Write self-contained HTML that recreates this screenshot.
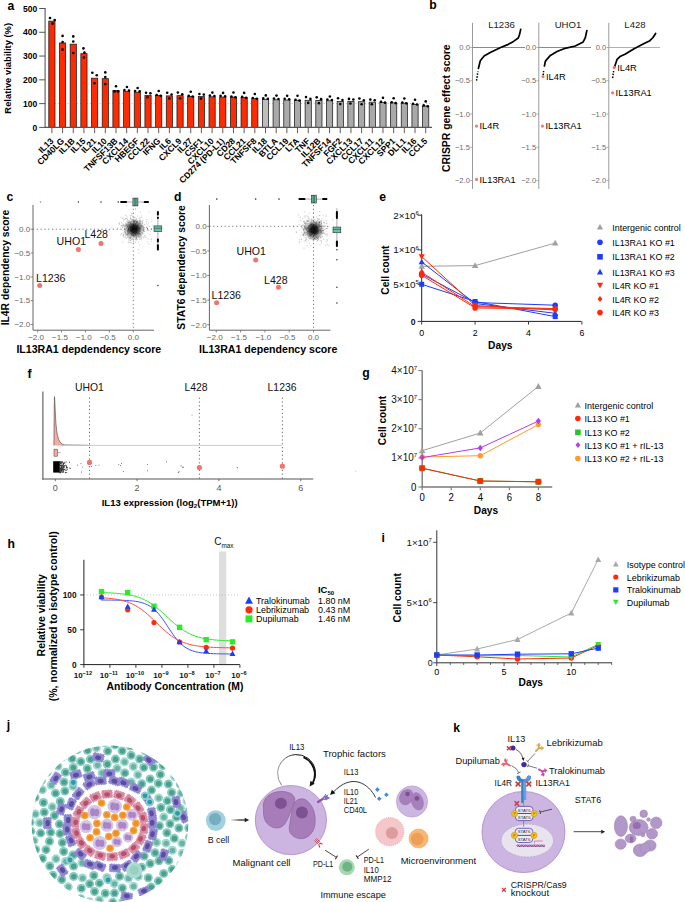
<!DOCTYPE html>
<html><head><meta charset="utf-8"><style>
html,body{margin:0;padding:0;background:#fff;overflow:hidden;}
svg{display:block;font-family:"Liberation Sans",sans-serif;}
</style></head><body>
<svg width="685" height="902" viewBox="0 0 685 902">
<rect width="685" height="902" fill="#fff"/>
<text x="7.4" y="9.9" font-size="12.2" font-weight="bold" fill="#000">a</text>
<line x1="45.1" y1="103.62" x2="432" y2="103.62" stroke="#9a9a9a" stroke-width="0.7" stroke-dasharray="1,2.2"/>
<rect x="48.8" y="21.1" width="6.2" height="106.3" fill="#fe2a00" stroke="#1a1a1a" stroke-width="0.75"/>
<circle cx="50" cy="18" r="1.3" fill="#000"/>
<circle cx="52.5" cy="23.6" r="1.3" fill="#000"/>
<circle cx="54.7" cy="20.1" r="1.3" fill="#000"/>
<line x1="51.9" y1="127.4" x2="51.9" y2="133.1" stroke="#333" stroke-width="0.8"/>
<text x="54.1" y="141.6" font-size="8.6" font-weight="bold" text-anchor="end" fill="#000" transform="rotate(-45 54.1 141.6)">IL13</text>
<rect x="59.48" y="42.98" width="6.2" height="84.42" fill="#fe2a00" stroke="#1a1a1a" stroke-width="0.75"/>
<circle cx="62.58" cy="35.9" r="1.3" fill="#000"/>
<circle cx="62.58" cy="42" r="1.3" fill="#000"/>
<circle cx="62.58" cy="49.6" r="1.3" fill="#000"/>
<line x1="62.58" y1="127.4" x2="62.58" y2="133.1" stroke="#333" stroke-width="0.8"/>
<text x="64.78" y="141.6" font-size="8.6" font-weight="bold" text-anchor="end" fill="#000" transform="rotate(-45 64.78 141.6)">CD40LG</text>
<rect x="70.16" y="44.17" width="6.2" height="83.23" fill="#fe2a00" stroke="#1a1a1a" stroke-width="0.75"/>
<circle cx="73.26" cy="36.4" r="1.3" fill="#000"/>
<circle cx="73.26" cy="41.5" r="1.3" fill="#000"/>
<circle cx="73.26" cy="53.1" r="1.3" fill="#000"/>
<line x1="73.26" y1="127.4" x2="73.26" y2="133.1" stroke="#333" stroke-width="0.8"/>
<text x="75.46" y="141.6" font-size="8.6" font-weight="bold" text-anchor="end" fill="#000" transform="rotate(-45 75.46 141.6)">IL1B</text>
<rect x="80.84" y="53.68" width="6.2" height="73.72" fill="#fe2a00" stroke="#1a1a1a" stroke-width="0.75"/>
<circle cx="83.44" cy="48.4" r="1.3" fill="#000"/>
<circle cx="84.44" cy="52.6" r="1.3" fill="#000"/>
<circle cx="83.94" cy="57.5" r="1.3" fill="#000"/>
<line x1="83.94" y1="127.4" x2="83.94" y2="133.1" stroke="#333" stroke-width="0.8"/>
<text x="86.14" y="141.6" font-size="8.6" font-weight="bold" text-anchor="end" fill="#000" transform="rotate(-45 86.14 141.6)">IL15</text>
<rect x="91.52" y="78.18" width="6.2" height="49.22" fill="#fe2a00" stroke="#1a1a1a" stroke-width="0.75"/>
<circle cx="92.32" cy="72.7" r="1.3" fill="#000"/>
<circle cx="96.72" cy="75.3" r="1.3" fill="#000"/>
<circle cx="94.62" cy="83.2" r="1.3" fill="#000"/>
<line x1="94.62" y1="127.4" x2="94.62" y2="133.1" stroke="#333" stroke-width="0.8"/>
<text x="96.82" y="141.6" font-size="8.6" font-weight="bold" text-anchor="end" fill="#000" transform="rotate(-45 96.82 141.6)">IL21</text>
<rect x="102.2" y="78.65" width="6.2" height="48.75" fill="#fe2a00" stroke="#1a1a1a" stroke-width="0.75"/>
<circle cx="105.3" cy="72.4" r="1.3" fill="#000"/>
<circle cx="105.3" cy="77.1" r="1.3" fill="#000"/>
<circle cx="105.3" cy="84.1" r="1.3" fill="#000"/>
<line x1="105.3" y1="127.4" x2="105.3" y2="133.1" stroke="#333" stroke-width="0.8"/>
<text x="107.5" y="141.6" font-size="8.6" font-weight="bold" text-anchor="end" fill="#000" transform="rotate(-45 107.5 141.6)">IL10</text>
<rect x="112.88" y="90.54" width="6.2" height="36.86" fill="#fe2a00" stroke="#1a1a1a" stroke-width="0.75"/>
<circle cx="115.98" cy="86.2" r="1.3" fill="#000"/>
<circle cx="114.58" cy="91.4" r="1.3" fill="#000"/>
<circle cx="118.08" cy="91.4" r="1.3" fill="#000"/>
<line x1="115.98" y1="127.4" x2="115.98" y2="133.1" stroke="#333" stroke-width="0.8"/>
<text x="118.18" y="141.6" font-size="8.6" font-weight="bold" text-anchor="end" fill="#000" transform="rotate(-45 118.18 141.6)">TNFSF13B</text>
<rect x="123.56" y="91.25" width="6.2" height="36.15" fill="#fe2a00" stroke="#1a1a1a" stroke-width="0.75"/>
<circle cx="124.46" cy="90.05" r="1.3" fill="#000"/>
<circle cx="126.96" cy="87.05" r="1.3" fill="#000"/>
<circle cx="128.96" cy="90.45" r="1.3" fill="#000"/>
<line x1="126.66" y1="127.4" x2="126.66" y2="133.1" stroke="#333" stroke-width="0.8"/>
<text x="128.86" y="141.6" font-size="8.6" font-weight="bold" text-anchor="end" fill="#000" transform="rotate(-45 128.86 141.6)">CXCL14</text>
<rect x="134.24" y="92.21" width="6.2" height="35.19" fill="#fe2a00" stroke="#1a1a1a" stroke-width="0.75"/>
<circle cx="135.14" cy="91.01" r="1.3" fill="#000"/>
<circle cx="137.64" cy="88.01" r="1.3" fill="#000"/>
<circle cx="139.64" cy="91.41" r="1.3" fill="#000"/>
<line x1="137.34" y1="127.4" x2="137.34" y2="133.1" stroke="#333" stroke-width="0.8"/>
<text x="139.54" y="141.6" font-size="8.6" font-weight="bold" text-anchor="end" fill="#000" transform="rotate(-45 139.54 141.6)">HBEGF</text>
<rect x="144.92" y="95.3" width="6.2" height="32.1" fill="#fe2a00" stroke="#1a1a1a" stroke-width="0.75"/>
<circle cx="146.02" cy="92.7" r="1.3" fill="#000"/>
<circle cx="150.42" cy="93.3" r="1.3" fill="#000"/>
<circle cx="147.52" cy="97.3" r="1.3" fill="#000"/>
<line x1="148.02" y1="127.4" x2="148.02" y2="133.1" stroke="#333" stroke-width="0.8"/>
<text x="150.22" y="141.6" font-size="8.6" font-weight="bold" text-anchor="end" fill="#000" transform="rotate(-45 150.22 141.6)">CCL22</text>
<rect x="155.6" y="95.53" width="6.2" height="31.87" fill="#fe2a00" stroke="#1a1a1a" stroke-width="0.75"/>
<circle cx="158.7" cy="90.93" r="1.3" fill="#000"/>
<circle cx="156.7" cy="94.93" r="1.3" fill="#000"/>
<circle cx="160.7" cy="95.73" r="1.3" fill="#000"/>
<line x1="158.7" y1="127.4" x2="158.7" y2="133.1" stroke="#333" stroke-width="0.8"/>
<text x="160.9" y="141.6" font-size="8.6" font-weight="bold" text-anchor="end" fill="#000" transform="rotate(-45 160.9 141.6)">IFNG</text>
<rect x="166.28" y="95.89" width="6.2" height="31.51" fill="#fe2a00" stroke="#1a1a1a" stroke-width="0.75"/>
<circle cx="167.18" cy="92.69" r="1.3" fill="#000"/>
<circle cx="171.58" cy="94.49" r="1.3" fill="#000"/>
<circle cx="169.38" cy="98.49" r="1.3" fill="#000"/>
<line x1="169.38" y1="127.4" x2="169.38" y2="133.1" stroke="#333" stroke-width="0.8"/>
<text x="171.58" y="141.6" font-size="8.6" font-weight="bold" text-anchor="end" fill="#000" transform="rotate(-45 171.58 141.6)">IL6</text>
<rect x="176.96" y="95.65" width="6.2" height="31.75" fill="#fe2a00" stroke="#1a1a1a" stroke-width="0.75"/>
<circle cx="177.86" cy="92.45" r="1.3" fill="#000"/>
<circle cx="182.26" cy="94.25" r="1.3" fill="#000"/>
<circle cx="180.06" cy="98.25" r="1.3" fill="#000"/>
<line x1="180.06" y1="127.4" x2="180.06" y2="133.1" stroke="#333" stroke-width="0.8"/>
<text x="182.26" y="141.6" font-size="8.6" font-weight="bold" text-anchor="end" fill="#000" transform="rotate(-45 182.26 141.6)">CXCL9</text>
<rect x="187.64" y="96.37" width="6.2" height="31.03" fill="#fe2a00" stroke="#1a1a1a" stroke-width="0.75"/>
<circle cx="190.74" cy="91.77" r="1.3" fill="#000"/>
<circle cx="188.74" cy="95.77" r="1.3" fill="#000"/>
<circle cx="192.74" cy="96.57" r="1.3" fill="#000"/>
<line x1="190.74" y1="127.4" x2="190.74" y2="133.1" stroke="#333" stroke-width="0.8"/>
<text x="192.94" y="141.6" font-size="8.6" font-weight="bold" text-anchor="end" fill="#000" transform="rotate(-45 192.94 141.6)">IL27</text>
<rect x="198.32" y="96.6" width="6.2" height="30.8" fill="#fe2a00" stroke="#1a1a1a" stroke-width="0.75"/>
<circle cx="199.42" cy="94" r="1.3" fill="#000"/>
<circle cx="203.82" cy="94.6" r="1.3" fill="#000"/>
<circle cx="200.92" cy="98.6" r="1.3" fill="#000"/>
<line x1="201.42" y1="127.4" x2="201.42" y2="133.1" stroke="#333" stroke-width="0.8"/>
<text x="203.62" y="141.6" font-size="8.6" font-weight="bold" text-anchor="end" fill="#000" transform="rotate(-45 203.62 141.6)">CSF1</text>
<rect x="209" y="96.82" width="6.2" height="30.58" fill="#fe2a00" stroke="#1a1a1a" stroke-width="0.75"/>
<circle cx="209.9" cy="95.62" r="1.3" fill="#000"/>
<circle cx="212.4" cy="92.62" r="1.3" fill="#000"/>
<circle cx="214.4" cy="96.02" r="1.3" fill="#000"/>
<line x1="212.1" y1="127.4" x2="212.1" y2="133.1" stroke="#333" stroke-width="0.8"/>
<text x="214.3" y="141.6" font-size="8.6" font-weight="bold" text-anchor="end" fill="#000" transform="rotate(-45 214.3 141.6)">CXCL10</text>
<rect x="219.68" y="97.1" width="6.2" height="30.3" fill="#fe2a00" stroke="#1a1a1a" stroke-width="0.75"/>
<circle cx="220.58" cy="95.9" r="1.3" fill="#000"/>
<circle cx="223.08" cy="92.9" r="1.3" fill="#000"/>
<circle cx="225.08" cy="96.3" r="1.3" fill="#000"/>
<line x1="222.78" y1="127.4" x2="222.78" y2="133.1" stroke="#333" stroke-width="0.8"/>
<text x="224.98" y="141.6" font-size="8.6" font-weight="bold" text-anchor="end" fill="#000" transform="rotate(-45 224.98 141.6)">CD274 (PD-L1)</text>
<rect x="230.36" y="97.1" width="6.2" height="30.3" fill="#fe2a00" stroke="#1a1a1a" stroke-width="0.75"/>
<circle cx="233.46" cy="92.5" r="1.3" fill="#000"/>
<circle cx="231.46" cy="96.5" r="1.3" fill="#000"/>
<circle cx="235.46" cy="97.3" r="1.3" fill="#000"/>
<line x1="233.46" y1="127.4" x2="233.46" y2="133.1" stroke="#333" stroke-width="0.8"/>
<text x="235.66" y="141.6" font-size="8.6" font-weight="bold" text-anchor="end" fill="#000" transform="rotate(-45 235.66 141.6)">CD28</text>
<rect x="241.04" y="97.51" width="6.2" height="29.89" fill="#fe2a00" stroke="#1a1a1a" stroke-width="0.75"/>
<circle cx="244.14" cy="92.91" r="1.3" fill="#000"/>
<circle cx="242.14" cy="96.91" r="1.3" fill="#000"/>
<circle cx="246.14" cy="97.71" r="1.3" fill="#000"/>
<line x1="244.14" y1="127.4" x2="244.14" y2="133.1" stroke="#333" stroke-width="0.8"/>
<text x="246.34" y="141.6" font-size="8.6" font-weight="bold" text-anchor="end" fill="#000" transform="rotate(-45 246.34 141.6)">CCL21</text>
<rect x="251.72" y="98.63" width="6.2" height="28.77" fill="#fe2a00" stroke="#1a1a1a" stroke-width="0.75"/>
<circle cx="254.82" cy="94.03" r="1.3" fill="#000"/>
<circle cx="252.82" cy="98.03" r="1.3" fill="#000"/>
<circle cx="256.82" cy="98.83" r="1.3" fill="#000"/>
<line x1="254.82" y1="127.4" x2="254.82" y2="133.1" stroke="#333" stroke-width="0.8"/>
<text x="257.02" y="141.6" font-size="8.6" font-weight="bold" text-anchor="end" fill="#000" transform="rotate(-45 257.02 141.6)">TNFSF8</text>
<rect x="262.4" y="99.58" width="6.2" height="27.82" fill="#bdbdbd" stroke="#1a1a1a" stroke-width="0.75"/>
<circle cx="263.3" cy="98.38" r="1.3" fill="#000"/>
<circle cx="265.8" cy="95.38" r="1.3" fill="#000"/>
<circle cx="267.8" cy="98.78" r="1.3" fill="#000"/>
<line x1="265.5" y1="127.4" x2="265.5" y2="133.1" stroke="#333" stroke-width="0.8"/>
<text x="267.7" y="141.6" font-size="8.6" font-weight="bold" text-anchor="end" fill="#000" transform="rotate(-45 267.7 141.6)">IL18</text>
<rect x="273.08" y="99.82" width="6.2" height="27.58" fill="#a9a9a9" stroke="#1a1a1a" stroke-width="0.75"/>
<circle cx="273.98" cy="98.62" r="1.3" fill="#000"/>
<circle cx="276.48" cy="95.62" r="1.3" fill="#000"/>
<circle cx="278.48" cy="99.02" r="1.3" fill="#000"/>
<line x1="276.18" y1="127.4" x2="276.18" y2="133.1" stroke="#333" stroke-width="0.8"/>
<text x="278.38" y="141.6" font-size="8.6" font-weight="bold" text-anchor="end" fill="#000" transform="rotate(-45 278.38 141.6)">BTLA</text>
<rect x="283.76" y="100.05" width="6.2" height="27.35" fill="#a9a9a9" stroke="#1a1a1a" stroke-width="0.75"/>
<circle cx="284.66" cy="98.85" r="1.3" fill="#000"/>
<circle cx="287.16" cy="95.85" r="1.3" fill="#000"/>
<circle cx="289.16" cy="99.25" r="1.3" fill="#000"/>
<line x1="286.86" y1="127.4" x2="286.86" y2="133.1" stroke="#333" stroke-width="0.8"/>
<text x="289.06" y="141.6" font-size="8.6" font-weight="bold" text-anchor="end" fill="#000" transform="rotate(-45 289.06 141.6)">CCL19</text>
<rect x="294.44" y="100.29" width="6.2" height="27.11" fill="#a9a9a9" stroke="#1a1a1a" stroke-width="0.75"/>
<circle cx="297.54" cy="95.69" r="1.3" fill="#000"/>
<circle cx="295.54" cy="99.69" r="1.3" fill="#000"/>
<circle cx="299.54" cy="100.49" r="1.3" fill="#000"/>
<line x1="297.54" y1="127.4" x2="297.54" y2="133.1" stroke="#333" stroke-width="0.8"/>
<text x="299.74" y="141.6" font-size="8.6" font-weight="bold" text-anchor="end" fill="#000" transform="rotate(-45 299.74 141.6)">LTA</text>
<rect x="305.12" y="100.29" width="6.2" height="27.11" fill="#a9a9a9" stroke="#1a1a1a" stroke-width="0.75"/>
<circle cx="306.02" cy="97.09" r="1.3" fill="#000"/>
<circle cx="310.42" cy="98.89" r="1.3" fill="#000"/>
<circle cx="308.22" cy="102.89" r="1.3" fill="#000"/>
<line x1="308.22" y1="127.4" x2="308.22" y2="133.1" stroke="#333" stroke-width="0.8"/>
<text x="310.42" y="141.6" font-size="8.6" font-weight="bold" text-anchor="end" fill="#000" transform="rotate(-45 310.42 141.6)">TNF</text>
<rect x="315.8" y="100.53" width="6.2" height="26.87" fill="#a9a9a9" stroke="#1a1a1a" stroke-width="0.75"/>
<circle cx="316.7" cy="97.33" r="1.3" fill="#000"/>
<circle cx="321.1" cy="99.13" r="1.3" fill="#000"/>
<circle cx="318.9" cy="103.13" r="1.3" fill="#000"/>
<line x1="318.9" y1="127.4" x2="318.9" y2="133.1" stroke="#333" stroke-width="0.8"/>
<text x="321.1" y="141.6" font-size="8.6" font-weight="bold" text-anchor="end" fill="#000" transform="rotate(-45 321.1 141.6)">IL12B</text>
<rect x="326.48" y="100.77" width="6.2" height="26.63" fill="#a9a9a9" stroke="#1a1a1a" stroke-width="0.75"/>
<circle cx="327.38" cy="99.57" r="1.3" fill="#000"/>
<circle cx="329.88" cy="96.57" r="1.3" fill="#000"/>
<circle cx="331.88" cy="99.97" r="1.3" fill="#000"/>
<line x1="329.58" y1="127.4" x2="329.58" y2="133.1" stroke="#333" stroke-width="0.8"/>
<text x="331.78" y="141.6" font-size="8.6" font-weight="bold" text-anchor="end" fill="#000" transform="rotate(-45 331.78 141.6)">TNFSF14</text>
<rect x="337.16" y="101.48" width="6.2" height="25.92" fill="#a9a9a9" stroke="#1a1a1a" stroke-width="0.75"/>
<circle cx="338.06" cy="98.28" r="1.3" fill="#000"/>
<circle cx="342.46" cy="100.08" r="1.3" fill="#000"/>
<circle cx="340.26" cy="104.08" r="1.3" fill="#000"/>
<line x1="340.26" y1="127.4" x2="340.26" y2="133.1" stroke="#333" stroke-width="0.8"/>
<text x="342.46" y="141.6" font-size="8.6" font-weight="bold" text-anchor="end" fill="#000" transform="rotate(-45 342.46 141.6)">FGF2</text>
<rect x="347.84" y="101.48" width="6.2" height="25.92" fill="#a9a9a9" stroke="#1a1a1a" stroke-width="0.75"/>
<circle cx="348.94" cy="98.88" r="1.3" fill="#000"/>
<circle cx="353.34" cy="99.48" r="1.3" fill="#000"/>
<circle cx="350.44" cy="103.48" r="1.3" fill="#000"/>
<line x1="350.94" y1="127.4" x2="350.94" y2="133.1" stroke="#333" stroke-width="0.8"/>
<text x="353.14" y="141.6" font-size="8.6" font-weight="bold" text-anchor="end" fill="#000" transform="rotate(-45 353.14 141.6)">CXCL13</text>
<rect x="358.52" y="101.72" width="6.2" height="25.68" fill="#a9a9a9" stroke="#1a1a1a" stroke-width="0.75"/>
<circle cx="359.42" cy="98.52" r="1.3" fill="#000"/>
<circle cx="363.82" cy="100.32" r="1.3" fill="#000"/>
<circle cx="361.62" cy="104.32" r="1.3" fill="#000"/>
<line x1="361.62" y1="127.4" x2="361.62" y2="133.1" stroke="#333" stroke-width="0.8"/>
<text x="363.82" y="141.6" font-size="8.6" font-weight="bold" text-anchor="end" fill="#000" transform="rotate(-45 363.82 141.6)">CCL17</text>
<rect x="369.2" y="102.19" width="6.2" height="25.21" fill="#a9a9a9" stroke="#1a1a1a" stroke-width="0.75"/>
<circle cx="370.3" cy="99.59" r="1.3" fill="#000"/>
<circle cx="374.7" cy="100.19" r="1.3" fill="#000"/>
<circle cx="371.8" cy="104.19" r="1.3" fill="#000"/>
<line x1="372.3" y1="127.4" x2="372.3" y2="133.1" stroke="#333" stroke-width="0.8"/>
<text x="374.5" y="141.6" font-size="8.6" font-weight="bold" text-anchor="end" fill="#000" transform="rotate(-45 374.5 141.6)">CXCL11</text>
<rect x="379.88" y="102.43" width="6.2" height="24.97" fill="#a9a9a9" stroke="#1a1a1a" stroke-width="0.75"/>
<circle cx="382.98" cy="97.83" r="1.3" fill="#000"/>
<circle cx="380.98" cy="101.83" r="1.3" fill="#000"/>
<circle cx="384.98" cy="102.63" r="1.3" fill="#000"/>
<line x1="382.98" y1="127.4" x2="382.98" y2="133.1" stroke="#333" stroke-width="0.8"/>
<text x="385.18" y="141.6" font-size="8.6" font-weight="bold" text-anchor="end" fill="#000" transform="rotate(-45 385.18 141.6)">CXCL12</text>
<rect x="390.56" y="102.91" width="6.2" height="24.49" fill="#a9a9a9" stroke="#1a1a1a" stroke-width="0.75"/>
<circle cx="393.66" cy="98.31" r="1.3" fill="#000"/>
<circle cx="391.66" cy="102.31" r="1.3" fill="#000"/>
<circle cx="395.66" cy="103.11" r="1.3" fill="#000"/>
<line x1="393.66" y1="127.4" x2="393.66" y2="133.1" stroke="#333" stroke-width="0.8"/>
<text x="395.86" y="141.6" font-size="8.6" font-weight="bold" text-anchor="end" fill="#000" transform="rotate(-45 395.86 141.6)">SPP1</text>
<rect x="401.24" y="103.14" width="6.2" height="24.26" fill="#a9a9a9" stroke="#1a1a1a" stroke-width="0.75"/>
<circle cx="404.34" cy="98.54" r="1.3" fill="#000"/>
<circle cx="402.34" cy="102.54" r="1.3" fill="#000"/>
<circle cx="406.34" cy="103.34" r="1.3" fill="#000"/>
<line x1="404.34" y1="127.4" x2="404.34" y2="133.1" stroke="#333" stroke-width="0.8"/>
<text x="406.54" y="141.6" font-size="8.6" font-weight="bold" text-anchor="end" fill="#000" transform="rotate(-45 406.54 141.6)">DLL1</text>
<rect x="411.92" y="104.33" width="6.2" height="23.07" fill="#a9a9a9" stroke="#1a1a1a" stroke-width="0.75"/>
<circle cx="415.02" cy="99.73" r="1.3" fill="#000"/>
<circle cx="413.02" cy="103.73" r="1.3" fill="#000"/>
<circle cx="417.02" cy="104.53" r="1.3" fill="#000"/>
<line x1="415.02" y1="127.4" x2="415.02" y2="133.1" stroke="#333" stroke-width="0.8"/>
<text x="417.22" y="141.6" font-size="8.6" font-weight="bold" text-anchor="end" fill="#000" transform="rotate(-45 417.22 141.6)">IL16</text>
<rect x="422.6" y="106" width="6.2" height="21.4" fill="#a9a9a9" stroke="#1a1a1a" stroke-width="0.75"/>
<circle cx="425.7" cy="101.4" r="1.3" fill="#000"/>
<circle cx="423.7" cy="105.4" r="1.3" fill="#000"/>
<circle cx="427.7" cy="106.2" r="1.3" fill="#000"/>
<line x1="425.7" y1="127.4" x2="425.7" y2="133.1" stroke="#333" stroke-width="0.8"/>
<text x="427.9" y="141.6" font-size="8.6" font-weight="bold" text-anchor="end" fill="#000" transform="rotate(-45 427.9 141.6)">CCL5</text>
<line x1="45.1" y1="8" x2="45.1" y2="127.9" stroke="#666" stroke-width="1.2"/>
<line x1="44.5" y1="127.4" x2="432" y2="127.4" stroke="#555" stroke-width="1.1"/>
<line x1="39.2" y1="127.4" x2="45.1" y2="127.4" stroke="#555" stroke-width="1"/>
<text x="37.2" y="130.5" font-size="8.5" font-weight="bold" text-anchor="end" fill="#000">0</text>
<line x1="39.2" y1="103.62" x2="45.1" y2="103.62" stroke="#555" stroke-width="1"/>
<text x="37.2" y="106.72" font-size="8.5" font-weight="bold" text-anchor="end" fill="#000">100</text>
<line x1="39.2" y1="79.84" x2="45.1" y2="79.84" stroke="#555" stroke-width="1"/>
<text x="37.2" y="82.94" font-size="8.5" font-weight="bold" text-anchor="end" fill="#000">200</text>
<line x1="39.2" y1="56.06" x2="45.1" y2="56.06" stroke="#555" stroke-width="1"/>
<text x="37.2" y="59.16" font-size="8.5" font-weight="bold" text-anchor="end" fill="#000">300</text>
<line x1="39.2" y1="32.28" x2="45.1" y2="32.28" stroke="#555" stroke-width="1"/>
<text x="37.2" y="35.38" font-size="8.5" font-weight="bold" text-anchor="end" fill="#000">400</text>
<line x1="39.2" y1="8.5" x2="45.1" y2="8.5" stroke="#555" stroke-width="1"/>
<text x="37.2" y="11.6" font-size="8.5" font-weight="bold" text-anchor="end" fill="#000">500</text>
<text x="11.2" y="68.3" font-size="9.4" font-weight="bold" text-anchor="middle" fill="#000" transform="rotate(-90 11.2 68.3)">Relative viability (%)</text>
<text x="429.3" y="9.4" font-size="12.2" font-weight="bold" fill="#000">b</text>
<text x="449.6" y="108.2" font-size="10.4" font-weight="bold" text-anchor="middle" fill="#000" transform="rotate(-90 449.6 108.2)">CRISPR gene effect score</text>
<line x1="472.5" y1="22.8" x2="472.5" y2="189" stroke="#9a9a9a" stroke-width="1"/>
<line x1="472.5" y1="47.5" x2="525" y2="47.5" stroke="#8a8a8a" stroke-width="1"/>
<line x1="470.3" y1="47.5" x2="472.5" y2="47.5" stroke="#9a9a9a" stroke-width="0.8"/>
<text x="469.9" y="50.2" font-size="7.6" text-anchor="end" fill="#6a6a6a">0.0</text>
<line x1="470.3" y1="80.75" x2="472.5" y2="80.75" stroke="#9a9a9a" stroke-width="0.8"/>
<text x="469.9" y="83.45" font-size="7.6" text-anchor="end" fill="#6a6a6a">−0.5</text>
<line x1="470.3" y1="114" x2="472.5" y2="114" stroke="#9a9a9a" stroke-width="0.8"/>
<text x="469.9" y="116.7" font-size="7.6" text-anchor="end" fill="#6a6a6a">−1.0</text>
<line x1="470.3" y1="147.25" x2="472.5" y2="147.25" stroke="#9a9a9a" stroke-width="0.8"/>
<text x="469.9" y="149.95" font-size="7.6" text-anchor="end" fill="#6a6a6a">−1.5</text>
<line x1="470.3" y1="180.5" x2="472.5" y2="180.5" stroke="#9a9a9a" stroke-width="0.8"/>
<text x="469.9" y="183.2" font-size="7.6" text-anchor="end" fill="#6a6a6a">−2.0</text>
<text x="501.5" y="28.3" font-size="9.6" text-anchor="middle" fill="#222">L1236</text>
<polyline points="476.5,80.7 477.2,76.5 477.9,71.5" fill="none" stroke="#000" stroke-width="1.5" stroke-dasharray="1.6,1.3"/>
<polyline points="478.4,68.5 480.3,60.7 484.1,56 490.7,52.2 501.2,47.3 507.8,44.6 513.5,41.4 518.3,38 519.6,34.2 520.7,29.4" fill="none" stroke="#000" stroke-width="1.7" stroke-linejoin="round" stroke-linecap="round"/>
<circle cx="476.5" cy="126.1" r="1.6" fill="#f07a6e"/>
<text x="479.5" y="129.4" font-size="9.3" fill="#000">IL4R</text>
<circle cx="476.5" cy="179.4" r="1.6" fill="#f07a6e"/>
<text x="479.5" y="182.7" font-size="9.3" fill="#000">IL13RA1</text>
<line x1="538.8" y1="22.8" x2="538.8" y2="189" stroke="#9a9a9a" stroke-width="1"/>
<line x1="538.8" y1="47.5" x2="591" y2="47.5" stroke="#8a8a8a" stroke-width="1"/>
<line x1="536.6" y1="47.5" x2="538.8" y2="47.5" stroke="#9a9a9a" stroke-width="0.8"/>
<text x="536.2" y="50.2" font-size="7.6" text-anchor="end" fill="#6a6a6a">0.0</text>
<line x1="536.6" y1="80.75" x2="538.8" y2="80.75" stroke="#9a9a9a" stroke-width="0.8"/>
<text x="536.2" y="83.45" font-size="7.6" text-anchor="end" fill="#6a6a6a">−0.5</text>
<line x1="536.6" y1="114" x2="538.8" y2="114" stroke="#9a9a9a" stroke-width="0.8"/>
<text x="536.2" y="116.7" font-size="7.6" text-anchor="end" fill="#6a6a6a">−1.0</text>
<line x1="536.6" y1="147.25" x2="538.8" y2="147.25" stroke="#9a9a9a" stroke-width="0.8"/>
<text x="536.2" y="149.95" font-size="7.6" text-anchor="end" fill="#6a6a6a">−1.5</text>
<line x1="536.6" y1="180.5" x2="538.8" y2="180.5" stroke="#9a9a9a" stroke-width="0.8"/>
<text x="536.2" y="183.2" font-size="7.6" text-anchor="end" fill="#6a6a6a">−2.0</text>
<text x="568" y="28.3" font-size="9.6" text-anchor="middle" fill="#222">UHO1</text>
<polyline points="542.9,78 543.6,71" fill="none" stroke="#000" stroke-width="1.5" stroke-dasharray="1.6,1.3"/>
<polyline points="544.4,66 545.4,61.1 550.4,55.4 557,51.5 564,48.7 575.3,46 583.2,41.9 585.4,37.3 586.3,33 586.9,30.5" fill="none" stroke="#000" stroke-width="1.7" stroke-linejoin="round" stroke-linecap="round"/>
<circle cx="543" cy="76.6" r="1.6" fill="#f07a6e"/>
<text x="546" y="79.9" font-size="9.3" fill="#000">IL4R</text>
<circle cx="542.4" cy="126.1" r="1.6" fill="#f07a6e"/>
<text x="545.4" y="129.4" font-size="9.3" fill="#000">IL13RA1</text>
<line x1="608.8" y1="22.8" x2="608.8" y2="189" stroke="#9a9a9a" stroke-width="1"/>
<line x1="608.8" y1="47.5" x2="660" y2="47.5" stroke="#b0b0b0" stroke-width="1"/>
<line x1="606.6" y1="47.5" x2="608.8" y2="47.5" stroke="#9a9a9a" stroke-width="0.8"/>
<text x="606.2" y="50.2" font-size="7.6" text-anchor="end" fill="#6a6a6a">0.0</text>
<line x1="606.6" y1="80.75" x2="608.8" y2="80.75" stroke="#9a9a9a" stroke-width="0.8"/>
<text x="606.2" y="83.45" font-size="7.6" text-anchor="end" fill="#6a6a6a">−0.5</text>
<line x1="606.6" y1="114" x2="608.8" y2="114" stroke="#9a9a9a" stroke-width="0.8"/>
<text x="606.2" y="116.7" font-size="7.6" text-anchor="end" fill="#6a6a6a">−1.0</text>
<line x1="606.6" y1="147.25" x2="608.8" y2="147.25" stroke="#9a9a9a" stroke-width="0.8"/>
<text x="606.2" y="149.95" font-size="7.6" text-anchor="end" fill="#6a6a6a">−1.5</text>
<line x1="606.6" y1="180.5" x2="608.8" y2="180.5" stroke="#9a9a9a" stroke-width="0.8"/>
<text x="606.2" y="183.2" font-size="7.6" text-anchor="end" fill="#6a6a6a">−2.0</text>
<text x="635" y="28.3" font-size="9.6" text-anchor="middle" fill="#222">L428</text>
<polyline points="612.6,78.1 613.6,71" fill="none" stroke="#000" stroke-width="1.5" stroke-dasharray="1.6,1.3"/>
<polyline points="614.2,67.9 617.1,59.3 620,56.6 625,54.3 634.1,48.7 643.1,44.1 649.9,40.7 653,37.5 655.6,33.5" fill="none" stroke="#000" stroke-width="1.7" stroke-linejoin="round" stroke-linecap="round"/>
<circle cx="614.2" cy="67.4" r="1.6" fill="#f07a6e"/>
<text x="617.2" y="70.7" font-size="9.3" fill="#000">IL4R</text>
<circle cx="612.6" cy="92.8" r="1.6" fill="#f07a6e"/>
<text x="615.6" y="96.1" font-size="9.3" fill="#000">IL13RA1</text>
<text x="6.6" y="200.8" font-size="12.2" font-weight="bold" fill="#000">c</text>
<line x1="33" y1="205" x2="33" y2="330.2" stroke="#666" stroke-width="1"/>
<line x1="33" y1="330.2" x2="154" y2="330.2" stroke="#666" stroke-width="1"/>
<line x1="30.8" y1="229.2" x2="33" y2="229.2" stroke="#666" stroke-width="0.8"/>
<text x="30.2" y="232" font-size="8" text-anchor="end" fill="#666">0.0</text>
<line x1="133.3" y1="330.2" x2="133.3" y2="332.4" stroke="#666" stroke-width="0.8"/>
<text x="133.3" y="339.6" font-size="8" text-anchor="middle" fill="#666">0.0</text>
<line x1="30.8" y1="253.02" x2="33" y2="253.02" stroke="#666" stroke-width="0.8"/>
<text x="30.2" y="255.82" font-size="8" text-anchor="end" fill="#666">−0.5</text>
<line x1="109.4" y1="330.2" x2="109.4" y2="332.4" stroke="#666" stroke-width="0.8"/>
<text x="107.8" y="339.6" font-size="8" text-anchor="middle" fill="#666">−0.5</text>
<line x1="30.8" y1="276.85" x2="33" y2="276.85" stroke="#666" stroke-width="0.8"/>
<text x="30.2" y="279.65" font-size="8" text-anchor="end" fill="#666">−1.0</text>
<line x1="85.5" y1="330.2" x2="85.5" y2="332.4" stroke="#666" stroke-width="0.8"/>
<text x="83.9" y="339.6" font-size="8" text-anchor="middle" fill="#666">−1.0</text>
<line x1="30.8" y1="300.67" x2="33" y2="300.67" stroke="#666" stroke-width="0.8"/>
<text x="30.2" y="303.47" font-size="8" text-anchor="end" fill="#666">−1.5</text>
<line x1="61.6" y1="330.2" x2="61.6" y2="332.4" stroke="#666" stroke-width="0.8"/>
<text x="60" y="339.6" font-size="8" text-anchor="middle" fill="#666">−1.5</text>
<line x1="30.8" y1="324.5" x2="33" y2="324.5" stroke="#666" stroke-width="0.8"/>
<text x="30.2" y="327.3" font-size="8" text-anchor="end" fill="#666">−2.0</text>
<line x1="37.7" y1="330.2" x2="37.7" y2="332.4" stroke="#666" stroke-width="0.8"/>
<text x="36.1" y="339.6" font-size="8" text-anchor="middle" fill="#666">−2.0</text>
<line x1="33" y1="229.2" x2="154" y2="229.2" stroke="#555" stroke-width="0.8" stroke-dasharray="1.2,2.6"/>
<line x1="133.3" y1="205" x2="133.3" y2="330.2" stroke="#555" stroke-width="0.8" stroke-dasharray="1.2,2.6"/>
<defs><radialGradient id="gc"><stop offset="0" stop-color="#000" stop-opacity="0.9"/><stop offset="0.3" stop-color="#000" stop-opacity="0.78"/><stop offset="0.62" stop-color="#000" stop-opacity="0.3"/><stop offset="1" stop-color="#000" stop-opacity="0"/></radialGradient></defs>
<circle cx="134.1" cy="228.8" r="11" fill="url(#gc)"/>
<path d="M118.81 222.47h1v1h-1zM130.54 225.58h1v1h-1zM147 227.94h1v1h-1zM131.42 229.94h1v1h-1zM133.37 226.3h1v1h-1zM133.26 234.83h1v1h-1zM135.79 223.47h1v1h-1zM132.43 232.49h1v1h-1zM138.1 233.18h1v1h-1zM135.1 228.29h1v1h-1zM126.76 234.54h1v1h-1zM134.94 239.05h1v1h-1zM127.36 231.2h1v1h-1zM129.03 231.04h1v1h-1zM146.61 230.34h1v1h-1zM136.01 233.34h1v1h-1zM126.5 225.03h1v1h-1zM139.91 224.29h1v1h-1zM131.38 215.08h1v1h-1zM137.48 225.5h1v1h-1zM141.57 231.8h1v1h-1zM138.15 228.96h1v1h-1zM136.14 232.29h1v1h-1zM137.05 232.16h1v1h-1zM134.02 220.04h1v1h-1zM137.64 227.03h1v1h-1zM148.34 229.73h1v1h-1zM141.45 220.91h1v1h-1zM125.77 224.64h1v1h-1zM137.58 225.62h1v1h-1zM149.35 234.37h1v1h-1zM138.65 224.51h1v1h-1zM140.94 234.78h1v1h-1zM133.85 231.73h1v1h-1zM136.4 229.43h1v1h-1zM138.65 233.03h1v1h-1zM134.69 227.21h1v1h-1zM133.05 224.71h1v1h-1zM131.11 231.19h1v1h-1zM126.25 218.02h1v1h-1zM134.25 221.32h1v1h-1zM128.18 221.72h1v1h-1zM129.67 223.03h1v1h-1zM133.75 225.02h1v1h-1zM128.02 227.74h1v1h-1zM139.11 228.06h1v1h-1zM129.52 239.96h1v1h-1zM132.91 226.64h1v1h-1zM131.89 234.88h1v1h-1zM138.34 231.5h1v1h-1zM136.59 222.07h1v1h-1zM136.74 215.61h1v1h-1zM134.54 231.06h1v1h-1zM146.5 227.66h1v1h-1zM129.9 238.06h1v1h-1zM143.74 230.76h1v1h-1zM140.68 223.5h1v1h-1zM131.78 229.68h1v1h-1zM136.22 226.48h1v1h-1zM136.22 226.36h1v1h-1zM131.93 226.47h1v1h-1zM135.06 232.48h1v1h-1zM129 227.47h1v1h-1zM133.63 221.4h1v1h-1zM138.47 236.55h1v1h-1zM134.02 228.89h1v1h-1zM128.18 227.43h1v1h-1zM135.05 207.87h1v1h-1zM133.5 233.11h1v1h-1zM126.8 229.93h1v1h-1zM135.54 234.9h1v1h-1zM131.07 213.25h1v1h-1zM129.37 230.49h1v1h-1zM134.42 228.51h1v1h-1zM132.56 229.14h1v1h-1zM123.34 224.74h1v1h-1zM132.4 226.18h1v1h-1zM137.27 229.2h1v1h-1zM127.23 221.98h1v1h-1zM132.19 234.46h1v1h-1zM138.72 222.59h1v1h-1zM124.15 219.08h1v1h-1zM135.81 228.14h1v1h-1zM129.5 231.62h1v1h-1zM139.68 236h1v1h-1zM122.69 234.79h1v1h-1zM136.8 229.92h1v1h-1zM147.43 238.46h1v1h-1zM132.25 231.1h1v1h-1zM138.13 226.9h1v1h-1zM126.45 237.26h1v1h-1zM127.57 231.65h1v1h-1zM140.68 227.83h1v1h-1zM135.07 224.39h1v1h-1zM137.47 233.75h1v1h-1zM132.95 223.71h1v1h-1zM128.53 224.1h1v1h-1zM132.8 225.64h1v1h-1zM136.64 227.41h1v1h-1zM131.19 231.08h1v1h-1zM123.2 236.35h1v1h-1zM130.45 224.03h1v1h-1zM134.39 225.18h1v1h-1zM144.41 236.61h1v1h-1zM136.07 230.35h1v1h-1zM139.37 224.32h1v1h-1zM136.58 230.44h1v1h-1zM128.45 225.05h1v1h-1zM130.71 233.69h1v1h-1zM124.4 233.48h1v1h-1zM130.32 227.28h1v1h-1zM140.95 224.74h1v1h-1zM127.77 235.51h1v1h-1zM148.77 225.97h1v1h-1zM143.62 235.36h1v1h-1zM133.11 233.58h1v1h-1zM122.64 225.21h1v1h-1z" fill="#000" fill-opacity="0.22"/>
<path d="M124.3 227.84h1v1h-1zM132.29 228.06h1v1h-1zM131.58 232.94h1v1h-1zM134.59 222.84h1v1h-1zM139.04 233.19h1v1h-1zM133.17 229.72h1v1h-1zM133 219.3h1v1h-1zM138.18 230.41h1v1h-1zM143.76 227.05h1v1h-1zM132.37 213.32h1v1h-1zM142.36 233.13h1v1h-1zM121.75 217.92h1v1h-1zM138.63 223.59h1v1h-1zM128.26 240.57h1v1h-1zM134.35 229.21h1v1h-1zM132.1 223.94h1v1h-1zM140.94 225.62h1v1h-1zM137.16 230.34h1v1h-1zM141.28 225.57h1v1h-1zM141.96 226.62h1v1h-1zM141.9 225.99h1v1h-1zM132.31 225.21h1v1h-1zM128.06 221.73h1v1h-1zM133.41 231.46h1v1h-1zM134.6 230.78h1v1h-1zM129.96 235.26h1v1h-1zM129.69 214.96h1v1h-1zM134.28 221.19h1v1h-1zM139.05 228.3h1v1h-1zM142.48 226.44h1v1h-1zM128.54 227.44h1v1h-1zM142.71 227.66h1v1h-1zM134.26 230.49h1v1h-1zM135.7 218.72h1v1h-1zM132.34 227.06h1v1h-1zM134.17 223.49h1v1h-1zM129.57 226.58h1v1h-1zM132.35 223.53h1v1h-1zM135.26 232.91h1v1h-1zM127.19 226.36h1v1h-1zM139.16 227.18h1v1h-1zM135.96 221.37h1v1h-1zM137.49 229.91h1v1h-1zM136.87 221h1v1h-1zM130.77 223.99h1v1h-1zM140.62 238.04h1v1h-1zM135.04 227.47h1v1h-1zM123.96 230.66h1v1h-1zM131.71 234.36h1v1h-1zM136.63 234.72h1v1h-1zM133.03 228.65h1v1h-1zM140.1 238.31h1v1h-1zM128.39 225.58h1v1h-1zM142.97 237.4h1v1h-1zM126.7 234.64h1v1h-1zM138.58 227h1v1h-1zM119.79 234.56h1v1h-1zM128.49 227.45h1v1h-1zM139.79 234.4h1v1h-1zM151.22 220.53h1v1h-1zM136.75 229.32h1v1h-1zM130.17 222.53h1v1h-1zM131.08 226.48h1v1h-1zM129.19 228.3h1v1h-1zM127.51 230.69h1v1h-1zM126.67 231.32h1v1h-1zM144.62 235.15h1v1h-1zM127.56 230.04h1v1h-1zM125.03 230.41h1v1h-1zM124.64 236.59h1v1h-1zM132.3 224.93h1v1h-1zM131.96 231.67h1v1h-1zM132.81 225.46h1v1h-1zM121.94 223.17h1v1h-1zM131.5 232.23h1v1h-1zM130.79 230.58h1v1h-1zM120.56 216.76h1v1h-1zM131.22 234.47h1v1h-1zM139.79 227.07h1v1h-1zM134.03 233.58h1v1h-1zM133.49 232.82h1v1h-1zM138.41 233.12h1v1h-1zM135.12 229.7h1v1h-1zM140.5 227.47h1v1h-1zM134.21 232.62h1v1h-1zM138.09 230h1v1h-1zM130.5 236.12h1v1h-1zM132.8 225.53h1v1h-1zM133.46 225.69h1v1h-1zM128.55 238.88h1v1h-1zM131.15 225.53h1v1h-1zM129.6 225.37h1v1h-1zM148.47 243.49h1v1h-1zM136.67 224.84h1v1h-1zM137.01 229.1h1v1h-1zM132.48 228.82h1v1h-1zM139.43 228.11h1v1h-1zM130.51 242.17h1v1h-1zM131.13 223.67h1v1h-1zM130.48 222.68h1v1h-1zM126.23 205.1h1v1h-1zM133.33 241.08h1v1h-1zM140.03 234.7h1v1h-1zM138.16 227.44h1v1h-1zM125.15 217.67h1v1h-1zM133.4 225.37h1v1h-1zM130.86 228.58h1v1h-1zM121.94 227.11h1v1h-1zM135.99 218.55h1v1h-1zM135.99 226.92h1v1h-1zM130.13 237.06h1v1h-1zM124.33 236.17h1v1h-1zM139.8 227.54h1v1h-1zM128.54 228.72h1v1h-1zM135.07 232.77h1v1h-1zM130.77 227.63h1v1h-1zM125.18 215.04h1v1h-1z" fill="#000" fill-opacity="0.22"/>
<path d="M128.26 227.9h1v1h-1zM133.65 229.24h1v1h-1zM139.46 231.07h1v1h-1zM128.74 236.81h1v1h-1zM132.35 238.33h1v1h-1zM131.14 226.89h1v1h-1zM141.08 225.88h1v1h-1zM139.4 220.57h1v1h-1zM130.28 226.35h1v1h-1zM130.03 216.39h1v1h-1zM141.83 220.55h1v1h-1zM136.81 228.53h1v1h-1zM132.06 231.76h1v1h-1zM130.96 229.11h1v1h-1zM124.28 231.56h1v1h-1zM133.87 221.3h1v1h-1zM136.73 239.05h1v1h-1zM134.53 220.26h1v1h-1zM137.85 230.85h1v1h-1zM136.23 236.57h1v1h-1zM131.65 228.63h1v1h-1zM132.29 227.08h1v1h-1zM123.06 219.39h1v1h-1zM122.7 234.15h1v1h-1zM138.28 229.42h1v1h-1zM125.01 232.34h1v1h-1zM125.78 233.65h1v1h-1zM139.38 231.05h1v1h-1zM135.04 208.76h1v1h-1zM125.35 218.58h1v1h-1zM132.36 233.71h1v1h-1zM136.94 226.05h1v1h-1zM138.98 233.63h1v1h-1zM132.82 234.02h1v1h-1zM136.27 229.61h1v1h-1zM133.25 235.22h1v1h-1zM129.94 239.83h1v1h-1zM147.99 222.59h1v1h-1zM120.71 224.94h1v1h-1zM139.01 231.35h1v1h-1zM122.72 225.7h1v1h-1zM137.39 233.27h1v1h-1zM135.2 227.27h1v1h-1zM140 222.83h1v1h-1zM129.99 228.93h1v1h-1zM136.79 221.68h1v1h-1zM135.86 236.77h1v1h-1zM132.97 227.39h1v1h-1zM132.14 225.77h1v1h-1zM131.06 226.63h1v1h-1zM130.26 218.06h1v1h-1zM127.37 226.35h1v1h-1zM136.85 226.75h1v1h-1zM135.85 226.6h1v1h-1zM138.25 228.78h1v1h-1zM125.29 233.47h1v1h-1zM139.35 230.36h1v1h-1zM131.39 230h1v1h-1zM138.83 228.32h1v1h-1zM135.18 233.94h1v1h-1zM127.81 242.17h1v1h-1zM129.45 221.58h1v1h-1zM134.13 226.77h1v1h-1zM129.55 223.08h1v1h-1zM134.91 223.34h1v1h-1zM134.04 226.89h1v1h-1zM133.53 230.54h1v1h-1zM134.07 236.27h1v1h-1zM128.03 237.45h1v1h-1zM132.21 230.28h1v1h-1zM135.99 228.58h1v1h-1zM136.09 226.03h1v1h-1zM131.61 224.89h1v1h-1zM130.5 238.26h1v1h-1zM135.69 231.54h1v1h-1zM132.55 229.02h1v1h-1zM125.54 224.12h1v1h-1zM136.29 232h1v1h-1zM136.09 226.14h1v1h-1zM135.6 232.4h1v1h-1zM124.94 235.26h1v1h-1zM134.13 232.74h1v1h-1zM132.18 216.3h1v1h-1zM121.56 224.72h1v1h-1zM133.53 229.53h1v1h-1zM129.56 224.36h1v1h-1zM135.98 237.61h1v1h-1zM142.68 229.65h1v1h-1zM123.47 225.27h1v1h-1zM137.62 227.98h1v1h-1zM135.87 237.72h1v1h-1zM143.23 230.28h1v1h-1zM134.94 241.64h1v1h-1zM132.68 227.13h1v1h-1zM135.36 225.28h1v1h-1zM131.46 233.21h1v1h-1zM129.74 232.94h1v1h-1zM137.08 223.78h1v1h-1zM139.05 234.26h1v1h-1zM135.04 227.83h1v1h-1zM129.86 229.2h1v1h-1zM134.18 224.81h1v1h-1zM137.47 230.7h1v1h-1zM127.82 223.38h1v1h-1zM132.27 229.07h1v1h-1zM129.69 230.16h1v1h-1zM132.66 228.37h1v1h-1zM136.02 229.89h1v1h-1zM133.7 227.11h1v1h-1zM122.72 232.56h1v1h-1zM137.86 226.04h1v1h-1zM133.49 226.01h1v1h-1zM134.16 233.72h1v1h-1zM138.39 231.89h1v1h-1zM142.24 236.5h1v1h-1zM133.56 230.32h1v1h-1zM133.46 230.64h1v1h-1z" fill="#000" fill-opacity="0.22"/>
<path d="M138.54 231.62h1v1h-1zM121.07 233.21h1v1h-1zM135.74 225.21h1v1h-1zM137.48 231.86h1v1h-1zM128.74 242.02h1v1h-1zM128.27 233.85h1v1h-1zM130.71 229.85h1v1h-1zM135.83 227.03h1v1h-1zM141.89 229.24h1v1h-1zM127.25 236.84h1v1h-1zM133.13 223.31h1v1h-1zM134.85 232.38h1v1h-1zM140.68 216.68h1v1h-1zM134.37 227.51h1v1h-1zM139.83 211.78h1v1h-1zM136.09 226.64h1v1h-1zM126.59 219.65h1v1h-1zM134.1 227.01h1v1h-1zM130.78 239.25h1v1h-1zM132.29 227.28h1v1h-1zM136.88 220.82h1v1h-1zM139.6 234.13h1v1h-1zM133.2 221.38h1v1h-1zM128.87 231.61h1v1h-1zM130.02 226.65h1v1h-1zM131.38 221.32h1v1h-1zM146.18 226.93h1v1h-1zM140.15 228.74h1v1h-1zM128.94 224.17h1v1h-1zM128.35 224.61h1v1h-1zM131.28 239.17h1v1h-1zM138.76 227.42h1v1h-1zM128.35 229.8h1v1h-1zM125.29 222.9h1v1h-1zM124.21 225.21h1v1h-1zM127.09 218.9h1v1h-1zM134.88 233.75h1v1h-1zM134.66 225.24h1v1h-1zM138.86 238.87h1v1h-1zM142.15 233.34h1v1h-1zM139.79 224.64h1v1h-1zM130.59 231.29h1v1h-1zM134.66 230.74h1v1h-1zM124.49 225.51h1v1h-1zM131.42 219h1v1h-1zM138.42 231.05h1v1h-1zM140.86 239.35h1v1h-1zM132.9 225.59h1v1h-1zM133.2 224.93h1v1h-1zM134.68 229.93h1v1h-1zM128.47 220.2h1v1h-1zM140.56 236.9h1v1h-1zM147.02 241.56h1v1h-1zM135.78 224.38h1v1h-1zM137.91 233.71h1v1h-1zM134.19 216.63h1v1h-1zM132.53 218.92h1v1h-1zM142 223.06h1v1h-1zM132.98 229.52h1v1h-1zM137.28 225.51h1v1h-1zM132.74 224.63h1v1h-1zM134.38 234.17h1v1h-1zM133.7 225.45h1v1h-1zM135.34 220.04h1v1h-1zM135.26 237.37h1v1h-1zM125.65 224.62h1v1h-1zM139.59 217.55h1v1h-1zM131.1 230.29h1v1h-1zM140.49 230.05h1v1h-1zM136.03 232.35h1v1h-1zM126.86 233.67h1v1h-1zM131.26 228.02h1v1h-1zM132.46 234.19h1v1h-1zM135.86 238.76h1v1h-1zM138.77 237.27h1v1h-1zM126.84 224.25h1v1h-1zM126.81 221.31h1v1h-1zM132.42 225.78h1v1h-1zM130.01 218.26h1v1h-1zM134.92 228.85h1v1h-1zM132.88 225h1v1h-1zM125.83 223.67h1v1h-1zM133.18 229.07h1v1h-1zM134.42 229.91h1v1h-1zM136.15 226.26h1v1h-1zM148.44 211.38h1v1h-1zM126.77 227.12h1v1h-1zM130.81 230.65h1v1h-1zM135.26 229.6h1v1h-1zM134.96 235.34h1v1h-1zM139.7 220.57h1v1h-1zM129.35 225.47h1v1h-1zM145.77 223.28h1v1h-1zM135.48 220.39h1v1h-1zM127.95 233.06h1v1h-1zM128.93 224.77h1v1h-1zM136.86 232.57h1v1h-1zM139.94 225.49h1v1h-1zM130.55 229.96h1v1h-1zM127.09 229.58h1v1h-1zM137.82 249.06h1v1h-1zM147.4 229.68h1v1h-1zM134.09 225.48h1v1h-1zM132.72 228.83h1v1h-1zM140.1 233.8h1v1h-1zM129.83 230.06h1v1h-1zM134.04 228.2h1v1h-1zM134.73 224.46h1v1h-1zM118.42 223.15h1v1h-1zM129.75 229.61h1v1h-1zM126.52 226.66h1v1h-1zM135.51 234.46h1v1h-1zM128.79 225.85h1v1h-1zM144.18 230.67h1v1h-1zM146.42 218.91h1v1h-1zM132.79 233.98h1v1h-1zM125.59 237.66h1v1h-1z" fill="#000" fill-opacity="0.22"/>
<path d="M135.74 222.86h1v1h-1zM128.36 221.94h1v1h-1zM133.73 228.11h1v1h-1zM139.91 230.79h1v1h-1zM127.73 232.9h1v1h-1zM124.5 229.23h1v1h-1zM136.33 227.65h1v1h-1zM133.1 232.4h1v1h-1zM135.01 227.96h1v1h-1zM138.62 223.03h1v1h-1zM134.44 226.95h1v1h-1zM129.55 221.92h1v1h-1zM138.96 226.56h1v1h-1zM128.16 225.72h1v1h-1zM136.09 235.85h1v1h-1zM132.96 224.66h1v1h-1zM142.23 222.03h1v1h-1zM136.54 233.9h1v1h-1zM120.25 226.38h1v1h-1zM126.55 227.59h1v1h-1zM131.73 232.46h1v1h-1zM135.11 232.72h1v1h-1zM131.15 233.87h1v1h-1zM135.35 233.78h1v1h-1zM135.68 235.27h1v1h-1zM127.63 230.08h1v1h-1zM138.93 224.98h1v1h-1zM129.98 224.72h1v1h-1zM132.6 229.01h1v1h-1zM135.63 227.35h1v1h-1zM136.44 228.55h1v1h-1zM143.95 223.99h1v1h-1zM122.98 234.18h1v1h-1zM135.56 233.22h1v1h-1zM131.01 228.65h1v1h-1zM127.6 226.41h1v1h-1zM131.57 234.06h1v1h-1zM126.43 233.54h1v1h-1zM133.31 229.76h1v1h-1zM133.45 222.8h1v1h-1zM126.75 216.42h1v1h-1zM130.79 229.73h1v1h-1zM132.56 223.3h1v1h-1zM134 230.5h1v1h-1zM135.45 231.09h1v1h-1zM140.16 232.89h1v1h-1zM133.04 229.7h1v1h-1zM132.62 228.56h1v1h-1zM123.23 223.98h1v1h-1zM141.28 232.07h1v1h-1zM131.9 231.34h1v1h-1zM122.56 227.18h1v1h-1zM137.52 225.6h1v1h-1zM135.18 229.12h1v1h-1zM137.51 235.82h1v1h-1zM146.95 227.85h1v1h-1zM130.43 237.14h1v1h-1zM138.49 222.85h1v1h-1zM136.42 221.84h1v1h-1zM128.78 234.58h1v1h-1zM140.63 225.41h1v1h-1zM130.79 223.41h1v1h-1zM131.27 227.57h1v1h-1zM139.6 219.52h1v1h-1zM142.8 230.38h1v1h-1zM133.9 232.22h1v1h-1zM130.54 230.23h1v1h-1zM134.49 228.76h1v1h-1zM139.59 230.61h1v1h-1zM130.4 228.96h1v1h-1zM132.83 234.88h1v1h-1zM133.68 229.39h1v1h-1zM127.84 233.28h1v1h-1zM147.14 224.38h1v1h-1zM136.5 230.22h1v1h-1zM133.58 229.13h1v1h-1zM130.96 229.85h1v1h-1zM129.94 227.27h1v1h-1zM135.46 224.62h1v1h-1zM133.08 226.52h1v1h-1zM134.03 221h1v1h-1zM140.72 236.25h1v1h-1zM126.87 229.02h1v1h-1zM133.53 236.4h1v1h-1zM135.4 232.28h1v1h-1zM136.67 223.02h1v1h-1zM132.95 221.26h1v1h-1zM136.08 222.11h1v1h-1zM133.13 228.52h1v1h-1zM136.05 233.33h1v1h-1zM130.46 226.88h1v1h-1zM138.15 234.72h1v1h-1zM111.38 226.68h1v1h-1zM135.91 221.2h1v1h-1zM135.81 226.74h1v1h-1zM137.65 232.51h1v1h-1zM135.26 224.78h1v1h-1zM127.46 223.76h1v1h-1zM139.11 220.74h1v1h-1zM129.39 237.85h1v1h-1zM132.16 229.84h1v1h-1zM134.83 227.36h1v1h-1zM136.11 229.19h1v1h-1zM136.18 222.68h1v1h-1zM128.08 228.68h1v1h-1zM134.3 227.14h1v1h-1zM140.08 226.67h1v1h-1zM128.91 231.61h1v1h-1zM149.78 230.59h1v1h-1zM130.97 233.9h1v1h-1zM136.61 225.24h1v1h-1zM130.62 232.42h1v1h-1zM135.28 225h1v1h-1zM127.63 226.3h1v1h-1zM122.31 241.27h1v1h-1zM125.88 227.85h1v1h-1z" fill="#000" fill-opacity="0.22"/>
<path d="M143.37 227.2h1v1h-1zM128.15 229.8h1v1h-1zM137.22 226.01h1v1h-1zM129.75 226.79h1v1h-1zM150.63 240.73h1v1h-1zM135.26 231.99h1v1h-1zM133.03 241.33h1v1h-1zM135.23 231.56h1v1h-1zM122.33 229.56h1v1h-1zM139.57 221.39h1v1h-1zM142.93 230.07h1v1h-1zM128.78 237.48h1v1h-1zM130.7 229.23h1v1h-1zM137.36 228.75h1v1h-1zM137.89 228.59h1v1h-1zM122.78 217.4h1v1h-1zM121.55 225.45h1v1h-1zM136.12 231.37h1v1h-1zM131.01 234.65h1v1h-1zM126.09 225.17h1v1h-1zM136.89 226.63h1v1h-1zM130.81 231.06h1v1h-1zM138.58 252.86h1v1h-1zM137 227.62h1v1h-1zM136.41 226.91h1v1h-1zM134.37 230.45h1v1h-1zM136.42 221.74h1v1h-1zM130.4 222.81h1v1h-1zM132.37 229.52h1v1h-1zM137.58 235.45h1v1h-1zM137.13 233.6h1v1h-1zM146.38 226.59h1v1h-1zM150.89 228.04h1v1h-1zM146.01 221.04h1v1h-1zM133.36 221.05h1v1h-1zM127.56 231.25h1v1h-1zM132.8 232.1h1v1h-1zM133.67 234.93h1v1h-1zM124.88 225.82h1v1h-1zM134.79 234.66h1v1h-1zM140.97 215.62h1v1h-1zM139.2 230.49h1v1h-1zM134.83 231.13h1v1h-1zM135.79 221.76h1v1h-1zM136.72 224.95h1v1h-1zM142.54 225.73h1v1h-1zM127.71 229.53h1v1h-1zM135.06 223.76h1v1h-1zM134.38 226.82h1v1h-1zM128.13 227.9h1v1h-1zM138.95 232.52h1v1h-1zM139.09 244.23h1v1h-1zM128.5 226.27h1v1h-1zM142.57 227.57h1v1h-1zM130.49 226.88h1v1h-1zM127.32 232.34h1v1h-1zM136.53 231.21h1v1h-1zM135.65 239.72h1v1h-1zM132.6 227.7h1v1h-1zM142.67 219.75h1v1h-1zM134.14 231.51h1v1h-1zM150.48 239.01h1v1h-1zM135.43 228.16h1v1h-1zM137.73 227h1v1h-1zM120.84 222.03h1v1h-1zM136.79 229.17h1v1h-1zM134.7 228.09h1v1h-1zM134.55 216.95h1v1h-1zM139.76 221.26h1v1h-1zM139.33 228.06h1v1h-1zM136.91 226.91h1v1h-1zM132.8 227.76h1v1h-1zM132.69 231.67h1v1h-1zM132.49 227.08h1v1h-1zM136.53 232.38h1v1h-1zM137.42 225.21h1v1h-1zM138.6 223.59h1v1h-1zM128.1 228.52h1v1h-1zM124.6 228.83h1v1h-1zM134.71 220.36h1v1h-1zM126.93 225.29h1v1h-1zM131.01 225.49h1v1h-1zM135.86 221.4h1v1h-1zM133.27 228.97h1v1h-1zM137.76 241.74h1v1h-1zM135.88 228.69h1v1h-1zM139.21 217.74h1v1h-1zM130.15 232.8h1v1h-1zM128.54 231.82h1v1h-1zM139.44 226.31h1v1h-1zM130.76 221.15h1v1h-1zM133.14 222.25h1v1h-1zM137.71 223.93h1v1h-1zM119.11 223.66h1v1h-1zM136.25 237.8h1v1h-1zM135.99 230.82h1v1h-1zM116.93 227.62h1v1h-1zM130.9 229.8h1v1h-1zM145.69 237.02h1v1h-1zM152.44 224.76h1v1h-1zM133.52 226.71h1v1h-1zM129.03 227.25h1v1h-1zM126.35 225.53h1v1h-1zM138.37 235.47h1v1h-1zM142.16 225.31h1v1h-1zM126.84 226.22h1v1h-1zM129.57 232.65h1v1h-1zM150.91 238.61h1v1h-1zM132.95 227.94h1v1h-1zM138.98 233.09h1v1h-1zM130.23 229.83h1v1h-1zM126.6 234.19h1v1h-1zM124.75 232.28h1v1h-1zM139.76 226.33h1v1h-1zM130.09 241.67h1v1h-1zM138.34 222.54h1v1h-1z" fill="#000" fill-opacity="0.22"/>
<line x1="120.1" y1="202" x2="149" y2="202" stroke="#999" stroke-width="0.8"/>
<rect x="120.1" y="201" width="7" height="2" fill="#000" rx="1"/>
<rect x="143.7" y="201" width="5.3" height="2" fill="#000" rx="1"/>
<rect x="132.9" y="198.1" width="5" height="7.8" fill="#62c4ab" stroke="#2a2a2a" stroke-width="0.6"/>
<line x1="134.8" y1="198.1" x2="134.8" y2="205.9" stroke="#2a2a2a" stroke-width="0.5"/>
<line x1="136" y1="198.1" x2="136" y2="205.9" stroke="#2a2a2a" stroke-width="0.5"/>
<circle cx="40.5" cy="202" r="0.8" fill="#e0705f"/>
<circle cx="78.4" cy="202" r="0.8" fill="#333"/>
<circle cx="101" cy="202" r="0.8" fill="#333"/>
<circle cx="118.3" cy="202" r="0.8" fill="#333"/>
<line x1="157.9" y1="211.5" x2="157.9" y2="250.4" stroke="#999" stroke-width="0.8"/>
<rect x="156.9" y="211" width="2" height="4.4" fill="#000" rx="1"/>
<rect x="156.9" y="216.7" width="2" height="2.2" fill="#000" rx="1"/>
<rect x="156.9" y="238.6" width="2" height="4" fill="#000" rx="1"/>
<rect x="156.9" y="244.3" width="2" height="6.1" fill="#000" rx="1"/>
<rect x="154" y="225.9" width="7.8" height="5.7" fill="#62c4ab" stroke="#2a2a2a" stroke-width="0.6"/>
<line x1="154" y1="228.25" x2="161.8" y2="228.25" stroke="#2a2a2a" stroke-width="0.5"/>
<circle cx="157.9" cy="285.5" r="0.8" fill="#333"/>
<circle cx="78.4" cy="249.5" r="2.5" fill="#f0746a"/>
<circle cx="101" cy="243.6" r="2.5" fill="#f0746a"/>
<circle cx="39.7" cy="285.5" r="2.5" fill="#f0746a"/>
<text x="56.6" y="245.3" font-size="10.6" fill="#111">UHO1</text>
<text x="84.4" y="238.4" font-size="10.6" fill="#111">L428</text>
<text x="36" y="282.3" font-size="10.6" fill="#111">L1236</text>
<text x="88.8" y="352.6" font-size="10.6" font-weight="bold" text-anchor="middle" fill="#000">IL13RA1 depdendency score</text>
<text x="8.6" y="267.5" font-size="10.3" font-weight="bold" text-anchor="middle" fill="#000" transform="rotate(-90 8.6 267.5)">IL4R dependency score</text>
<text x="174" y="200.8" font-size="12.2" font-weight="bold" fill="#000">d</text>
<line x1="209.4" y1="205" x2="209.4" y2="330.2" stroke="#666" stroke-width="1"/>
<line x1="209.4" y1="330.2" x2="330.4" y2="330.2" stroke="#666" stroke-width="1"/>
<line x1="207.2" y1="226.3" x2="209.4" y2="226.3" stroke="#666" stroke-width="0.8"/>
<text x="206.6" y="229.1" font-size="8" text-anchor="end" fill="#666">0.0</text>
<line x1="313.5" y1="330.2" x2="313.5" y2="332.4" stroke="#666" stroke-width="0.8"/>
<text x="313.5" y="339.6" font-size="8" text-anchor="middle" fill="#666">0.0</text>
<line x1="207.2" y1="250.9" x2="209.4" y2="250.9" stroke="#666" stroke-width="0.8"/>
<text x="206.6" y="253.7" font-size="8" text-anchor="end" fill="#666">−0.5</text>
<line x1="289.2" y1="330.2" x2="289.2" y2="332.4" stroke="#666" stroke-width="0.8"/>
<text x="287.6" y="339.6" font-size="8" text-anchor="middle" fill="#666">−0.5</text>
<line x1="207.2" y1="275.5" x2="209.4" y2="275.5" stroke="#666" stroke-width="0.8"/>
<text x="206.6" y="278.3" font-size="8" text-anchor="end" fill="#666">−1.0</text>
<line x1="264.9" y1="330.2" x2="264.9" y2="332.4" stroke="#666" stroke-width="0.8"/>
<text x="263.3" y="339.6" font-size="8" text-anchor="middle" fill="#666">−1.0</text>
<line x1="207.2" y1="300.1" x2="209.4" y2="300.1" stroke="#666" stroke-width="0.8"/>
<text x="206.6" y="302.9" font-size="8" text-anchor="end" fill="#666">−1.5</text>
<line x1="240.6" y1="330.2" x2="240.6" y2="332.4" stroke="#666" stroke-width="0.8"/>
<text x="239" y="339.6" font-size="8" text-anchor="middle" fill="#666">−1.5</text>
<line x1="207.2" y1="324.7" x2="209.4" y2="324.7" stroke="#666" stroke-width="0.8"/>
<text x="206.6" y="327.5" font-size="8" text-anchor="end" fill="#666">−2.0</text>
<line x1="216.3" y1="330.2" x2="216.3" y2="332.4" stroke="#666" stroke-width="0.8"/>
<text x="214.7" y="339.6" font-size="8" text-anchor="middle" fill="#666">−2.0</text>
<line x1="209.4" y1="226.3" x2="330.4" y2="226.3" stroke="#555" stroke-width="0.8" stroke-dasharray="1.2,2.6"/>
<line x1="313.5" y1="205" x2="313.5" y2="330.2" stroke="#555" stroke-width="0.8" stroke-dasharray="1.2,2.6"/>
<defs><radialGradient id="gd"><stop offset="0" stop-color="#000" stop-opacity="0.9"/><stop offset="0.3" stop-color="#000" stop-opacity="0.78"/><stop offset="0.62" stop-color="#000" stop-opacity="0.3"/><stop offset="1" stop-color="#000" stop-opacity="0"/></radialGradient></defs>
<circle cx="313.8" cy="229.8" r="11" fill="url(#gd)"/>
<path d="M307.6 220.63h1v1h-1zM311.97 226.12h1v1h-1zM317.37 230.66h1v1h-1zM313.64 232.89h1v1h-1zM312.72 232.74h1v1h-1zM312.55 235.78h1v1h-1zM309.48 225.39h1v1h-1zM316.3 226.7h1v1h-1zM312.1 228.8h1v1h-1zM307.53 228.04h1v1h-1zM315.72 234.39h1v1h-1zM316.22 224.87h1v1h-1zM309.45 233.9h1v1h-1zM303.78 221.57h1v1h-1zM316.15 223.35h1v1h-1zM310.43 236.3h1v1h-1zM310.46 244.97h1v1h-1zM313.31 231.16h1v1h-1zM317.73 232h1v1h-1zM307.73 234.42h1v1h-1zM312.86 223.95h1v1h-1zM308.04 236.55h1v1h-1zM314.8 226.97h1v1h-1zM302.98 229.2h1v1h-1zM314.46 229.69h1v1h-1zM316.44 237.04h1v1h-1zM312.06 230.2h1v1h-1zM307.61 233.05h1v1h-1zM309.02 228.41h1v1h-1zM318.56 229.99h1v1h-1zM318.39 226.98h1v1h-1zM320.85 222.31h1v1h-1zM309.71 227.01h1v1h-1zM307.34 221.09h1v1h-1zM324.79 244.83h1v1h-1zM314.27 227.58h1v1h-1zM314.73 232.14h1v1h-1zM318.72 224.13h1v1h-1zM318.53 226.95h1v1h-1zM326.92 233.45h1v1h-1zM310.65 230.68h1v1h-1zM315.75 238.95h1v1h-1zM324.11 232.9h1v1h-1zM304.43 224.42h1v1h-1zM314.76 231.22h1v1h-1zM314.74 229.15h1v1h-1zM304.78 227.34h1v1h-1zM310.68 224.56h1v1h-1zM302.57 234.1h1v1h-1zM303.7 220.75h1v1h-1zM317.54 237.65h1v1h-1zM302.92 235.08h1v1h-1zM323.11 238.83h1v1h-1zM312.76 235.06h1v1h-1zM306.89 231.04h1v1h-1zM305.98 223h1v1h-1zM310.91 228.11h1v1h-1zM311.26 227.57h1v1h-1zM310.3 228.15h1v1h-1zM314.94 229.39h1v1h-1zM309.19 227.38h1v1h-1zM316.95 220.19h1v1h-1zM314.89 238.74h1v1h-1zM303.68 231.48h1v1h-1zM322.29 229.89h1v1h-1zM299.26 229.79h1v1h-1zM318.09 222.94h1v1h-1zM307.21 233.49h1v1h-1zM313.76 227.42h1v1h-1zM305.71 227.89h1v1h-1zM311.29 223.52h1v1h-1zM322.82 214.86h1v1h-1zM315.34 231.9h1v1h-1zM305.25 226.88h1v1h-1zM303.65 240.62h1v1h-1zM317.33 230.57h1v1h-1zM314.24 218.77h1v1h-1zM313.12 226.7h1v1h-1zM312.76 221.53h1v1h-1zM310.35 237.54h1v1h-1zM310.23 223.75h1v1h-1zM320.52 229.63h1v1h-1zM306.53 226.16h1v1h-1zM312.34 223.8h1v1h-1zM308.99 231.61h1v1h-1zM310.38 234.18h1v1h-1zM317.75 224.26h1v1h-1zM318.8 225.53h1v1h-1zM311.71 231.22h1v1h-1zM303.82 232.93h1v1h-1zM311.86 230.41h1v1h-1zM317.17 225.88h1v1h-1zM310.78 230.37h1v1h-1zM313.64 232.7h1v1h-1zM317.92 222.94h1v1h-1zM320.6 237.4h1v1h-1zM311.24 233.07h1v1h-1zM305.54 215.44h1v1h-1zM315.91 234.28h1v1h-1zM313.52 222.2h1v1h-1zM311.18 231.05h1v1h-1zM318.37 232.48h1v1h-1zM324.37 232.88h1v1h-1zM317.79 229.28h1v1h-1zM306.7 227.12h1v1h-1zM316.99 217.89h1v1h-1zM313.02 234.53h1v1h-1zM307.72 217.44h1v1h-1zM308.71 228.69h1v1h-1zM308.1 226.9h1v1h-1zM307.55 235.1h1v1h-1zM313.58 233.25h1v1h-1zM319.8 228.67h1v1h-1zM315.83 236.36h1v1h-1zM310.94 238.24h1v1h-1zM314.13 224.8h1v1h-1zM312.91 225.63h1v1h-1z" fill="#000" fill-opacity="0.22"/>
<path d="M316.97 229.55h1v1h-1zM313.7 228.68h1v1h-1zM307.39 233.57h1v1h-1zM316.34 221.64h1v1h-1zM320.65 231.79h1v1h-1zM313.33 229.8h1v1h-1zM316.58 226.73h1v1h-1zM303.57 233.49h1v1h-1zM323.6 222.19h1v1h-1zM313.4 233.18h1v1h-1zM313.55 232.68h1v1h-1zM321.39 218.85h1v1h-1zM314.03 234.01h1v1h-1zM311.11 227.3h1v1h-1zM312 232.88h1v1h-1zM321.82 235.68h1v1h-1zM319.9 220.85h1v1h-1zM299.73 217.21h1v1h-1zM325.18 228.31h1v1h-1zM308.71 229.73h1v1h-1zM308.42 227.78h1v1h-1zM310.55 234.13h1v1h-1zM309.8 225.17h1v1h-1zM311.84 222.91h1v1h-1zM312.51 231.39h1v1h-1zM301.55 225.35h1v1h-1zM304.4 228.06h1v1h-1zM301.31 227.46h1v1h-1zM325.63 214.42h1v1h-1zM316.96 231.76h1v1h-1zM314.31 232.72h1v1h-1zM314.71 234.02h1v1h-1zM309.46 230.61h1v1h-1zM311.08 228.71h1v1h-1zM316.61 227.17h1v1h-1zM306.35 232.3h1v1h-1zM314.67 228.5h1v1h-1zM299.07 238.8h1v1h-1zM319.35 225.79h1v1h-1zM310.73 231.36h1v1h-1zM319.07 235.83h1v1h-1zM315.72 230.85h1v1h-1zM308.54 212.75h1v1h-1zM318.86 221.97h1v1h-1zM317.59 237.17h1v1h-1zM326.89 239.63h1v1h-1zM316 236.91h1v1h-1zM307.89 227.25h1v1h-1zM315.99 231.89h1v1h-1zM320.65 227.93h1v1h-1zM318.88 221.4h1v1h-1zM317.65 233.24h1v1h-1zM304.88 224.67h1v1h-1zM313.15 232.94h1v1h-1zM313.1 224.17h1v1h-1zM309.08 230.26h1v1h-1zM312.13 223.79h1v1h-1zM308.74 226.11h1v1h-1zM321.07 221.12h1v1h-1zM307.06 215.43h1v1h-1zM309.99 229.13h1v1h-1zM300.76 239.36h1v1h-1zM310.25 235.06h1v1h-1zM305.96 229.22h1v1h-1zM304.98 239.52h1v1h-1zM309.32 235.32h1v1h-1zM313.2 224.99h1v1h-1zM313.94 227.73h1v1h-1zM319.46 234.71h1v1h-1zM313.11 229.6h1v1h-1zM315.89 231.44h1v1h-1zM314.58 233.24h1v1h-1zM319.77 236.84h1v1h-1zM314.92 222.38h1v1h-1zM306.71 220.66h1v1h-1zM317.62 239.48h1v1h-1zM307.32 231.53h1v1h-1zM310.68 231.9h1v1h-1zM320.44 230.8h1v1h-1zM309.37 229.7h1v1h-1zM324.13 222.51h1v1h-1zM315.71 226.72h1v1h-1zM314.37 227.47h1v1h-1zM310.1 230.66h1v1h-1zM309.52 227.98h1v1h-1zM315.17 236.13h1v1h-1zM315.09 227.21h1v1h-1zM316.72 237.92h1v1h-1zM311.16 228.95h1v1h-1zM307.78 229.86h1v1h-1zM314.33 238.8h1v1h-1zM315.19 225.94h1v1h-1zM313.88 232.13h1v1h-1zM313.23 232.03h1v1h-1zM301.32 226.88h1v1h-1zM310.32 235.23h1v1h-1zM311.49 222.61h1v1h-1zM315.36 225.93h1v1h-1zM325.59 215.82h1v1h-1zM313.73 231.49h1v1h-1zM309.45 229.64h1v1h-1zM316.57 234.14h1v1h-1zM313.69 234.84h1v1h-1zM306.84 231.32h1v1h-1zM304.24 222.9h1v1h-1zM326.37 222.63h1v1h-1zM303.68 236.53h1v1h-1zM308.23 228.86h1v1h-1zM310.42 234h1v1h-1zM309.21 237.9h1v1h-1zM298.59 224.02h1v1h-1zM306.57 245.03h1v1h-1zM310.96 223.96h1v1h-1zM307.29 223.18h1v1h-1zM316.16 216.59h1v1h-1zM313.7 230.89h1v1h-1zM312.81 233.1h1v1h-1z" fill="#000" fill-opacity="0.22"/>
<path d="M315.45 223.89h1v1h-1zM317.2 226.99h1v1h-1zM306.48 230.3h1v1h-1zM315.07 225.68h1v1h-1zM312.44 233.54h1v1h-1zM305.3 221.88h1v1h-1zM315.45 227.11h1v1h-1zM302.16 218.2h1v1h-1zM320.63 224.68h1v1h-1zM312.47 227.37h1v1h-1zM319.91 229.62h1v1h-1zM307.05 227.78h1v1h-1zM319.87 231.25h1v1h-1zM310.58 231.87h1v1h-1zM315.7 225.12h1v1h-1zM305.17 232.03h1v1h-1zM310.26 222.57h1v1h-1zM312.95 212.19h1v1h-1zM309.48 233.79h1v1h-1zM306.84 227.82h1v1h-1zM308.95 233.47h1v1h-1zM307.84 228.76h1v1h-1zM295.76 231.65h1v1h-1zM321.19 230.53h1v1h-1zM315.13 226.07h1v1h-1zM305.21 227.56h1v1h-1zM320.33 223.94h1v1h-1zM320.21 221.87h1v1h-1zM308.73 232.51h1v1h-1zM311.06 233.67h1v1h-1zM317.28 231.05h1v1h-1zM316.91 231.72h1v1h-1zM311.29 230.55h1v1h-1zM311.32 228.09h1v1h-1zM310.57 228.43h1v1h-1zM320.96 232.47h1v1h-1zM315.41 228.76h1v1h-1zM316.61 229.27h1v1h-1zM307.23 220.43h1v1h-1zM315.04 232.65h1v1h-1zM326.06 227.93h1v1h-1zM308.52 235.69h1v1h-1zM309.83 231.16h1v1h-1zM305.15 234.83h1v1h-1zM308.83 231.49h1v1h-1zM312.85 240.39h1v1h-1zM314.88 228.16h1v1h-1zM313.59 237.92h1v1h-1zM302.9 229.53h1v1h-1zM309.69 224.52h1v1h-1zM314.77 225.93h1v1h-1zM315.19 225.99h1v1h-1zM307.64 230h1v1h-1zM318.52 224.53h1v1h-1zM312.88 223.34h1v1h-1zM307.24 231.44h1v1h-1zM315.62 230.7h1v1h-1zM320.76 241.03h1v1h-1zM315.54 224.87h1v1h-1zM326.26 238.92h1v1h-1zM319.62 230.51h1v1h-1zM325.55 220.17h1v1h-1zM326.87 244.33h1v1h-1zM320.91 242.76h1v1h-1zM317.68 225.47h1v1h-1zM320.31 232.28h1v1h-1zM315.79 233.85h1v1h-1zM302.35 225.31h1v1h-1zM313.2 235.49h1v1h-1zM309.82 226.52h1v1h-1zM310.7 219.85h1v1h-1zM311.9 232.98h1v1h-1zM311 236.34h1v1h-1zM313.1 230.77h1v1h-1zM308 228.42h1v1h-1zM325.67 223.34h1v1h-1zM312.16 235.7h1v1h-1zM312.54 237.1h1v1h-1zM312.24 224.53h1v1h-1zM315.09 231.19h1v1h-1zM314.57 231.2h1v1h-1zM312.36 227.31h1v1h-1zM318.36 230.65h1v1h-1zM320.17 221.63h1v1h-1zM311.29 226.64h1v1h-1zM316.29 230.4h1v1h-1zM313.95 228.75h1v1h-1zM312.85 217.53h1v1h-1zM317.25 226.95h1v1h-1zM314.39 226.33h1v1h-1zM315.55 222.22h1v1h-1zM310.5 229.23h1v1h-1zM318.41 224.47h1v1h-1zM314.69 225.04h1v1h-1zM322.74 230.52h1v1h-1zM318.53 226.26h1v1h-1zM311.09 224.66h1v1h-1zM308.76 230.8h1v1h-1zM309.58 238.58h1v1h-1zM310.37 229.51h1v1h-1zM311.06 231.41h1v1h-1zM313.93 224.43h1v1h-1zM310.75 225.93h1v1h-1zM317.51 231.31h1v1h-1zM313.13 231.98h1v1h-1zM312.46 227.81h1v1h-1zM311.63 230.97h1v1h-1zM311.67 231.36h1v1h-1zM323.46 220.2h1v1h-1zM311.3 220.21h1v1h-1zM312.76 231.08h1v1h-1zM319.32 221.91h1v1h-1zM312.92 230.83h1v1h-1zM314.4 231.01h1v1h-1zM315.5 231.19h1v1h-1zM317.63 234.91h1v1h-1zM322.18 225.51h1v1h-1z" fill="#000" fill-opacity="0.22"/>
<path d="M303.68 225.62h1v1h-1zM322.47 228.56h1v1h-1zM311.83 219.46h1v1h-1zM314.59 236.58h1v1h-1zM295.94 231.38h1v1h-1zM311.76 229.27h1v1h-1zM302.55 228.27h1v1h-1zM313.78 222.04h1v1h-1zM310.99 231.49h1v1h-1zM311.06 234.72h1v1h-1zM314.52 233.16h1v1h-1zM310.7 224.33h1v1h-1zM318.03 227.29h1v1h-1zM314.12 227.13h1v1h-1zM319.24 230.23h1v1h-1zM315.9 221.41h1v1h-1zM308.34 225.32h1v1h-1zM314.5 237.89h1v1h-1zM304.88 223.17h1v1h-1zM309.37 232.75h1v1h-1zM316.7 229.25h1v1h-1zM312.47 227.75h1v1h-1zM319.74 226.61h1v1h-1zM299.18 240.94h1v1h-1zM300.21 219.63h1v1h-1zM311.5 227.66h1v1h-1zM317.17 223.76h1v1h-1zM312.94 230.83h1v1h-1zM307.95 226.81h1v1h-1zM292.98 225.45h1v1h-1zM315.71 224.1h1v1h-1zM320.96 225.83h1v1h-1zM303.51 247.65h1v1h-1zM312.76 224.96h1v1h-1zM313.11 232.13h1v1h-1zM313.09 227.22h1v1h-1zM312.51 237.23h1v1h-1zM310.67 221.84h1v1h-1zM315 227.87h1v1h-1zM316.91 233.19h1v1h-1zM313.79 232.62h1v1h-1zM315.24 233.31h1v1h-1zM314 228.45h1v1h-1zM324.51 224.88h1v1h-1zM306.93 233.26h1v1h-1zM303.91 232.2h1v1h-1zM312.63 228.65h1v1h-1zM309.13 229.6h1v1h-1zM313.83 232.24h1v1h-1zM322.97 229.92h1v1h-1zM319.3 210.99h1v1h-1zM311.02 218.39h1v1h-1zM310.06 235.8h1v1h-1zM313.17 226.78h1v1h-1zM316.31 222.55h1v1h-1zM320.2 236.7h1v1h-1zM318.77 224.34h1v1h-1zM305.67 227.24h1v1h-1zM316.72 228.3h1v1h-1zM318.58 215.23h1v1h-1zM311.95 229.68h1v1h-1zM309.06 236.11h1v1h-1zM308.17 232.43h1v1h-1zM306.02 229.36h1v1h-1zM307.37 226.9h1v1h-1zM319.37 228.51h1v1h-1zM316.64 230.96h1v1h-1zM308.18 219.94h1v1h-1zM314.41 224.05h1v1h-1zM308.05 231.17h1v1h-1zM305.42 240.06h1v1h-1zM303.32 234.99h1v1h-1zM308.19 231.13h1v1h-1zM309.18 228.97h1v1h-1zM317.85 227.18h1v1h-1zM314.73 229.5h1v1h-1zM322.82 232.67h1v1h-1zM315.7 231.34h1v1h-1zM310.88 224.15h1v1h-1zM312.99 235.93h1v1h-1zM316.14 223.31h1v1h-1zM332.35 219.19h1v1h-1zM314.82 233.71h1v1h-1zM315.21 223.09h1v1h-1zM313.51 233.27h1v1h-1zM309.61 233.67h1v1h-1zM314.6 233.23h1v1h-1zM309.91 232.81h1v1h-1zM314.23 229.05h1v1h-1zM309.67 231.33h1v1h-1zM314.01 227.77h1v1h-1zM309.87 231.64h1v1h-1zM321.18 227.12h1v1h-1zM311.34 232.66h1v1h-1zM305.63 241.6h1v1h-1zM318.66 221.57h1v1h-1zM319.65 239.7h1v1h-1zM321.06 222.94h1v1h-1zM306.67 232.81h1v1h-1zM321.12 227.79h1v1h-1zM307.59 227.43h1v1h-1zM309.54 225.13h1v1h-1zM310.11 232.82h1v1h-1zM314.62 231.98h1v1h-1zM314.91 235.35h1v1h-1zM310.02 235.01h1v1h-1zM305.62 229.05h1v1h-1zM316.97 233.25h1v1h-1zM302.98 220.89h1v1h-1zM314.01 230.77h1v1h-1zM312.97 227.96h1v1h-1zM313.25 237.76h1v1h-1zM311.6 231.82h1v1h-1zM313.48 230.54h1v1h-1zM315.99 227.28h1v1h-1zM319.54 229.24h1v1h-1zM313.94 231.85h1v1h-1z" fill="#000" fill-opacity="0.22"/>
<path d="M311.2 230.13h1v1h-1zM311.49 230.25h1v1h-1zM309.91 223.67h1v1h-1zM313.54 227.55h1v1h-1zM316.51 227.64h1v1h-1zM314.97 222.32h1v1h-1zM314.58 234.89h1v1h-1zM323.34 222.1h1v1h-1zM309.93 237.49h1v1h-1zM304.48 215.53h1v1h-1zM317.21 227.11h1v1h-1zM303.32 225.79h1v1h-1zM318.96 223.5h1v1h-1zM313 239.41h1v1h-1zM314.38 231.3h1v1h-1zM303.58 231.33h1v1h-1zM315.03 231.12h1v1h-1zM316.47 240.64h1v1h-1zM313.89 233.62h1v1h-1zM304.23 226.92h1v1h-1zM309.12 230.38h1v1h-1zM317.51 218.62h1v1h-1zM306.26 237.87h1v1h-1zM321.03 240.15h1v1h-1zM314.34 236.77h1v1h-1zM318.65 220.78h1v1h-1zM325.64 231.2h1v1h-1zM323.29 232.03h1v1h-1zM318.53 218.87h1v1h-1zM309.03 242.83h1v1h-1zM314.67 221.92h1v1h-1zM301.43 231.73h1v1h-1zM305.87 228.52h1v1h-1zM314.93 231.84h1v1h-1zM312.04 238.45h1v1h-1zM314.38 233.24h1v1h-1zM312.96 227.42h1v1h-1zM313.8 225h1v1h-1zM310.9 223.5h1v1h-1zM321.09 229.59h1v1h-1zM308.81 219.02h1v1h-1zM314.15 231.3h1v1h-1zM304.19 211.22h1v1h-1zM312.78 226.58h1v1h-1zM311.86 226.11h1v1h-1zM307.36 220.29h1v1h-1zM314.42 225.73h1v1h-1zM320.71 220h1v1h-1zM325.68 240.78h1v1h-1zM304.34 232.45h1v1h-1zM310.13 230.23h1v1h-1zM312.32 226.75h1v1h-1zM312.38 225.07h1v1h-1zM322.46 229.91h1v1h-1zM305.43 234.01h1v1h-1zM310.52 232.39h1v1h-1zM313.18 232.57h1v1h-1zM309.31 229.4h1v1h-1zM319.17 225.25h1v1h-1zM308.47 218.37h1v1h-1zM320.95 225.57h1v1h-1zM305.76 224.45h1v1h-1zM304.59 216.93h1v1h-1zM324.29 229.12h1v1h-1zM319.45 233.1h1v1h-1zM312.05 231.54h1v1h-1zM311.41 234.32h1v1h-1zM316.18 237.11h1v1h-1zM316.25 228.86h1v1h-1zM316.08 232.64h1v1h-1zM318.48 219.15h1v1h-1zM303.83 228.61h1v1h-1zM306.25 219.8h1v1h-1zM315.58 230.91h1v1h-1zM313.84 222.5h1v1h-1zM305.88 238.93h1v1h-1zM304.47 228.38h1v1h-1zM305.83 220.41h1v1h-1zM315.58 227.4h1v1h-1zM309.71 224.93h1v1h-1zM312.65 225.51h1v1h-1zM315.27 233.56h1v1h-1zM319.3 215.02h1v1h-1zM319.47 244.37h1v1h-1zM326.64 235.42h1v1h-1zM309.13 224.59h1v1h-1zM324.61 226.27h1v1h-1zM313.96 238h1v1h-1zM308.44 234.77h1v1h-1zM319.71 232.28h1v1h-1zM310.71 228.22h1v1h-1zM316.42 226.76h1v1h-1zM317.26 225.17h1v1h-1zM313.36 224.8h1v1h-1zM302.59 233.56h1v1h-1zM320.2 234.07h1v1h-1zM317.37 232.47h1v1h-1zM315.37 229.16h1v1h-1zM312.35 228.85h1v1h-1zM321.72 236.69h1v1h-1zM312.34 226.96h1v1h-1zM318.99 222.62h1v1h-1zM314.31 236.58h1v1h-1zM314.33 228.73h1v1h-1zM321.75 232.92h1v1h-1zM312.76 225.36h1v1h-1zM317.76 224.78h1v1h-1zM320 230.37h1v1h-1zM316.99 226.52h1v1h-1zM308.77 235.08h1v1h-1zM317.91 236.25h1v1h-1zM311.18 225.75h1v1h-1zM315.15 227.52h1v1h-1zM304.42 221.55h1v1h-1zM320.74 231.95h1v1h-1zM312.84 227.55h1v1h-1z" fill="#000" fill-opacity="0.22"/>
<path d="M325.36 233.97h1v1h-1zM311.66 227.73h1v1h-1zM311.21 224.01h1v1h-1zM318.02 239.02h1v1h-1zM313.22 220.92h1v1h-1zM314.4 237.8h1v1h-1zM310.92 223.96h1v1h-1zM309.44 234.79h1v1h-1zM303.87 226.78h1v1h-1zM317.62 230.12h1v1h-1zM317.39 235.97h1v1h-1zM312.93 225.97h1v1h-1zM317.13 233.17h1v1h-1zM325.87 233.64h1v1h-1zM311.99 233.65h1v1h-1zM309.36 231.64h1v1h-1zM314.42 229.95h1v1h-1zM310.11 228.41h1v1h-1zM318.7 218.83h1v1h-1zM313.2 236.59h1v1h-1zM314.24 232.52h1v1h-1zM316.86 235.92h1v1h-1zM313.88 237.83h1v1h-1zM312.14 232.01h1v1h-1zM321.11 225.73h1v1h-1zM317.7 229.9h1v1h-1zM297.96 214.46h1v1h-1zM311.67 228.07h1v1h-1zM313.44 225.25h1v1h-1zM314.51 228.8h1v1h-1zM312.37 231.38h1v1h-1zM326.77 228.01h1v1h-1zM316.29 238.58h1v1h-1zM304.95 222.5h1v1h-1zM309.73 222.84h1v1h-1zM317.95 221.98h1v1h-1zM317.88 237.52h1v1h-1zM313.7 229.53h1v1h-1zM311.05 234.74h1v1h-1zM312.02 232.54h1v1h-1zM314.52 224.76h1v1h-1zM314.33 230.19h1v1h-1zM320.98 223.23h1v1h-1zM302.17 227.46h1v1h-1zM302.7 229.53h1v1h-1zM309.49 224.74h1v1h-1zM321.91 232.68h1v1h-1zM310.33 228.52h1v1h-1zM316.11 229.32h1v1h-1zM312.09 226.33h1v1h-1zM300.99 238.51h1v1h-1zM313 217.33h1v1h-1zM318.98 221.69h1v1h-1zM303.46 229h1v1h-1zM310.13 230.08h1v1h-1zM308.82 225.11h1v1h-1zM309.22 233.25h1v1h-1zM314.1 234.43h1v1h-1zM321.23 230.89h1v1h-1zM313.66 229.28h1v1h-1zM298.76 242.47h1v1h-1zM312.07 228.82h1v1h-1zM310.41 229.15h1v1h-1zM302.32 234.49h1v1h-1zM311.64 231.69h1v1h-1zM328.69 244.75h1v1h-1zM314.05 226.44h1v1h-1zM313.35 230.54h1v1h-1zM321.18 225.68h1v1h-1zM317.01 237.79h1v1h-1zM314.71 226.07h1v1h-1zM310.39 231.75h1v1h-1zM317.41 229.33h1v1h-1zM326.89 226.23h1v1h-1zM314.29 226.64h1v1h-1zM313.2 231.55h1v1h-1zM308.04 239.74h1v1h-1zM312.23 236.38h1v1h-1zM314.74 229.74h1v1h-1zM315.66 231.35h1v1h-1zM315.08 229.4h1v1h-1zM303.15 233.38h1v1h-1zM317 227.77h1v1h-1zM310.9 228.43h1v1h-1zM314.16 229h1v1h-1zM314.61 229.85h1v1h-1zM305.1 237.33h1v1h-1zM311.27 224.31h1v1h-1zM307 228.16h1v1h-1zM300.37 234.85h1v1h-1zM308.9 233.98h1v1h-1zM311.03 229.3h1v1h-1zM314.43 226.67h1v1h-1zM320.97 226.73h1v1h-1zM305.02 228.41h1v1h-1zM310.85 234.54h1v1h-1zM308.22 216.53h1v1h-1zM315.06 229.12h1v1h-1zM314.61 230.71h1v1h-1zM316.25 225.56h1v1h-1zM315.41 223.86h1v1h-1zM318.65 233.46h1v1h-1zM306.97 230.32h1v1h-1zM317.95 231.34h1v1h-1zM308.42 231.02h1v1h-1zM311.14 231.42h1v1h-1zM314.93 226.61h1v1h-1zM311.67 223.37h1v1h-1zM316.47 231.4h1v1h-1zM317.1 239.95h1v1h-1zM310.94 225.7h1v1h-1zM304.04 222.83h1v1h-1zM316.31 231.81h1v1h-1zM315.62 235.38h1v1h-1zM308.14 231.06h1v1h-1zM302.61 224.27h1v1h-1z" fill="#000" fill-opacity="0.22"/>
<line x1="298.5" y1="199.1" x2="327.4" y2="199.1" stroke="#999" stroke-width="0.8"/>
<rect x="298.5" y="198.1" width="7" height="2" fill="#000" rx="1"/>
<rect x="322.1" y="198.1" width="5.3" height="2" fill="#000" rx="1"/>
<rect x="311.3" y="195.2" width="5" height="7.8" fill="#62c4ab" stroke="#2a2a2a" stroke-width="0.6"/>
<line x1="313.2" y1="195.2" x2="313.2" y2="203" stroke="#2a2a2a" stroke-width="0.5"/>
<line x1="314.4" y1="195.2" x2="314.4" y2="203" stroke="#2a2a2a" stroke-width="0.5"/>
<circle cx="216.8" cy="199.1" r="0.8" fill="#333"/>
<circle cx="255.7" cy="199.1" r="0.8" fill="#333"/>
<circle cx="279" cy="199.1" r="0.8" fill="#333"/>
<line x1="336.9" y1="208.2" x2="336.9" y2="247.1" stroke="#999" stroke-width="0.8"/>
<rect x="335.9" y="211" width="2" height="8" fill="#000" rx="1"/>
<rect x="335.9" y="240.6" width="2" height="6.5" fill="#000" rx="1"/>
<rect x="333" y="227.05" width="7.8" height="5.7" fill="#62c4ab" stroke="#2a2a2a" stroke-width="0.6"/>
<line x1="333" y1="229.4" x2="340.8" y2="229.4" stroke="#2a2a2a" stroke-width="0.5"/>
<circle cx="336.9" cy="249.7" r="0.8" fill="#333"/>
<circle cx="336.9" cy="259.7" r="0.8" fill="#333"/>
<circle cx="336.9" cy="287.2" r="0.8" fill="#333"/>
<circle cx="336.9" cy="303" r="0.8" fill="#333"/>
<circle cx="255.7" cy="259.9" r="2.5" fill="#f0746a"/>
<circle cx="278.5" cy="287.2" r="2.5" fill="#f0746a"/>
<circle cx="216.6" cy="302.8" r="2.5" fill="#f0746a"/>
<text x="236.5" y="255.4" font-size="10.6" fill="#111">UHO1</text>
<text x="264" y="283.6" font-size="10.6" fill="#111">L428</text>
<text x="211.5" y="299.2" font-size="10.6" fill="#111">L1236</text>
<text x="268.2" y="352.6" font-size="10.6" font-weight="bold" text-anchor="middle" fill="#000">IL13RA1 dependency score</text>
<text x="185" y="267.5" font-size="10.3" font-weight="bold" text-anchor="middle" fill="#000" transform="rotate(-90 185 267.5)">STAT6 dependency score</text>
<text x="379.2" y="200.5" font-size="12.2" font-weight="bold" fill="#000">e</text>
<line x1="421.7" y1="214.3" x2="421.7" y2="321.4" stroke="#222" stroke-width="1"/>
<line x1="421.7" y1="321.4" x2="581.5" y2="321.4" stroke="#222" stroke-width="1"/>
<line x1="417.6" y1="215.2" x2="421.7" y2="215.2" stroke="#222" stroke-width="0.9"/>
<text x="418.8" y="218.6" font-size="9.9" text-anchor="end" fill="#111">2×10<tspan font-size="5.94" dy="-3.76">6</tspan></text>
<line x1="417.6" y1="249.9" x2="421.7" y2="249.9" stroke="#222" stroke-width="0.9"/>
<text x="418.8" y="253.3" font-size="9.9" text-anchor="end" fill="#111">1×10<tspan font-size="5.94" dy="-3.76">6</tspan></text>
<line x1="417.6" y1="284.3" x2="421.7" y2="284.3" stroke="#222" stroke-width="0.9"/>
<text x="418.8" y="287.7" font-size="9.9" text-anchor="end" fill="#111">5×10<tspan font-size="5.94" dy="-3.76">5</tspan></text>
<line x1="417.6" y1="321.4" x2="421.7" y2="321.4" stroke="#222" stroke-width="0.9"/>
<text x="415.6" y="324.5" font-size="8.6" font-weight="bold" text-anchor="end" fill="#111">0</text>
<line x1="421.7" y1="321.4" x2="421.7" y2="324.6" stroke="#222" stroke-width="0.9"/>
<text x="421.7" y="335.6" font-size="9.8" text-anchor="middle" fill="#000" textLength="4.89" lengthAdjust="spacingAndGlyphs">0</text>
<line x1="475.1" y1="321.4" x2="475.1" y2="324.6" stroke="#222" stroke-width="0.9"/>
<text x="475.1" y="335.6" font-size="9.8" text-anchor="middle" fill="#000" textLength="4.89" lengthAdjust="spacingAndGlyphs">2</text>
<line x1="528.5" y1="321.4" x2="528.5" y2="324.6" stroke="#222" stroke-width="0.9"/>
<text x="528.5" y="335.6" font-size="9.8" text-anchor="middle" fill="#000" textLength="4.89" lengthAdjust="spacingAndGlyphs">4</text>
<line x1="581.9" y1="321.4" x2="581.9" y2="324.6" stroke="#222" stroke-width="0.9"/>
<text x="581.9" y="335.6" font-size="9.8" text-anchor="middle" fill="#000" textLength="4.89" lengthAdjust="spacingAndGlyphs">6</text>
<text x="500.3" y="348.8" font-size="10.2" font-weight="bold" text-anchor="middle" fill="#000">Days</text>
<text x="389" y="270.1" font-size="10.2" font-weight="bold" text-anchor="middle" fill="#000" transform="rotate(-90 389 270.1)">Cell count</text>
<polyline points="421.7,266.3 475.1,265.6 555.2,243.1" fill="none" stroke="#a0a0a0" stroke-width="1"/>
<polygon points="421.7,262.97 424.89,268.76 418.51,268.76" fill="#a0a0a0"/>
<polygon points="475.1,262.27 478.29,268.06 471.91,268.06" fill="#a0a0a0"/>
<polygon points="555.2,239.76 558.39,245.56 552.01,245.56" fill="#a0a0a0"/>
<polyline points="421.7,274.1 475.1,302.5 555.2,305.2" fill="none" stroke="#1f3df5" stroke-width="1"/>
<circle cx="421.7" cy="274.1" r="2.8" fill="#1f3df5"/>
<circle cx="475.1" cy="302.5" r="2.8" fill="#1f3df5"/>
<circle cx="555.2" cy="305.2" r="2.8" fill="#1f3df5"/>
<polyline points="421.7,284.3 475.1,301.5 555.2,316.6" fill="none" stroke="#1f3df5" stroke-width="1"/>
<rect x="419.2" y="281.8" width="5" height="5" fill="#1f3df5"/>
<rect x="472.6" y="299" width="5" height="5" fill="#1f3df5"/>
<rect x="552.7" y="314.1" width="5" height="5" fill="#1f3df5"/>
<polyline points="421.7,261.9 475.1,303.5 555.2,313.3" fill="none" stroke="#1f3df5" stroke-width="1"/>
<polygon points="421.7,258.68 424.78,264.28 418.62,264.28" fill="#1f3df5"/>
<polygon points="475.1,300.28 478.18,305.88 472.02,305.88" fill="#1f3df5"/>
<polygon points="555.2,310.08 558.28,315.68 552.12,315.68" fill="#1f3df5"/>
<polyline points="421.7,256.6 475.1,305.5 555.2,310" fill="none" stroke="#ff2a0a" stroke-width="1"/>
<polygon points="421.7,259.82 424.78,254.22 418.62,254.22" fill="#ff2a0a"/>
<polygon points="475.1,308.72 478.18,303.12 472.02,303.12" fill="#ff2a0a"/>
<polygon points="555.2,313.22 558.28,307.62 552.12,307.62" fill="#ff2a0a"/>
<polyline points="421.7,272.3 475.1,306.6 555.2,308.6" fill="none" stroke="#ff2a0a" stroke-width="1"/>
<polygon points="421.7,269.05 424.3,272.3 421.7,275.55 419.1,272.3" fill="#ff2a0a"/>
<polygon points="475.1,303.35 477.7,306.6 475.1,309.85 472.5,306.6" fill="#ff2a0a"/>
<polygon points="555.2,305.35 557.8,308.6 555.2,311.85 552.6,308.6" fill="#ff2a0a"/>
<polyline points="421.7,275.3 475.1,307.9 555.2,309.2" fill="none" stroke="#ff2a0a" stroke-width="1"/>
<circle cx="421.7" cy="275.3" r="2.8" fill="#ff2a0a"/>
<circle cx="475.1" cy="307.9" r="2.8" fill="#ff2a0a"/>
<circle cx="555.2" cy="309.2" r="2.8" fill="#ff2a0a"/>
<polygon points="600,223.98 603.08,229.58 596.92,229.58" fill="#a0a0a0"/>
<text x="612.2" y="230.7" font-size="9.3" fill="#000" textLength="68.62" lengthAdjust="spacingAndGlyphs">Intergenic control</text>
<circle cx="600" cy="242.2" r="2.8" fill="#1f3df5"/>
<text x="612.2" y="245.7" font-size="9.3" fill="#000" textLength="62.66" lengthAdjust="spacingAndGlyphs">IL13RA1 KO #1</text>
<rect x="597.2" y="254" width="5.6" height="5.6" fill="#1f3df5"/>
<text x="612.2" y="260.3" font-size="9.3" fill="#000" textLength="62.66" lengthAdjust="spacingAndGlyphs">IL13RA1 KO #2</text>
<polygon points="600,268.78 603.08,274.38 596.92,274.38" fill="#1f3df5"/>
<text x="612.2" y="275.5" font-size="9.3" fill="#000" textLength="62.66" lengthAdjust="spacingAndGlyphs">IL13RA1 KO #3</text>
<polygon points="600,288.42 603.08,282.82 596.92,282.82" fill="#ff2a0a"/>
<text x="612.2" y="288.7" font-size="9.3" fill="#000" textLength="46.74" lengthAdjust="spacingAndGlyphs">IL4R KO #1</text>
<polygon points="600,296 602.4,299 600,302 597.6,299" fill="#ff2a0a"/>
<text x="612.2" y="302.5" font-size="9.3" fill="#000" textLength="46.74" lengthAdjust="spacingAndGlyphs">IL4R KO #2</text>
<circle cx="600" cy="312.6" r="2.8" fill="#ff2a0a"/>
<text x="612.2" y="316.1" font-size="9.3" fill="#000" textLength="46.74" lengthAdjust="spacingAndGlyphs">IL4R KO #3</text>
<text x="362.3" y="376.8" font-size="12.2" font-weight="bold" fill="#000">g</text>
<line x1="422.2" y1="370.5" x2="422.2" y2="487" stroke="#7a7a7a" stroke-width="1.4"/>
<line x1="421.5" y1="487" x2="552.2" y2="487" stroke="#7a7a7a" stroke-width="1.4"/>
<line x1="418.4" y1="457.88" x2="422.2" y2="457.88" stroke="#7a7a7a" stroke-width="1.1"/>
<text x="417.2" y="461.28" font-size="10" text-anchor="end" fill="#111">1×10<tspan font-size="6" dy="-3.8">7</tspan></text>
<line x1="418.4" y1="428.76" x2="422.2" y2="428.76" stroke="#7a7a7a" stroke-width="1.1"/>
<text x="417.2" y="432.16" font-size="10" text-anchor="end" fill="#111">2×10<tspan font-size="6" dy="-3.8">7</tspan></text>
<line x1="418.4" y1="399.64" x2="422.2" y2="399.64" stroke="#7a7a7a" stroke-width="1.1"/>
<text x="417.2" y="403.04" font-size="10" text-anchor="end" fill="#111">3×10<tspan font-size="6" dy="-3.8">7</tspan></text>
<line x1="418.4" y1="370.52" x2="422.2" y2="370.52" stroke="#7a7a7a" stroke-width="1.1"/>
<text x="417.2" y="373.92" font-size="10" text-anchor="end" fill="#111">4×10<tspan font-size="6" dy="-3.8">7</tspan></text>
<line x1="418.4" y1="487" x2="422.2" y2="487" stroke="#7a7a7a" stroke-width="1.1"/>
<text x="416.4" y="490.9" font-size="11" text-anchor="end" fill="#000" textLength="5.34" lengthAdjust="spacingAndGlyphs">0</text>
<line x1="422.2" y1="487" x2="422.2" y2="490.2" stroke="#7a7a7a" stroke-width="1.1"/>
<text x="422.2" y="500.8" font-size="11.2" text-anchor="middle" fill="#000" textLength="5.34" lengthAdjust="spacingAndGlyphs">0</text>
<line x1="451.25" y1="487" x2="451.25" y2="490.2" stroke="#7a7a7a" stroke-width="1.1"/>
<text x="451.25" y="500.8" font-size="11.2" text-anchor="middle" fill="#000" textLength="5.34" lengthAdjust="spacingAndGlyphs">2</text>
<line x1="480.3" y1="487" x2="480.3" y2="490.2" stroke="#7a7a7a" stroke-width="1.1"/>
<text x="480.3" y="500.8" font-size="11.2" text-anchor="middle" fill="#000" textLength="5.34" lengthAdjust="spacingAndGlyphs">4</text>
<line x1="509.35" y1="487" x2="509.35" y2="490.2" stroke="#7a7a7a" stroke-width="1.1"/>
<text x="509.35" y="500.8" font-size="11.2" text-anchor="middle" fill="#000" textLength="5.34" lengthAdjust="spacingAndGlyphs">6</text>
<line x1="538.4" y1="487" x2="538.4" y2="490.2" stroke="#7a7a7a" stroke-width="1.1"/>
<text x="538.4" y="500.8" font-size="11.2" text-anchor="middle" fill="#000" textLength="5.34" lengthAdjust="spacingAndGlyphs">8</text>
<text x="486" y="514.2" font-size="10.2" font-weight="bold" text-anchor="middle" fill="#000">Days</text>
<text x="386.2" y="420.5" font-size="10.2" font-weight="bold" text-anchor="middle" fill="#000" transform="rotate(-90 386.2 420.5)">Cell count</text>
<polyline points="422.2,450.7 480.28,433 538.36,386.4" fill="none" stroke="#a0a0a0" stroke-width="1"/>
<polygon points="422.2,447.25 425.5,453.25 418.9,453.25" fill="#a0a0a0"/>
<polygon points="480.28,429.55 483.58,435.55 476.98,435.55" fill="#a0a0a0"/>
<polygon points="538.36,382.95 541.66,388.95 535.06,388.95" fill="#a0a0a0"/>
<polyline points="422.2,468.2 480.28,481 538.36,481.8" fill="none" stroke="#22c52a" stroke-width="1"/>
<rect x="419.2" y="465.2" width="6" height="6" fill="#22c52a"/>
<rect x="477.28" y="478" width="6" height="6" fill="#22c52a"/>
<rect x="535.36" y="478.8" width="6" height="6" fill="#22c52a"/>
<polyline points="422.2,468.2 480.28,481 538.36,481.8" fill="none" stroke="#ff2a0a" stroke-width="1"/>
<circle cx="422.2" cy="468.2" r="3" fill="#ff2a0a"/>
<circle cx="480.28" cy="481" r="3" fill="#ff2a0a"/>
<circle cx="538.36" cy="481.8" r="3" fill="#ff2a0a"/>
<polyline points="422.2,457 480.28,455.7 538.36,424.6" fill="none" stroke="#ff9a2a" stroke-width="1"/>
<circle cx="422.2" cy="457" r="2.7" fill="#ff9a2a"/>
<circle cx="480.28" cy="455.7" r="2.7" fill="#ff9a2a"/>
<circle cx="538.36" cy="424.6" r="2.7" fill="#ff9a2a"/>
<polyline points="422.2,457.6 480.28,447.9 538.36,421" fill="none" stroke="#b13fe6" stroke-width="1"/>
<polygon points="422.2,454.35 424.8,457.6 422.2,460.85 419.6,457.6" fill="#b13fe6"/>
<polygon points="480.28,444.65 482.88,447.9 480.28,451.15 477.68,447.9" fill="#b13fe6"/>
<polygon points="538.36,417.75 540.96,421 538.36,424.25 535.76,421" fill="#b13fe6"/>
<polygon points="577.9,401.88 580.98,407.48 574.82,407.48" fill="#a0a0a0"/>
<text x="584.6" y="408.6" font-size="9.3" fill="#000" textLength="68.62" lengthAdjust="spacingAndGlyphs">Intergenic control</text>
<circle cx="577.9" cy="418.5" r="2.8" fill="#ff2a0a"/>
<text x="584.6" y="422" font-size="9.3" fill="#000" textLength="45.26" lengthAdjust="spacingAndGlyphs">IL13 KO #1</text>
<rect x="575.1" y="429.5" width="5.6" height="5.6" fill="#22c52a"/>
<text x="584.6" y="435.8" font-size="9.3" fill="#000" textLength="45.26" lengthAdjust="spacingAndGlyphs">IL13 KO #2</text>
<polygon points="577.9,442 580.3,445 577.9,448 575.5,445" fill="#b13fe6"/>
<text x="584.6" y="448.5" font-size="9.3" fill="#000" textLength="78.82" lengthAdjust="spacingAndGlyphs">IL13 KO #1 + rIL-13</text>
<circle cx="577.9" cy="458.5" r="2.8" fill="#ff9a2a"/>
<text x="584.6" y="462" font-size="9.3" fill="#000" textLength="78.82" lengthAdjust="spacingAndGlyphs">IL13 KO #2 + rIL-13</text>
<text x="27.6" y="377.6" font-size="12.2" font-weight="bold" fill="#000">f</text>
<path d="M53.9 445.4 L54.2 410 L54.5 396.6 L54.9 403 L55.4 414 L55.9 423 L56.6 430 L57.5 435.5 L58.6 439.3 L60 442 L61.8 443.8 L64 444.9 L67 445.4 Z" fill="#f5aaa3"/>
<polyline points="53.9,445.4 54.2,410 54.5,396.6 54.9,403 55.4,414 55.9,423 56.6,430 57.5,435.5 58.6,439.3 60,442 61.8,443.8 64,444.9 90,445.4" fill="none" stroke="#444" stroke-width="0.6"/>
<line x1="60" y1="445.4" x2="282" y2="445.4" stroke="#c4c4c4" stroke-width="0.9"/>
<rect x="54" y="449.2" width="3.4" height="7" fill="#f5aaa3" stroke="#555" stroke-width="0.6"/>
<line x1="57.4" y1="452.7" x2="60.6" y2="452.7" stroke="#777" stroke-width="0.6"/>
<rect x="53.2" y="461.2" width="6.5" height="11.4" fill="#000"/>
<path d="M62.77 470.27h0.9v0.9h-0.9zM62.67 471.94h0.9v0.9h-0.9zM59.46 461.53h0.9v0.9h-0.9zM66.22 466.51h0.9v0.9h-0.9zM63.34 471.47h0.9v0.9h-0.9zM60.61 462.49h0.9v0.9h-0.9zM61.36 467.4h0.9v0.9h-0.9zM59.47 467.74h0.9v0.9h-0.9zM61.23 464.39h0.9v0.9h-0.9zM59.18 471.65h0.9v0.9h-0.9zM59.19 470.29h0.9v0.9h-0.9zM60.88 462.78h0.9v0.9h-0.9zM60.23 461.22h0.9v0.9h-0.9zM60.12 471.13h0.9v0.9h-0.9zM59.56 472.4h0.9v0.9h-0.9zM61.16 471.15h0.9v0.9h-0.9zM61 467.35h0.9v0.9h-0.9zM66.92 468.93h0.9v0.9h-0.9zM61.13 469.07h0.9v0.9h-0.9zM66.31 472.22h0.9v0.9h-0.9zM61.12 465.32h0.9v0.9h-0.9zM60.67 463.09h0.9v0.9h-0.9zM59.72 464.64h0.9v0.9h-0.9zM59.93 468.08h0.9v0.9h-0.9zM63.82 465.05h0.9v0.9h-0.9zM59.1 464.73h0.9v0.9h-0.9zM60.53 464.8h0.9v0.9h-0.9zM62.33 466.69h0.9v0.9h-0.9zM59.31 472.32h0.9v0.9h-0.9zM60.05 461.46h0.9v0.9h-0.9zM59.01 461.41h0.9v0.9h-0.9zM65.18 470.18h0.9v0.9h-0.9zM61.81 461.3h0.9v0.9h-0.9zM62.13 461.73h0.9v0.9h-0.9zM62.35 463.44h0.9v0.9h-0.9zM66.24 469.82h0.9v0.9h-0.9zM65.9 465.13h0.9v0.9h-0.9zM62.27 465.24h0.9v0.9h-0.9zM64.47 462.43h0.9v0.9h-0.9zM59.86 469.73h0.9v0.9h-0.9zM60.85 461.62h0.9v0.9h-0.9zM65.06 471.98h0.9v0.9h-0.9zM61.45 468.16h0.9v0.9h-0.9zM60.58 471.67h0.9v0.9h-0.9zM62.89 467.41h0.9v0.9h-0.9zM65.14 464.76h0.9v0.9h-0.9zM59.82 462.09h0.9v0.9h-0.9zM60.83 462.9h0.9v0.9h-0.9zM63.04 463.04h0.9v0.9h-0.9zM69.04 461.75h0.9v0.9h-0.9zM62.94 465.83h0.9v0.9h-0.9zM59.33 463.91h0.9v0.9h-0.9zM63.97 466.39h0.9v0.9h-0.9zM62.33 466.01h0.9v0.9h-0.9zM65.69 461.57h0.9v0.9h-0.9zM61.44 466.83h0.9v0.9h-0.9zM59.89 469.54h0.9v0.9h-0.9zM60.44 472.03h0.9v0.9h-0.9zM62.85 462.42h0.9v0.9h-0.9zM63.12 466.15h0.9v0.9h-0.9zM62.65 464.56h0.9v0.9h-0.9zM63.98 466.37h0.9v0.9h-0.9zM65.26 472.33h0.9v0.9h-0.9zM59.03 466.37h0.9v0.9h-0.9zM64.16 466.66h0.9v0.9h-0.9zM59.38 464.52h0.9v0.9h-0.9zM60.48 465.5h0.9v0.9h-0.9zM60.02 472.47h0.9v0.9h-0.9zM63.35 466.89h0.9v0.9h-0.9zM60.12 465.06h0.9v0.9h-0.9zM61.16 470.12h0.9v0.9h-0.9zM60.36 471.09h0.9v0.9h-0.9zM62.62 470.03h0.9v0.9h-0.9zM63.3 469.12h0.9v0.9h-0.9zM61.78 465.34h0.9v0.9h-0.9zM63.63 469.23h0.9v0.9h-0.9zM59.71 469.98h0.9v0.9h-0.9zM62.62 469.08h0.9v0.9h-0.9zM61.1 468.61h0.9v0.9h-0.9zM66.43 467.82h0.9v0.9h-0.9zM63.02 464.06h0.9v0.9h-0.9zM59.29 468.86h0.9v0.9h-0.9zM64.74 468.58h0.9v0.9h-0.9zM60.36 470.29h0.9v0.9h-0.9zM61.65 469.61h0.9v0.9h-0.9zM62.76 470.64h0.9v0.9h-0.9zM62.62 471.12h0.9v0.9h-0.9zM63.98 469.05h0.9v0.9h-0.9zM66.92 467.11h0.9v0.9h-0.9zM60.2 467.23h0.9v0.9h-0.9zM62.06 471.89h0.9v0.9h-0.9zM64.27 466.64h0.9v0.9h-0.9zM60.84 469.53h0.9v0.9h-0.9zM63.76 463.16h0.9v0.9h-0.9zM59.8 468.79h0.9v0.9h-0.9zM63.14 466h0.9v0.9h-0.9zM62.94 468.46h0.9v0.9h-0.9zM62.88 469.41h0.9v0.9h-0.9zM60.86 466.23h0.9v0.9h-0.9zM59.33 468.61h0.9v0.9h-0.9zM59.94 468.39h0.9v0.9h-0.9zM63.78 461.68h0.9v0.9h-0.9zM61.26 461.82h0.9v0.9h-0.9zM59.41 462.72h0.9v0.9h-0.9zM59.83 463.4h0.9v0.9h-0.9zM60.85 461.61h0.9v0.9h-0.9zM62.06 468.17h0.9v0.9h-0.9zM59.68 467.93h0.9v0.9h-0.9zM59.53 461.21h0.9v0.9h-0.9zM65.89 465.82h0.9v0.9h-0.9zM59.59 462.51h0.9v0.9h-0.9zM62.23 470.68h0.9v0.9h-0.9zM59.61 468.19h0.9v0.9h-0.9zM59.62 462.28h0.9v0.9h-0.9zM61.8 467.82h0.9v0.9h-0.9zM59.82 472.12h0.9v0.9h-0.9zM60.39 470.47h0.9v0.9h-0.9zM62.03 468.52h0.9v0.9h-0.9zM60.21 467.99h0.9v0.9h-0.9zM60.3 467.63h0.9v0.9h-0.9zM177.89 471.95h0.8v0.8h-0.8zM120.22 465.29h0.8v0.8h-0.8zM166.21 461.51h0.8v0.8h-0.8zM69.41 467.61h0.8v0.8h-0.8zM121.15 463.02h0.8v0.8h-0.8zM123.22 471.13h0.8v0.8h-0.8zM91.07 466.16h0.8v0.8h-0.8zM77.14 464.65h0.8v0.8h-0.8zM180.76 465.6h0.8v0.8h-0.8zM178.63 471.37h0.8v0.8h-0.8zM118.4 464.31h0.8v0.8h-0.8zM182.37 466.86h0.8v0.8h-0.8zM95.44 464.95h0.8v0.8h-0.8zM183 466.81h0.8v0.8h-0.8zM82.23 466.65h0.8v0.8h-0.8zM70.14 468.21h0.8v0.8h-0.8zM98.67 464.67h0.8v0.8h-0.8zM146.92 470.43h0.8v0.8h-0.8zM66.12 467.25h0.8v0.8h-0.8zM81.1 471.6h0.8v0.8h-0.8zM146.95 464.15h0.8v0.8h-0.8zM80.57 463.17h0.8v0.8h-0.8z" fill="#000" fill-opacity="0.8"/>
<circle cx="192" cy="415" r="0.5" fill="#777"/>
<circle cx="237.3" cy="467.6" r="0.6" fill="#555"/>
<circle cx="355.8" cy="471" r="0.6" fill="#aaa"/>
<line x1="89.5" y1="397.6" x2="89.5" y2="479" stroke="#444" stroke-width="0.8" stroke-dasharray="1.2,2.6"/>
<circle cx="89.5" cy="462.4" r="2.6" fill="#f0746a"/>
<text x="74.9" y="391" font-size="10.4" fill="#111">UHO1</text>
<line x1="199.4" y1="397.6" x2="199.4" y2="479" stroke="#444" stroke-width="0.8" stroke-dasharray="1.2,2.6"/>
<circle cx="199.4" cy="467.6" r="2.6" fill="#f0746a"/>
<text x="184.5" y="391" font-size="10.4" fill="#111">L428</text>
<line x1="282.4" y1="397.6" x2="282.4" y2="479" stroke="#444" stroke-width="0.8" stroke-dasharray="1.2,2.6"/>
<circle cx="282.4" cy="466.2" r="2.6" fill="#f0746a"/>
<text x="267.6" y="391" font-size="10.4" fill="#111">L1236</text>
<line x1="42.9" y1="391.6" x2="42.9" y2="479.5" stroke="#555" stroke-width="1.1"/>
<line x1="42.4" y1="479" x2="313.2" y2="479" stroke="#555" stroke-width="1.1"/>
<line x1="55.3" y1="479" x2="55.3" y2="481.2" stroke="#555" stroke-width="0.8"/>
<text x="55.3" y="490.9" font-size="9" text-anchor="middle" fill="#555">0</text>
<line x1="137.1" y1="479" x2="137.1" y2="481.2" stroke="#555" stroke-width="0.8"/>
<text x="137.1" y="490.9" font-size="9" text-anchor="middle" fill="#555">2</text>
<line x1="218.9" y1="479" x2="218.9" y2="481.2" stroke="#555" stroke-width="0.8"/>
<text x="218.9" y="490.9" font-size="9" text-anchor="middle" fill="#555">4</text>
<line x1="300.7" y1="479" x2="300.7" y2="481.2" stroke="#555" stroke-width="0.8"/>
<text x="300.7" y="490.9" font-size="9" text-anchor="middle" fill="#555">6</text>
<text x="101.7" y="505.8" font-size="9.3" font-weight="bold" fill="#000" textLength="136" lengthAdjust="spacingAndGlyphs">IL13 expression (log<tspan font-size="6.0" dy="2.2">2</tspan><tspan dy="-2.2">(TPM+1))</tspan></text>
<text x="7.6" y="547.8" font-size="12.2" font-weight="bold" fill="#000">h</text>
<rect x="219" y="551.4" width="7.3" height="113.2" fill="#dedede"/>
<text x="214.2" y="545.2" font-size="10" fill="#111">C<tspan font-size="6.4" dy="2.4">max</tspan></text>
<line x1="83.9" y1="594.94" x2="240" y2="594.94" stroke="#aaa" stroke-width="0.7" stroke-dasharray="1,2"/>
<line x1="83.9" y1="559.8" x2="83.9" y2="665" stroke="#222" stroke-width="1"/>
<line x1="83.5" y1="664.6" x2="239.8" y2="664.6" stroke="#222" stroke-width="1"/>
<line x1="80.2" y1="664.6" x2="83.9" y2="664.6" stroke="#222" stroke-width="0.9"/>
<text x="76.6" y="667.6" font-size="8.3" font-weight="bold" text-anchor="end" fill="#111">0</text>
<line x1="80.2" y1="629.77" x2="83.9" y2="629.77" stroke="#222" stroke-width="0.9"/>
<text x="76.6" y="632.77" font-size="8.3" font-weight="bold" text-anchor="end" fill="#111">50</text>
<line x1="80.2" y1="594.94" x2="83.9" y2="594.94" stroke="#222" stroke-width="0.9"/>
<text x="76.6" y="597.94" font-size="8.3" font-weight="bold" text-anchor="end" fill="#111">100</text>
<line x1="83.9" y1="664.6" x2="83.9" y2="667.8" stroke="#222" stroke-width="0.9"/>
<text x="82.9" y="678.2" font-size="8.0" font-weight="bold" text-anchor="middle" fill="#111">10<tspan font-size="5.6" dy="-3.4">−12</tspan></text>
<line x1="109.9" y1="664.6" x2="109.9" y2="667.8" stroke="#222" stroke-width="0.9"/>
<text x="108.9" y="678.2" font-size="8.0" font-weight="bold" text-anchor="middle" fill="#111">10<tspan font-size="5.6" dy="-3.4">−11</tspan></text>
<line x1="135.9" y1="664.6" x2="135.9" y2="667.8" stroke="#222" stroke-width="0.9"/>
<text x="134.9" y="678.2" font-size="8.0" font-weight="bold" text-anchor="middle" fill="#111">10<tspan font-size="5.6" dy="-3.4">−10</tspan></text>
<line x1="161.9" y1="664.6" x2="161.9" y2="667.8" stroke="#222" stroke-width="0.9"/>
<text x="160.9" y="678.2" font-size="8.0" font-weight="bold" text-anchor="middle" fill="#111">10<tspan font-size="5.6" dy="-3.4">−9</tspan></text>
<line x1="187.9" y1="664.6" x2="187.9" y2="667.8" stroke="#222" stroke-width="0.9"/>
<text x="186.9" y="678.2" font-size="8.0" font-weight="bold" text-anchor="middle" fill="#111">10<tspan font-size="5.6" dy="-3.4">−8</tspan></text>
<line x1="213.9" y1="664.6" x2="213.9" y2="667.8" stroke="#222" stroke-width="0.9"/>
<text x="212.9" y="678.2" font-size="8.0" font-weight="bold" text-anchor="middle" fill="#111">10<tspan font-size="5.6" dy="-3.4">−7</tspan></text>
<line x1="239.9" y1="664.6" x2="239.9" y2="667.8" stroke="#222" stroke-width="0.9"/>
<text x="238.9" y="678.2" font-size="8.0" font-weight="bold" text-anchor="middle" fill="#111">10<tspan font-size="5.6" dy="-3.4">−6</tspan></text>
<text x="175" y="690.4" font-size="10.4" font-weight="bold" text-anchor="middle" fill="#000">Antibody Concentration (M)</text>
<text x="45.2" y="615.3" font-size="10.5" font-weight="bold" text-anchor="middle" fill="#000" transform="rotate(-90 45.2 615.3)">Relative viability</text>
<text x="57.1" y="616.3" font-size="10.6" font-weight="bold" text-anchor="middle" fill="#000" transform="rotate(-90 57.1 616.3)">(%, normalized to isotype control)</text>
<polyline points="101,592.62 102.5,592.66 104,592.7 105.5,592.75 107,592.81 108.5,592.87 110,592.93 111.5,593.01 113,593.09 114.5,593.19 116,593.29 117.5,593.41 119,593.54 120.5,593.69 122,593.85 123.5,594.03 125,594.23 126.5,594.45 128,594.7 129.5,594.97 131,595.28 132.5,595.61 134,595.98 135.5,596.39 137,596.84 138.5,597.33 140,597.87 141.5,598.45 143,599.09 144.5,599.79 146,600.54 147.5,601.35 149,602.22 150.5,603.16 152,604.15 153.5,605.2 155,606.31 156.5,607.48 158,608.7 159.5,609.96 161,611.27 162.5,612.61 164,613.97 165.5,615.36 167,616.75 168.5,618.14 170,619.53 171.5,620.89 173,622.23 174.5,623.54 176,624.8 177.5,626.02 179,627.19 180.5,628.3 182,629.35 183.5,630.34 185,631.28 186.5,632.15 188,632.96 189.5,633.71 191,634.41 192.5,635.05 194,635.63 195.5,636.17 197,636.66 198.5,637.11 200,637.52 201.5,637.89 203,638.22 204.5,638.53 206,638.8 207.5,639.05 209,639.27 210.5,639.47 212,639.65 213.5,639.81 215,639.96 216.5,640.09 218,640.21 219.5,640.31 221,640.41 222.5,640.49 224,640.57 225.5,640.63 227,640.69 228.5,640.75 230,640.8 231.5,640.84 233,640.88" fill="none" stroke="#2ee82e" stroke-width="1"/>
<polyline points="101,600.03 102.5,600.03 104,600.04 105.5,600.05 107,600.05 108.5,600.06 110,600.08 111.5,600.09 113,600.11 114.5,600.13 116,600.15 117.5,600.18 119,600.21 120.5,600.25 122,600.3 123.5,600.35 125,600.42 126.5,600.49 128,600.58 129.5,600.69 131,600.81 132.5,600.96 134,601.13 135.5,601.34 137,601.58 138.5,601.86 140,602.19 141.5,602.57 143,603.02 144.5,603.55 146,604.15 147.5,604.85 149,605.65 150.5,606.57 152,607.61 153.5,608.78 155,610.1 156.5,611.57 158,613.18 159.5,614.95 161,616.85 162.5,618.87 164,621 165.5,623.21 167,625.48 168.5,627.76 170,630.04 171.5,632.27 173,634.43 174.5,636.49 176,638.44 177.5,640.24 179,641.91 180.5,643.42 182,644.79 183.5,646.02 185,647.1 186.5,648.06 188,648.9 189.5,649.63 191,650.26 192.5,650.81 194,651.28 195.5,651.69 197,652.04 198.5,652.33 200,652.59 201.5,652.8 203,652.98 204.5,653.14 206,653.27 207.5,653.38 209,653.48 210.5,653.56 212,653.63 213.5,653.69 215,653.73 216.5,653.78 218,653.81 219.5,653.84 221,653.87 222.5,653.89 224,653.9 225.5,653.92 227,653.93 228.5,653.94 230,653.95 231.5,653.96 233,653.97" fill="none" stroke="#3355ff" stroke-width="1"/>
<polyline points="101,597.72 102.5,597.8 104,597.9 105.5,598.01 107,598.13 108.5,598.26 110,598.41 111.5,598.58 113,598.77 114.5,598.98 116,599.21 117.5,599.47 119,599.75 120.5,600.07 122,600.42 123.5,600.81 125,601.23 126.5,601.7 128,602.22 129.5,602.79 131,603.41 132.5,604.08 134,604.82 135.5,605.61 137,606.47 138.5,607.39 140,608.38 141.5,609.43 143,610.55 144.5,611.73 146,612.97 147.5,614.26 149,615.61 150.5,616.99 152,618.41 153.5,619.86 155,621.32 156.5,622.79 158,624.26 159.5,625.72 161,627.16 162.5,628.57 164,629.94 165.5,631.26 167,632.53 168.5,633.75 170,634.9 171.5,635.99 173,637.02 174.5,637.98 176,638.88 177.5,639.71 179,640.49 180.5,641.2 182,641.85 183.5,642.45 185,642.99 186.5,643.49 188,643.94 189.5,644.35 191,644.73 192.5,645.06 194,645.37 195.5,645.64 197,645.89 198.5,646.11 200,646.31 201.5,646.49 203,646.65 204.5,646.79 206,646.92 207.5,647.04 209,647.14 210.5,647.23 212,647.31 213.5,647.39 215,647.45 216.5,647.51 218,647.57 219.5,647.61 221,647.66 222.5,647.69 224,647.73 225.5,647.76 227,647.78 228.5,647.81 230,647.83 231.5,647.85 233,647.86" fill="none" stroke="#ff4a3a" stroke-width="1"/>
<rect x="98.8" y="588.9" width="5.4" height="5.4" fill="#2ee82e"/>
<rect x="125" y="590" width="5.4" height="5.4" fill="#2ee82e"/>
<rect x="151.3" y="603.5" width="5.4" height="5.4" fill="#2ee82e"/>
<rect x="176.9" y="624.6" width="5.4" height="5.4" fill="#2ee82e"/>
<rect x="203.5" y="637" width="5.4" height="5.4" fill="#2ee82e"/>
<rect x="229.8" y="639.2" width="5.4" height="5.4" fill="#2ee82e"/>
<circle cx="101.5" cy="597" r="2.6" fill="#ff2a0a"/>
<circle cx="127.7" cy="609.8" r="2.6" fill="#ff2a0a"/>
<circle cx="154" cy="622.6" r="2.6" fill="#ff2a0a"/>
<circle cx="179.6" cy="642" r="2.6" fill="#ff2a0a"/>
<circle cx="206.2" cy="647.4" r="2.6" fill="#ff2a0a"/>
<circle cx="232.5" cy="648.1" r="2.6" fill="#ff2a0a"/>
<polygon points="101.5,593.89 104.47,599.29 98.53,599.29" fill="#1f3df5"/>
<polygon points="127.7,603.39 130.67,608.79 124.73,608.79" fill="#1f3df5"/>
<polygon points="154,606.39 156.97,611.79 151.03,611.79" fill="#1f3df5"/>
<polygon points="179.6,638.89 182.57,644.29 176.63,644.29" fill="#1f3df5"/>
<polygon points="206.2,647.89 209.17,653.29 203.23,653.29" fill="#1f3df5"/>
<polygon points="232.5,650.5 235.47,655.89 229.53,655.89" fill="#1f3df5"/>
<text x="318" y="593.0" font-size="9.4" font-weight="bold" fill="#000">IC<tspan font-size="6" dy="2.4">50</tspan></text>
<polygon points="249,596.56 252.96,603.76 245.04,603.76" fill="#1f3df5"/>
<text x="256" y="604.1" font-size="9.2" fill="#000" textLength="53.73" lengthAdjust="spacingAndGlyphs">Tralokinumab</text>
<text x="318" y="604.1" font-size="9.2" fill="#000" textLength="32.24" lengthAdjust="spacingAndGlyphs">1.80 nM</text>
<circle cx="249" cy="609.8" r="3.6" fill="#ff2a0a"/>
<text x="256" y="613.2" font-size="9.2" fill="#000" textLength="53.07" lengthAdjust="spacingAndGlyphs">Lebrikizumab</text>
<text x="318" y="613.2" font-size="9.2" fill="#000" textLength="32.24" lengthAdjust="spacingAndGlyphs">0.43 nM</text>
<rect x="245.5" y="615.4" width="7" height="7" fill="#2ee82e"/>
<text x="256" y="622.3" font-size="9.2" fill="#000" textLength="42.66" lengthAdjust="spacingAndGlyphs">Dupilumab</text>
<text x="318" y="622.3" font-size="9.2" fill="#000" textLength="32.24" lengthAdjust="spacingAndGlyphs">1.46 nM</text>
<text x="381.6" y="542.4" font-size="12.2" font-weight="bold" fill="#000">i</text>
<line x1="436.8" y1="530.3" x2="436.8" y2="662.8" stroke="#333" stroke-width="1"/>
<line x1="436.8" y1="662.8" x2="612" y2="662.8" stroke="#333" stroke-width="1"/>
<line x1="433.2" y1="542.3" x2="436.8" y2="542.3" stroke="#333" stroke-width="0.9"/>
<text x="431.8" y="545.7" font-size="9.8" text-anchor="end" fill="#111">1×10<tspan font-size="5.88" dy="-3.72">7</tspan></text>
<line x1="433.2" y1="602.6" x2="436.8" y2="602.6" stroke="#333" stroke-width="0.9"/>
<text x="431.8" y="606" font-size="9.8" text-anchor="end" fill="#111">5×10<tspan font-size="5.88" dy="-3.72">6</tspan></text>
<line x1="433.2" y1="662.8" x2="436.8" y2="662.8" stroke="#333" stroke-width="0.9"/>
<text x="432.6" y="666" font-size="8.8" text-anchor="end" fill="#111">0</text>
<line x1="436.8" y1="662.8" x2="436.8" y2="666.2" stroke="#333" stroke-width="0.9"/>
<line x1="450.25" y1="662.8" x2="450.25" y2="665" stroke="#333" stroke-width="0.7"/>
<line x1="463.7" y1="662.8" x2="463.7" y2="665" stroke="#333" stroke-width="0.7"/>
<line x1="477.15" y1="662.8" x2="477.15" y2="665" stroke="#333" stroke-width="0.7"/>
<line x1="490.6" y1="662.8" x2="490.6" y2="665" stroke="#333" stroke-width="0.7"/>
<line x1="504.05" y1="662.8" x2="504.05" y2="666.2" stroke="#333" stroke-width="0.9"/>
<line x1="517.5" y1="662.8" x2="517.5" y2="665" stroke="#333" stroke-width="0.7"/>
<line x1="530.95" y1="662.8" x2="530.95" y2="665" stroke="#333" stroke-width="0.7"/>
<line x1="544.4" y1="662.8" x2="544.4" y2="665" stroke="#333" stroke-width="0.7"/>
<line x1="557.85" y1="662.8" x2="557.85" y2="665" stroke="#333" stroke-width="0.7"/>
<line x1="571.3" y1="662.8" x2="571.3" y2="666.2" stroke="#333" stroke-width="0.9"/>
<line x1="584.75" y1="662.8" x2="584.75" y2="665" stroke="#333" stroke-width="0.7"/>
<line x1="598.2" y1="662.8" x2="598.2" y2="665" stroke="#333" stroke-width="0.7"/>
<line x1="611.65" y1="662.8" x2="611.65" y2="665" stroke="#333" stroke-width="0.7"/>
<text x="436.8" y="675.4" font-size="9.8" text-anchor="middle" fill="#000" textLength="5" lengthAdjust="spacingAndGlyphs">0</text>
<text x="504.05" y="675.4" font-size="9.8" text-anchor="middle" fill="#000" textLength="5" lengthAdjust="spacingAndGlyphs">5</text>
<text x="571.3" y="675.4" font-size="9.8" text-anchor="middle" fill="#000" textLength="10.01" lengthAdjust="spacingAndGlyphs">10</text>
<text x="530.8" y="686" font-size="10.2" font-weight="bold" text-anchor="middle" fill="#000">Days</text>
<text x="400.6" y="597.8" font-size="10.2" font-weight="bold" text-anchor="middle" fill="#000" transform="rotate(-90 400.6 597.8)">Cell count</text>
<polyline points="436.8,655 477.15,649 517.5,639.5 571.3,613 598.2,559.6" fill="none" stroke="#a8a8a8" stroke-width="1"/>
<polygon points="436.8,651.78 439.88,657.38 433.72,657.38" fill="#a8a8a8"/>
<polygon points="477.15,645.78 480.23,651.38 474.07,651.38" fill="#a8a8a8"/>
<polygon points="517.5,636.28 520.58,641.88 514.42,641.88" fill="#a8a8a8"/>
<polygon points="571.3,609.78 574.38,615.38 568.22,615.38" fill="#a8a8a8"/>
<polygon points="598.2,556.38 601.28,561.98 595.12,561.98" fill="#a8a8a8"/>
<polyline points="436.8,655 477.15,656.8 517.5,659 571.3,658 598.2,645.4" fill="none" stroke="#ff2a0a" stroke-width="1"/>
<circle cx="436.8" cy="655" r="2.7" fill="#ff2a0a"/>
<circle cx="477.15" cy="656.8" r="2.7" fill="#ff2a0a"/>
<circle cx="517.5" cy="659" r="2.7" fill="#ff2a0a"/>
<circle cx="571.3" cy="658" r="2.7" fill="#ff2a0a"/>
<circle cx="598.2" cy="645.4" r="2.7" fill="#ff2a0a"/>
<polyline points="436.8,655 477.15,655.8 517.5,655.5 571.3,657 598.2,644.3" fill="none" stroke="#2ee82e" stroke-width="1"/>
<polygon points="436.8,658.11 439.77,652.71 433.83,652.71" fill="#2ee82e"/>
<polygon points="477.15,658.9 480.12,653.5 474.18,653.5" fill="#2ee82e"/>
<polygon points="517.5,658.61 520.47,653.21 514.53,653.21" fill="#2ee82e"/>
<polygon points="571.3,660.11 574.27,654.71 568.33,654.71" fill="#2ee82e"/>
<polygon points="598.2,647.4 601.17,642 595.23,642" fill="#2ee82e"/>
<polyline points="436.8,655 477.15,655 517.5,654.2 571.3,653.8 598.2,648.1" fill="none" stroke="#1f3df5" stroke-width="1"/>
<rect x="434.1" y="652.3" width="5.4" height="5.4" fill="#1f3df5"/>
<rect x="474.45" y="652.3" width="5.4" height="5.4" fill="#1f3df5"/>
<rect x="514.8" y="651.5" width="5.4" height="5.4" fill="#1f3df5"/>
<rect x="568.6" y="651.1" width="5.4" height="5.4" fill="#1f3df5"/>
<rect x="595.5" y="645.4" width="5.4" height="5.4" fill="#1f3df5"/>
<polygon points="615.8,561.31 618.66,566.51 612.94,566.51" fill="#a8a8a8"/>
<text x="626.8" y="567.8" font-size="9.3" fill="#000" textLength="58.18" lengthAdjust="spacingAndGlyphs">Isotype control</text>
<circle cx="615.8" cy="577" r="2.6" fill="#ff2a0a"/>
<text x="626.8" y="580.5" font-size="9.3" fill="#000" textLength="53.2" lengthAdjust="spacingAndGlyphs">Lebrikizumab</text>
<rect x="613.2" y="587.3" width="5.2" height="5.2" fill="#1f3df5"/>
<text x="626.8" y="593.4" font-size="9.3" fill="#000" textLength="53.86" lengthAdjust="spacingAndGlyphs">Tralokinumab</text>
<polygon points="615.8,604.99 618.66,599.79 612.94,599.79" fill="#2ee82e"/>
<text x="626.8" y="605.5" font-size="9.3" fill="#000" textLength="42.76" lengthAdjust="spacingAndGlyphs">Dupilumab</text>
<text x="6.8" y="729.2" font-size="12.2" font-weight="bold" fill="#000">j</text>
<defs><clipPath id="cj"><circle cx="110" cy="823.8" r="78.3"/></clipPath></defs>
<g clip-path="url(#cj)">
<circle cx="170" cy="823.8" r="4.5" fill="#86ccbe"/>
<circle cx="170.2" cy="824" r="2.7" fill="#4c9e8e"/>
<circle cx="114.24" cy="883.65" r="4.5" fill="#a2dacf"/>
<circle cx="114.44" cy="883.85" r="2.7" fill="#6ab3a4"/>
<circle cx="50.6" cy="832.27" r="4.5" fill="#86ccbe"/>
<circle cx="50.8" cy="832.47" r="2.7" fill="#4c9e8e"/>
<circle cx="97.35" cy="765.15" r="4.5" fill="#a2dacf"/>
<circle cx="97.55" cy="765.35" r="2.7" fill="#6ab3a4"/>
<circle cx="60" cy="833.61" r="4.5" fill="#86ccbe"/>
<circle cx="60.2" cy="833.81" r="2.7" fill="#4c9e8e"/>
<circle cx="106.93" cy="877.53" r="4.5" fill="#a2dacf"/>
<circle cx="107.13" cy="877.73" r="2.7" fill="#6ab3a4"/>
<circle cx="114.39" cy="893.07" r="4.5" fill="#86ccbe"/>
<circle cx="114.59" cy="893.27" r="2.7" fill="#4c9e8e"/>
<circle cx="105.21" cy="893.27" r="4.5" fill="#86ccbe"/>
<circle cx="105.41" cy="893.47" r="2.7" fill="#4c9e8e"/>
<circle cx="112.71" cy="902.37" r="4.5" fill="#86ccbe"/>
<circle cx="112.91" cy="902.57" r="2.7" fill="#4c9e8e"/>
<circle cx="99.38" cy="883.16" r="4.5" fill="#86ccbe"/>
<circle cx="99.58" cy="883.36" r="2.7" fill="#4c9e8e"/>
<circle cx="99.3" cy="900.1" r="4.5" fill="#a2dacf"/>
<circle cx="99.5" cy="900.3" r="2.7" fill="#6ab3a4"/>
<circle cx="90.45" cy="759.13" r="4.5" fill="#86ccbe"/>
<circle cx="90.65" cy="759.33" r="2.7" fill="#4c9e8e"/>
<circle cx="59.43" cy="824.11" r="4.5" fill="#86ccbe"/>
<circle cx="59.63" cy="824.31" r="2.7" fill="#4c9e8e"/>
<circle cx="87.37" cy="750.37" r="4.5" fill="#86ccbe"/>
<circle cx="87.57" cy="750.57" r="2.7" fill="#4c9e8e"/>
<circle cx="94.53" cy="891.48" r="4.5" fill="#86ccbe"/>
<circle cx="94.73" cy="891.68" r="2.7" fill="#4c9e8e"/>
<circle cx="89.63" cy="883.75" r="4.5" fill="#86ccbe"/>
<circle cx="89.83" cy="883.95" r="2.7" fill="#4c9e8e"/>
<circle cx="40.56" cy="833.07" r="4.5" fill="#86ccbe"/>
<circle cx="40.76" cy="833.27" r="2.7" fill="#4c9e8e"/>
<circle cx="81.37" cy="888.2" r="4.5" fill="#86ccbe"/>
<circle cx="81.57" cy="888.4" r="2.7" fill="#4c9e8e"/>
<circle cx="49.43" cy="841.33" r="4.5" fill="#86ccbe"/>
<circle cx="49.63" cy="841.53" r="2.7" fill="#4c9e8e"/>
<circle cx="82.45" cy="877.94" r="4.5" fill="#a2dacf"/>
<circle cx="82.65" cy="878.14" r="2.7" fill="#6ab3a4"/>
<circle cx="89.41" cy="901.68" r="4.5" fill="#a2dacf"/>
<circle cx="89.61" cy="901.88" r="2.7" fill="#6ab3a4"/>
<circle cx="107.19" cy="764.02" r="4.5" fill="#86ccbe"/>
<circle cx="107.39" cy="764.22" r="2.7" fill="#4c9e8e"/>
<circle cx="178.85" cy="828.01" r="4.5" fill="#86ccbe"/>
<circle cx="179.05" cy="828.21" r="2.7" fill="#4c9e8e"/>
<circle cx="93.79" cy="875.48" r="4.5" fill="#86ccbe"/>
<circle cx="93.99" cy="875.68" r="2.7" fill="#4c9e8e"/>
<circle cx="122.19" cy="902.16" r="4.5" fill="#a2dacf"/>
<circle cx="122.39" cy="902.36" r="2.7" fill="#6ab3a4"/>
<circle cx="62.31" cy="842.61" r="4.5" fill="#86ccbe"/>
<circle cx="62.51" cy="842.81" r="2.7" fill="#4c9e8e"/>
<circle cx="119.53" cy="876.24" r="4.5" fill="#86ccbe"/>
<circle cx="119.73" cy="876.44" r="2.7" fill="#4c9e8e"/>
<circle cx="63.63" cy="851.55" r="4.5" fill="#86ccbe"/>
<circle cx="63.83" cy="851.75" r="2.7" fill="#4c9e8e"/>
<circle cx="34.01" cy="840.58" r="4.5" fill="#a2dacf"/>
<circle cx="34.21" cy="840.78" r="2.7" fill="#6ab3a4"/>
<circle cx="163.73" cy="816.98" r="4.5" fill="#a2dacf"/>
<circle cx="163.93" cy="817.18" r="2.7" fill="#6ab3a4"/>
<circle cx="128.38" cy="878.21" r="4.5" fill="#a2dacf"/>
<circle cx="128.58" cy="878.41" r="2.7" fill="#6ab3a4"/>
<circle cx="122.35" cy="888.04" r="4.5" fill="#86ccbe"/>
<circle cx="122.55" cy="888.24" r="2.7" fill="#4c9e8e"/>
<circle cx="133.44" cy="886.18" r="4.5" fill="#a2dacf"/>
<circle cx="133.64" cy="886.38" r="2.7" fill="#6ab3a4"/>
<circle cx="87.29" cy="768.52" r="4.5" fill="#86ccbe"/>
<circle cx="87.49" cy="768.72" r="2.7" fill="#4c9e8e"/>
<circle cx="45.98" cy="849.65" r="4.5" fill="#86ccbe"/>
<circle cx="46.18" cy="849.85" r="2.7" fill="#4c9e8e"/>
<circle cx="101.93" cy="772.9" r="4.5" fill="#a2dacf"/>
<circle cx="102.13" cy="773.1" r="2.7" fill="#6ab3a4"/>
<circle cx="30.8" cy="831.19" r="4.5" fill="#86ccbe"/>
<circle cx="31" cy="831.39" r="2.7" fill="#4c9e8e"/>
<circle cx="65.7" cy="861.26" r="4.5" fill="#a2dacf"/>
<circle cx="65.9" cy="861.46" r="2.7" fill="#6ab3a4"/>
<circle cx="160.85" cy="807.49" r="4.5" fill="#86ccbe"/>
<circle cx="161.05" cy="807.69" r="2.7" fill="#4c9e8e"/>
<circle cx="96.29" cy="747.83" r="4.5" fill="#a2dacf"/>
<circle cx="96.49" cy="748.03" r="2.7" fill="#6ab3a4"/>
<circle cx="30.13" cy="822.21" r="4.5" fill="#86ccbe"/>
<circle cx="30.33" cy="822.41" r="2.7" fill="#4c9e8e"/>
<circle cx="166.89" cy="832.7" r="4.5" fill="#86ccbe"/>
<circle cx="167.09" cy="832.9" r="2.7" fill="#4c9e8e"/>
<circle cx="138.29" cy="876.42" r="4.5" fill="#a2dacf"/>
<circle cx="138.49" cy="876.62" r="2.7" fill="#6ab3a4"/>
<circle cx="35.31" cy="813.97" r="4.5" fill="#a2dacf"/>
<circle cx="35.51" cy="814.17" r="2.7" fill="#6ab3a4"/>
<circle cx="54.4" cy="815.57" r="4.5" fill="#86ccbe"/>
<circle cx="54.6" cy="815.77" r="2.7" fill="#4c9e8e"/>
<circle cx="170.42" cy="809.76" r="4.5" fill="#86ccbe"/>
<circle cx="170.62" cy="809.96" r="2.7" fill="#4c9e8e"/>
<circle cx="167.27" cy="800.86" r="4.5" fill="#86ccbe"/>
<circle cx="167.47" cy="801.06" r="2.7" fill="#4c9e8e"/>
<circle cx="80.74" cy="761.58" r="4.5" fill="#86ccbe"/>
<circle cx="80.94" cy="761.78" r="2.7" fill="#4c9e8e"/>
<circle cx="141.71" cy="867.3" r="4.5" fill="#86ccbe"/>
<circle cx="141.91" cy="867.5" r="2.7" fill="#4c9e8e"/>
<circle cx="150.12" cy="863.45" r="4.5" fill="#86ccbe"/>
<circle cx="150.32" cy="863.65" r="2.7" fill="#4c9e8e"/>
<circle cx="35.61" cy="849.5" r="4.5" fill="#86ccbe"/>
<circle cx="35.81" cy="849.7" r="2.7" fill="#4c9e8e"/>
<circle cx="72.1" cy="758.57" r="4.5" fill="#86ccbe"/>
<circle cx="72.3" cy="758.77" r="2.7" fill="#4c9e8e"/>
<circle cx="72.97" cy="855.04" r="4.5" fill="#86ccbe"/>
<circle cx="73.17" cy="855.24" r="2.7" fill="#4c9e8e"/>
<circle cx="44.21" cy="812.2" r="4.5" fill="#86ccbe"/>
<circle cx="44.41" cy="812.4" r="2.7" fill="#4c9e8e"/>
<circle cx="148.25" cy="877.72" r="4.5" fill="#86ccbe"/>
<circle cx="148.45" cy="877.92" r="2.7" fill="#4c9e8e"/>
<circle cx="42.34" cy="858.53" r="4.5" fill="#86ccbe"/>
<circle cx="42.54" cy="858.73" r="2.7" fill="#4c9e8e"/>
<circle cx="55.91" cy="858.85" r="4.5" fill="#a2dacf"/>
<circle cx="56.11" cy="859.05" r="2.7" fill="#6ab3a4"/>
<circle cx="49.8" cy="865.99" r="4.5" fill="#86ccbe"/>
<circle cx="50" cy="866.19" r="2.7" fill="#4c9e8e"/>
<circle cx="80.64" cy="898.63" r="4.5" fill="#86ccbe"/>
<circle cx="80.84" cy="898.83" r="2.7" fill="#4c9e8e"/>
<circle cx="52.87" cy="875.14" r="4.5" fill="#86ccbe"/>
<circle cx="53.07" cy="875.34" r="2.7" fill="#4c9e8e"/>
<circle cx="159.41" cy="825.75" r="4.5" fill="#86ccbe"/>
<circle cx="159.61" cy="825.95" r="2.7" fill="#4c9e8e"/>
<circle cx="52.25" cy="806.81" r="4.5" fill="#a2dacf"/>
<circle cx="52.45" cy="807.01" r="2.7" fill="#6ab3a4"/>
<circle cx="73.53" cy="866.06" r="4.5" fill="#86ccbe"/>
<circle cx="73.73" cy="866.26" r="2.7" fill="#4c9e8e"/>
<circle cx="171.57" cy="792.53" r="4.5" fill="#86ccbe"/>
<circle cx="171.77" cy="792.73" r="2.7" fill="#4c9e8e"/>
<circle cx="151.12" cy="887.1" r="4.5" fill="#86ccbe"/>
<circle cx="151.32" cy="887.3" r="2.7" fill="#4c9e8e"/>
<circle cx="158.69" cy="797.92" r="4.5" fill="#a2dacf"/>
<circle cx="158.89" cy="798.12" r="2.7" fill="#6ab3a4"/>
<circle cx="158.9" cy="860.86" r="4.5" fill="#86ccbe"/>
<circle cx="159.1" cy="861.06" r="2.7" fill="#4c9e8e"/>
<circle cx="61.74" cy="879.45" r="4.5" fill="#86ccbe"/>
<circle cx="61.94" cy="879.65" r="2.7" fill="#4c9e8e"/>
<circle cx="158.43" cy="881.08" r="4.5" fill="#86ccbe"/>
<circle cx="158.63" cy="881.28" r="2.7" fill="#4c9e8e"/>
<circle cx="68.21" cy="886.82" r="4.5" fill="#a2dacf"/>
<circle cx="68.41" cy="887.02" r="2.7" fill="#6ab3a4"/>
<circle cx="176.35" cy="817.2" r="4.5" fill="#86ccbe"/>
<circle cx="176.55" cy="817.4" r="2.7" fill="#4c9e8e"/>
<circle cx="163.65" cy="873.44" r="4.5" fill="#86ccbe"/>
<circle cx="163.85" cy="873.64" r="2.7" fill="#4c9e8e"/>
<circle cx="73.25" cy="767.52" r="4.5" fill="#86ccbe"/>
<circle cx="73.45" cy="767.72" r="2.7" fill="#4c9e8e"/>
<circle cx="104.45" cy="742.51" r="4.5" fill="#86ccbe"/>
<circle cx="104.65" cy="742.71" r="2.7" fill="#4c9e8e"/>
<circle cx="73.58" cy="876.41" r="4.5" fill="#86ccbe"/>
<circle cx="73.78" cy="876.61" r="2.7" fill="#4c9e8e"/>
<circle cx="174.25" cy="838.33" r="4.5" fill="#86ccbe"/>
<circle cx="174.45" cy="838.53" r="2.7" fill="#4c9e8e"/>
<circle cx="43.39" cy="802.5" r="4.5" fill="#86ccbe"/>
<circle cx="43.59" cy="802.7" r="2.7" fill="#4c9e8e"/>
<circle cx="166" cy="843.14" r="4.5" fill="#a2dacf"/>
<circle cx="166.2" cy="843.34" r="2.7" fill="#6ab3a4"/>
<circle cx="60.21" cy="801.55" r="4.5" fill="#86ccbe"/>
<circle cx="60.41" cy="801.75" r="2.7" fill="#4c9e8e"/>
<circle cx="168.33" cy="784.11" r="4.5" fill="#86ccbe"/>
<circle cx="168.53" cy="784.31" r="2.7" fill="#4c9e8e"/>
<circle cx="55.46" cy="793.19" r="4.5" fill="#86ccbe"/>
<circle cx="55.66" cy="793.39" r="2.7" fill="#4c9e8e"/>
<circle cx="181.97" cy="843.19" r="4.5" fill="#a2dacf"/>
<circle cx="182.17" cy="843.39" r="2.7" fill="#6ab3a4"/>
<circle cx="168.76" cy="860.59" r="4.5" fill="#86ccbe"/>
<circle cx="168.96" cy="860.79" r="2.7" fill="#4c9e8e"/>
<circle cx="172.33" cy="850.21" r="4.5" fill="#a2dacf"/>
<circle cx="172.53" cy="850.41" r="2.7" fill="#6ab3a4"/>
<circle cx="172.24" cy="869.36" r="4.5" fill="#86ccbe"/>
<circle cx="172.44" cy="869.56" r="2.7" fill="#4c9e8e"/>
<circle cx="182.29" cy="853.18" r="4.5" fill="#a2dacf"/>
<circle cx="182.49" cy="853.38" r="2.7" fill="#6ab3a4"/>
<circle cx="64.91" cy="791.03" r="4.5" fill="#86ccbe"/>
<circle cx="65.11" cy="791.23" r="2.7" fill="#4c9e8e"/>
<circle cx="180.57" cy="864.83" r="4.5" fill="#a2dacf"/>
<circle cx="180.77" cy="865.03" r="2.7" fill="#6ab3a4"/>
<circle cx="155.01" cy="852.72" r="4.5" fill="#86ccbe"/>
<circle cx="155.21" cy="852.92" r="2.7" fill="#4c9e8e"/>
<circle cx="158.33" cy="783.38" r="4.5" fill="#86ccbe"/>
<circle cx="158.53" cy="783.58" r="2.7" fill="#4c9e8e"/>
<circle cx="51.15" cy="785.03" r="4.5" fill="#a2dacf"/>
<circle cx="51.35" cy="785.23" r="2.7" fill="#6ab3a4"/>
<circle cx="107.65" cy="751.01" r="4.5" fill="#86ccbe"/>
<circle cx="107.85" cy="751.21" r="2.7" fill="#4c9e8e"/>
<circle cx="181.06" cy="793.1" r="4.5" fill="#a2dacf"/>
<circle cx="181.26" cy="793.3" r="2.7" fill="#6ab3a4"/>
<circle cx="114.97" cy="744.94" r="4.5" fill="#86ccbe"/>
<circle cx="115.17" cy="745.14" r="2.7" fill="#4c9e8e"/>
<circle cx="187.05" cy="800.8" r="4.5" fill="#a2dacf"/>
<circle cx="187.25" cy="801" r="2.7" fill="#6ab3a4"/>
<circle cx="122.08" cy="750.85" r="4.5" fill="#86ccbe"/>
<circle cx="122.28" cy="751.05" r="2.7" fill="#4c9e8e"/>
<circle cx="180.55" cy="808.38" r="4.5" fill="#a2dacf"/>
<circle cx="180.75" cy="808.58" r="2.7" fill="#6ab3a4"/>
<circle cx="180.3" cy="783.98" r="4.5" fill="#86ccbe"/>
<circle cx="180.5" cy="784.18" r="2.7" fill="#4c9e8e"/>
<circle cx="115.46" cy="759.12" r="4.5" fill="#86ccbe"/>
<circle cx="115.66" cy="759.32" r="2.7" fill="#4c9e8e"/>
<circle cx="144.12" cy="855.95" r="4.5" fill="#86ccbe"/>
<circle cx="144.32" cy="856.15" r="2.7" fill="#4c9e8e"/>
<circle cx="124.52" cy="761.85" r="4.5" fill="#a2dacf"/>
<circle cx="124.72" cy="762.05" r="2.7" fill="#6ab3a4"/>
<circle cx="77.38" cy="749.61" r="4.5" fill="#86ccbe"/>
<circle cx="77.58" cy="749.81" r="2.7" fill="#4c9e8e"/>
<circle cx="189.64" cy="810.04" r="4.5" fill="#86ccbe"/>
<circle cx="189.84" cy="810.24" r="2.7" fill="#4c9e8e"/>
<circle cx="63.95" cy="781.97" r="4.5" fill="#86ccbe"/>
<circle cx="64.15" cy="782.17" r="2.7" fill="#4c9e8e"/>
<circle cx="188.84" cy="828.02" r="4.5" fill="#86ccbe"/>
<circle cx="189.04" cy="828.22" r="2.7" fill="#4c9e8e"/>
<circle cx="156.55" cy="842.41" r="4.5" fill="#a2dacf"/>
<circle cx="156.75" cy="842.61" r="2.7" fill="#6ab3a4"/>
<circle cx="35.06" cy="797.39" r="4.5" fill="#86ccbe"/>
<circle cx="35.26" cy="797.59" r="2.7" fill="#4c9e8e"/>
<circle cx="189.55" cy="837.33" r="4.5" fill="#86ccbe"/>
<circle cx="189.75" cy="837.53" r="2.7" fill="#4c9e8e"/>
<circle cx="117.06" cy="768.23" r="4.5" fill="#a2dacf"/>
<circle cx="117.26" cy="768.43" r="2.7" fill="#6ab3a4"/>
<circle cx="160.36" cy="774.38" r="4.5" fill="#86ccbe"/>
<circle cx="160.56" cy="774.58" r="2.7" fill="#4c9e8e"/>
<circle cx="65.43" cy="772.28" r="4.5" fill="#86ccbe"/>
<circle cx="65.63" cy="772.48" r="2.7" fill="#4c9e8e"/>
<circle cx="130.24" cy="746.1" r="4.5" fill="#86ccbe"/>
<circle cx="130.44" cy="746.3" r="2.7" fill="#4c9e8e"/>
<circle cx="73.01" cy="786.33" r="4.5" fill="#a2dacf"/>
<circle cx="73.21" cy="786.53" r="2.7" fill="#6ab3a4"/>
<circle cx="131.13" cy="755.24" r="4.5" fill="#86ccbe"/>
<circle cx="131.33" cy="755.44" r="2.7" fill="#4c9e8e"/>
<circle cx="42.32" cy="789.77" r="4.5" fill="#a2dacf"/>
<circle cx="42.52" cy="789.97" r="2.7" fill="#6ab3a4"/>
<circle cx="174.66" cy="776.6" r="4.5" fill="#a2dacf"/>
<circle cx="174.86" cy="776.8" r="2.7" fill="#6ab3a4"/>
<circle cx="58.04" cy="766.07" r="4.5" fill="#a2dacf"/>
<circle cx="58.24" cy="766.27" r="2.7" fill="#6ab3a4"/>
<circle cx="41.65" cy="780.53" r="4.5" fill="#a2dacf"/>
<circle cx="41.85" cy="780.73" r="2.7" fill="#6ab3a4"/>
<circle cx="47.07" cy="772.25" r="4.5" fill="#86ccbe"/>
<circle cx="47.27" cy="772.45" r="2.7" fill="#4c9e8e"/>
<circle cx="39.58" cy="822.79" r="4.5" fill="#a2dacf"/>
<circle cx="39.78" cy="822.99" r="2.7" fill="#6ab3a4"/>
<circle cx="162.94" cy="765.67" r="4.5" fill="#86ccbe"/>
<circle cx="163.14" cy="765.87" r="2.7" fill="#4c9e8e"/>
<circle cx="133.28" cy="766.55" r="4.5" fill="#a2dacf"/>
<circle cx="133.48" cy="766.75" r="2.7" fill="#6ab3a4"/>
<circle cx="124.77" cy="772.94" r="4.5" fill="#86ccbe"/>
<circle cx="124.97" cy="773.14" r="2.7" fill="#4c9e8e"/>
<circle cx="139.62" cy="759.02" r="4.5" fill="#86ccbe"/>
<circle cx="139.82" cy="759.22" r="2.7" fill="#4c9e8e"/>
<circle cx="151.52" cy="790.07" r="4.5" fill="#86ccbe"/>
<circle cx="151.72" cy="790.27" r="2.7" fill="#4c9e8e"/>
<circle cx="150.11" cy="778.88" r="4.5" fill="#86ccbe"/>
<circle cx="150.31" cy="779.08" r="2.7" fill="#4c9e8e"/>
<circle cx="137.79" cy="774.74" r="4.5" fill="#a2dacf"/>
<circle cx="137.99" cy="774.94" r="2.7" fill="#6ab3a4"/>
<circle cx="145.17" cy="750.81" r="4.5" fill="#86ccbe"/>
<circle cx="145.37" cy="751.01" r="2.7" fill="#4c9e8e"/>
<circle cx="153.42" cy="767.26" r="4.5" fill="#86ccbe"/>
<circle cx="153.62" cy="767.46" r="2.7" fill="#4c9e8e"/>
<circle cx="156.71" cy="758.75" r="4.5" fill="#86ccbe"/>
<circle cx="156.91" cy="758.95" r="2.7" fill="#4c9e8e"/>
<circle cx="62.54" cy="757.17" r="4.5" fill="#a2dacf"/>
<circle cx="62.74" cy="757.37" r="2.7" fill="#6ab3a4"/>
<circle cx="81.94" cy="862.79" r="4.5" fill="#a2dacf"/>
<circle cx="82.14" cy="862.99" r="2.7" fill="#6ab3a4"/>
<circle cx="131.25" cy="781.95" r="4.5" fill="#a2dacf"/>
<circle cx="131.45" cy="782.15" r="2.7" fill="#6ab3a4"/>
<circle cx="143.76" cy="767.43" r="4.5" fill="#86ccbe"/>
<circle cx="143.96" cy="767.63" r="2.7" fill="#4c9e8e"/>
<circle cx="141.74" cy="783.78" r="4.5" fill="#86ccbe"/>
<circle cx="141.94" cy="783.98" r="2.7" fill="#4c9e8e"/>
<g transform="translate(152.59 822.75) rotate(92.21)">
<rect x="-5.5" y="-3.8" width="11" height="7.6" rx="1.2" fill="#8f86d0" stroke="#8f86d0" stroke-width="1.3" stroke-dasharray="0.9,0.8"/>
<ellipse cx="0" cy="0.4" rx="3.08" ry="2.28" fill="#5b4da2"/>
</g>
<g transform="translate(152.89 834.26) rotate(100.49)">
<rect x="-5.5" y="-3.8" width="11" height="7.6" rx="1.2" fill="#8f86d0" stroke="#8f86d0" stroke-width="1.3" stroke-dasharray="0.9,0.8"/>
<ellipse cx="0" cy="0.4" rx="3.08" ry="2.28" fill="#5b4da2"/>
</g>
<g transform="translate(147.84 846.31) rotate(109.64)">
<rect x="-5.5" y="-3.8" width="11" height="7.6" rx="1.2" fill="#8f86d0" stroke="#8f86d0" stroke-width="1.3" stroke-dasharray="0.9,0.8"/>
<ellipse cx="0" cy="0.4" rx="3.08" ry="2.28" fill="#5b4da2"/>
</g>
<g transform="translate(136.67 856.61) rotate(131.07)">
<rect x="-5.5" y="-3.8" width="11" height="7.6" rx="1.2" fill="#8f86d0" stroke="#8f86d0" stroke-width="1.3" stroke-dasharray="0.9,0.8"/>
<ellipse cx="0" cy="0.4" rx="3.08" ry="2.28" fill="#5b4da2"/>
</g>
<g transform="translate(127 865.8) rotate(148.94)">
<rect x="-5.5" y="-3.8" width="11" height="7.6" rx="1.2" fill="#8f86d0" stroke="#8f86d0" stroke-width="1.3" stroke-dasharray="0.9,0.8"/>
<ellipse cx="0" cy="0.4" rx="3.08" ry="2.28" fill="#5b4da2"/>
</g>
<g transform="translate(115.04 868.02) rotate(184.24)">
<rect x="-5.5" y="-3.8" width="11" height="7.6" rx="1.2" fill="#8f86d0" stroke="#8f86d0" stroke-width="1.3" stroke-dasharray="0.9,0.8"/>
<ellipse cx="0" cy="0.4" rx="3.08" ry="2.28" fill="#5b4da2"/>
</g>
<g transform="translate(99.84 866.19) rotate(204.91)">
<rect x="-5.5" y="-3.8" width="11" height="7.6" rx="1.2" fill="#8f86d0" stroke="#8f86d0" stroke-width="1.3" stroke-dasharray="0.9,0.8"/>
<ellipse cx="0" cy="0.4" rx="3.08" ry="2.28" fill="#5b4da2"/>
</g>
<g transform="translate(89.82 864.51) rotate(201.31)">
<rect x="-5.5" y="-3.8" width="11" height="7.6" rx="1.2" fill="#8f86d0" stroke="#8f86d0" stroke-width="1.3" stroke-dasharray="0.9,0.8"/>
<ellipse cx="0" cy="0.4" rx="3.08" ry="2.28" fill="#5b4da2"/>
</g>
<g transform="translate(80.34 854.2) rotate(219.69)">
<rect x="-5.5" y="-3.8" width="11" height="7.6" rx="1.2" fill="#8f86d0" stroke="#8f86d0" stroke-width="1.3" stroke-dasharray="0.9,0.8"/>
<ellipse cx="0" cy="0.4" rx="3.08" ry="2.28" fill="#5b4da2"/>
</g>
<g transform="translate(70.73 840.62) rotate(248.78)">
<rect x="-5.5" y="-3.8" width="11" height="7.6" rx="1.2" fill="#8f86d0" stroke="#8f86d0" stroke-width="1.3" stroke-dasharray="0.9,0.8"/>
<ellipse cx="0" cy="0.4" rx="3.08" ry="2.28" fill="#5b4da2"/>
</g>
<g transform="translate(66.88 829.44) rotate(263.69)">
<rect x="-5.5" y="-3.8" width="11" height="7.6" rx="1.2" fill="#8f86d0" stroke="#8f86d0" stroke-width="1.3" stroke-dasharray="0.9,0.8"/>
<ellipse cx="0" cy="0.4" rx="3.08" ry="2.28" fill="#5b4da2"/>
</g>
<g transform="translate(67.93 820.07) rotate(268.01)">
<rect x="-5.5" y="-3.8" width="11" height="7.6" rx="1.2" fill="#8f86d0" stroke="#8f86d0" stroke-width="1.3" stroke-dasharray="0.9,0.8"/>
<ellipse cx="0" cy="0.4" rx="3.08" ry="2.28" fill="#5b4da2"/>
</g>
<g transform="translate(71.11 803.85) rotate(292.7)">
<rect x="-5.5" y="-3.8" width="11" height="7.6" rx="1.2" fill="#8f86d0" stroke="#8f86d0" stroke-width="1.3" stroke-dasharray="0.9,0.8"/>
<ellipse cx="0" cy="0.4" rx="3.08" ry="2.28" fill="#5b4da2"/>
</g>
<g transform="translate(78.24 793.62) rotate(308.74)">
<rect x="-5.5" y="-3.8" width="11" height="7.6" rx="1.2" fill="#8f86d0" stroke="#8f86d0" stroke-width="1.3" stroke-dasharray="0.9,0.8"/>
<ellipse cx="0" cy="0.4" rx="3.08" ry="2.28" fill="#5b4da2"/>
</g>
<g transform="translate(89.22 784.12) rotate(326.22)">
<rect x="-5.5" y="-3.8" width="11" height="7.6" rx="1.2" fill="#8f86d0" stroke="#8f86d0" stroke-width="1.3" stroke-dasharray="0.9,0.8"/>
<ellipse cx="0" cy="0.4" rx="3.08" ry="2.28" fill="#5b4da2"/>
</g>
<g transform="translate(100.64 780.71) rotate(356.74)">
<rect x="-5.5" y="-3.8" width="11" height="7.6" rx="1.2" fill="#8f86d0" stroke="#8f86d0" stroke-width="1.3" stroke-dasharray="0.9,0.8"/>
<ellipse cx="0" cy="0.4" rx="3.08" ry="2.28" fill="#5b4da2"/>
</g>
<g transform="translate(114.61 780.89) rotate(377.65)">
<rect x="-5.5" y="-3.8" width="11" height="7.6" rx="1.2" fill="#8f86d0" stroke="#8f86d0" stroke-width="1.3" stroke-dasharray="0.9,0.8"/>
<ellipse cx="0" cy="0.4" rx="3.08" ry="2.28" fill="#5b4da2"/>
</g>
<g transform="translate(123.76 782.35) rotate(384.54)">
<rect x="-5.5" y="-3.8" width="11" height="7.6" rx="1.2" fill="#8f86d0" stroke="#8f86d0" stroke-width="1.3" stroke-dasharray="0.9,0.8"/>
<ellipse cx="0" cy="0.4" rx="3.08" ry="2.28" fill="#5b4da2"/>
</g>
<g transform="translate(135.7 788.14) rotate(384.72)">
<rect x="-5.5" y="-3.8" width="11" height="7.6" rx="1.2" fill="#8f86d0" stroke="#8f86d0" stroke-width="1.3" stroke-dasharray="0.9,0.8"/>
<ellipse cx="0" cy="0.4" rx="3.08" ry="2.28" fill="#5b4da2"/>
</g>
<g transform="translate(147.82 799.3) rotate(418.82)">
<rect x="-5.5" y="-3.8" width="11" height="7.6" rx="1.2" fill="#8f86d0" stroke="#8f86d0" stroke-width="1.3" stroke-dasharray="0.9,0.8"/>
<ellipse cx="0" cy="0.4" rx="3.08" ry="2.28" fill="#5b4da2"/>
</g>
<g transform="translate(151.95 813.24) rotate(440.56)">
<rect x="-5.5" y="-3.8" width="11" height="7.6" rx="1.2" fill="#8f86d0" stroke="#8f86d0" stroke-width="1.3" stroke-dasharray="0.9,0.8"/>
<ellipse cx="0" cy="0.4" rx="3.08" ry="2.28" fill="#5b4da2"/>
</g>
<g transform="translate(89.3 776.64) rotate(-18.98)">
<rect x="-5.5" y="-3.8" width="11" height="7.6" rx="1.2" fill="#8f86d0" stroke="#8f86d0" stroke-width="1.3" stroke-dasharray="0.9,0.8"/>
<ellipse cx="0" cy="0.4" rx="3.08" ry="2.28" fill="#5b4da2"/>
</g>
<g transform="translate(109.38 773.3) rotate(3.29)">
<rect x="-5.5" y="-3.8" width="11" height="7.6" rx="1.2" fill="#8f86d0" stroke="#8f86d0" stroke-width="1.3" stroke-dasharray="0.9,0.8"/>
<ellipse cx="0" cy="0.4" rx="3.08" ry="2.28" fill="#5b4da2"/>
</g>
<g transform="translate(61.15 809.14) rotate(-75.49)">
<rect x="-5.5" y="-3.8" width="11" height="7.6" rx="1.2" fill="#8f86d0" stroke="#8f86d0" stroke-width="1.3" stroke-dasharray="0.9,0.8"/>
<ellipse cx="0" cy="0.4" rx="3.08" ry="2.28" fill="#5b4da2"/>
</g>
<g transform="translate(75.87 774.7) rotate(-17.8)">
<rect x="-5.5" y="-3.8" width="11" height="7.6" rx="1.2" fill="#8f86d0" stroke="#8f86d0" stroke-width="1.3" stroke-dasharray="0.9,0.8"/>
<ellipse cx="0" cy="0.4" rx="3.08" ry="2.28" fill="#5b4da2"/>
</g>
<g transform="translate(98.28 757.33) rotate(12.23)">
<rect x="-5.5" y="-3.8" width="11" height="7.6" rx="1.2" fill="#8f86d0" stroke="#8f86d0" stroke-width="1.3" stroke-dasharray="0.9,0.8"/>
<ellipse cx="0" cy="0.4" rx="3.08" ry="2.28" fill="#5b4da2"/>
</g>
<g transform="translate(47.3 823.14) rotate(269.3)">
<rect x="-5.5" y="-3.8" width="11" height="7.6" rx="1.2" fill="#8f86d0" stroke="#8f86d0" stroke-width="1.3" stroke-dasharray="0.9,0.8"/>
<ellipse cx="0" cy="0.4" rx="3.08" ry="2.28" fill="#5b4da2"/>
</g>
<g transform="translate(176.4 801.97) rotate(80.01)">
<rect x="-5.5" y="-3.8" width="11" height="7.6" rx="1.2" fill="#8f86d0" stroke="#8f86d0" stroke-width="1.3" stroke-dasharray="0.9,0.8"/>
<ellipse cx="0" cy="0.4" rx="3.08" ry="2.28" fill="#5b4da2"/>
</g>
<g transform="translate(183.78 816.96) rotate(62.73)">
<rect x="-5.5" y="-3.8" width="11" height="7.6" rx="1.2" fill="#8f86d0" stroke="#8f86d0" stroke-width="1.3" stroke-dasharray="0.9,0.8"/>
<ellipse cx="0" cy="0.4" rx="3.08" ry="2.28" fill="#5b4da2"/>
</g>
<g transform="translate(62.18 870.3) rotate(235.87)">
<rect x="-5.5" y="-3.8" width="11" height="7.6" rx="1.2" fill="#8f86d0" stroke="#8f86d0" stroke-width="1.3" stroke-dasharray="0.9,0.8"/>
<ellipse cx="0" cy="0.4" rx="3.08" ry="2.28" fill="#5b4da2"/>
</g>
<g transform="translate(144.13 891.37) rotate(160.56)">
<rect x="-5.5" y="-3.8" width="11" height="7.6" rx="1.2" fill="#8f86d0" stroke="#8f86d0" stroke-width="1.3" stroke-dasharray="0.9,0.8"/>
<ellipse cx="0" cy="0.4" rx="3.08" ry="2.28" fill="#5b4da2"/>
</g>
<g transform="translate(126.74 896.29) rotate(191.65)">
<rect x="-5.5" y="-3.8" width="11" height="7.6" rx="1.2" fill="#8f86d0" stroke="#8f86d0" stroke-width="1.3" stroke-dasharray="0.9,0.8"/>
<ellipse cx="0" cy="0.4" rx="3.08" ry="2.28" fill="#5b4da2"/>
</g>
<g transform="translate(149.08 759.78) rotate(47.5)">
<rect x="-5.5" y="-3.8" width="11" height="7.6" rx="1.2" fill="#8f86d0" stroke="#8f86d0" stroke-width="1.3" stroke-dasharray="0.9,0.8"/>
<ellipse cx="0" cy="0.4" rx="3.08" ry="2.28" fill="#5b4da2"/>
</g>
<g transform="translate(163.69 854.8) rotate(109.23)">
<rect x="-5.5" y="-3.8" width="11" height="7.6" rx="1.2" fill="#8f86d0" stroke="#8f86d0" stroke-width="1.3" stroke-dasharray="0.9,0.8"/>
<ellipse cx="0" cy="0.4" rx="3.08" ry="2.28" fill="#5b4da2"/>
</g>
<g transform="translate(55.61 778.16) rotate(-55.71)">
<rect x="-5.5" y="-3.8" width="11" height="7.6" rx="1.2" fill="#8f86d0" stroke="#8f86d0" stroke-width="1.3" stroke-dasharray="0.9,0.8"/>
<ellipse cx="0" cy="0.4" rx="3.08" ry="2.28" fill="#5b4da2"/>
</g>
<circle cx="134.2" cy="870.3" r="8" fill="#a9dbcf"/>
<circle cx="134.2" cy="870.3" r="4.5" fill="#97cfc1"/>
<circle cx="145" cy="795.8" r="4.2" fill="#8fd0cc"/>
<circle cx="145" cy="795.8" r="2.4" fill="#2f98ad"/>
<circle cx="149.7" cy="802.2" r="4.2" fill="#8fd0cc"/>
<circle cx="149.7" cy="802.2" r="2.4" fill="#2f98ad"/>
<circle cx="177.5" cy="813.3" r="4.2" fill="#8fd0cc"/>
<circle cx="177.5" cy="813.3" r="2.4" fill="#2f98ad"/>
<circle cx="73.3" cy="782.5" r="4.2" fill="#8fd0cc"/>
<circle cx="73.3" cy="782.5" r="2.4" fill="#2f98ad"/>
<circle cx="70" cy="860" r="4.2" fill="#8fd0cc"/>
<circle cx="70" cy="860" r="2.4" fill="#2f98ad"/>
<circle cx="108" cy="880" r="4.2" fill="#8fd0cc"/>
<circle cx="108" cy="880" r="2.4" fill="#2f98ad"/>
<g transform="translate(144.13 828.53) rotate(95.73)">
<rect x="-5.1" y="-3.8" width="10.2" height="7.6" rx="1.2" fill="#d98ba3" stroke="#d98ba3" stroke-width="1.3" stroke-dasharray="0.9,0.8"/>
<ellipse cx="0" cy="0.4" rx="2.86" ry="2.28" fill="#b5506f"/>
</g>
<g transform="translate(140.87 839.03) rotate(115.73)">
<rect x="-5.1" y="-3.8" width="10.2" height="7.6" rx="1.2" fill="#d98ba3" stroke="#d98ba3" stroke-width="1.3" stroke-dasharray="0.9,0.8"/>
<ellipse cx="0" cy="0.4" rx="2.86" ry="2.28" fill="#b5506f"/>
</g>
<g transform="translate(133.85 847.88) rotate(135.73)">
<rect x="-5.1" y="-3.8" width="10.2" height="7.6" rx="1.2" fill="#d98ba3" stroke="#d98ba3" stroke-width="1.3" stroke-dasharray="0.9,0.8"/>
<ellipse cx="0" cy="0.4" rx="2.86" ry="2.28" fill="#b5506f"/>
</g>
<g transform="translate(123.92 854.02) rotate(155.73)">
<rect x="-5.1" y="-3.8" width="10.2" height="7.6" rx="1.2" fill="#d98ba3" stroke="#d98ba3" stroke-width="1.3" stroke-dasharray="0.9,0.8"/>
<ellipse cx="0" cy="0.4" rx="2.86" ry="2.28" fill="#b5506f"/>
</g>
<g transform="translate(112.28 856.71) rotate(175.73)">
<rect x="-5.1" y="-3.8" width="10.2" height="7.6" rx="1.2" fill="#d98ba3" stroke="#d98ba3" stroke-width="1.3" stroke-dasharray="0.9,0.8"/>
<ellipse cx="0" cy="0.4" rx="2.86" ry="2.28" fill="#b5506f"/>
</g>
<g transform="translate(100.32 855.62) rotate(195.73)">
<rect x="-5.1" y="-3.8" width="10.2" height="7.6" rx="1.2" fill="#d98ba3" stroke="#d98ba3" stroke-width="1.3" stroke-dasharray="0.9,0.8"/>
<ellipse cx="0" cy="0.4" rx="2.86" ry="2.28" fill="#b5506f"/>
</g>
<g transform="translate(89.49 850.89) rotate(215.73)">
<rect x="-5.1" y="-3.8" width="10.2" height="7.6" rx="1.2" fill="#d98ba3" stroke="#d98ba3" stroke-width="1.3" stroke-dasharray="0.9,0.8"/>
<ellipse cx="0" cy="0.4" rx="2.86" ry="2.28" fill="#b5506f"/>
</g>
<g transform="translate(81.11 843.08) rotate(235.73)">
<rect x="-5.1" y="-3.8" width="10.2" height="7.6" rx="1.2" fill="#d98ba3" stroke="#d98ba3" stroke-width="1.3" stroke-dasharray="0.9,0.8"/>
<ellipse cx="0" cy="0.4" rx="2.86" ry="2.28" fill="#b5506f"/>
</g>
<g transform="translate(76.17 833.14) rotate(255.73)">
<rect x="-5.1" y="-3.8" width="10.2" height="7.6" rx="1.2" fill="#d98ba3" stroke="#d98ba3" stroke-width="1.3" stroke-dasharray="0.9,0.8"/>
<ellipse cx="0" cy="0.4" rx="2.86" ry="2.28" fill="#b5506f"/>
</g>
<g transform="translate(75.27 822.27) rotate(275.73)">
<rect x="-5.1" y="-3.8" width="10.2" height="7.6" rx="1.2" fill="#d98ba3" stroke="#d98ba3" stroke-width="1.3" stroke-dasharray="0.9,0.8"/>
<ellipse cx="0" cy="0.4" rx="2.86" ry="2.28" fill="#b5506f"/>
</g>
<g transform="translate(78.53 811.77) rotate(295.73)">
<rect x="-5.1" y="-3.8" width="10.2" height="7.6" rx="1.2" fill="#d98ba3" stroke="#d98ba3" stroke-width="1.3" stroke-dasharray="0.9,0.8"/>
<ellipse cx="0" cy="0.4" rx="2.86" ry="2.28" fill="#b5506f"/>
</g>
<g transform="translate(85.55 802.92) rotate(315.73)">
<rect x="-5.1" y="-3.8" width="10.2" height="7.6" rx="1.2" fill="#d98ba3" stroke="#d98ba3" stroke-width="1.3" stroke-dasharray="0.9,0.8"/>
<ellipse cx="0" cy="0.4" rx="2.86" ry="2.28" fill="#b5506f"/>
</g>
<g transform="translate(95.48 796.78) rotate(335.73)">
<rect x="-5.1" y="-3.8" width="10.2" height="7.6" rx="1.2" fill="#d98ba3" stroke="#d98ba3" stroke-width="1.3" stroke-dasharray="0.9,0.8"/>
<ellipse cx="0" cy="0.4" rx="2.86" ry="2.28" fill="#b5506f"/>
</g>
<g transform="translate(107.12 794.09) rotate(355.73)">
<rect x="-5.1" y="-3.8" width="10.2" height="7.6" rx="1.2" fill="#d98ba3" stroke="#d98ba3" stroke-width="1.3" stroke-dasharray="0.9,0.8"/>
<ellipse cx="0" cy="0.4" rx="2.86" ry="2.28" fill="#b5506f"/>
</g>
<g transform="translate(119.08 795.18) rotate(375.73)">
<rect x="-5.1" y="-3.8" width="10.2" height="7.6" rx="1.2" fill="#d98ba3" stroke="#d98ba3" stroke-width="1.3" stroke-dasharray="0.9,0.8"/>
<ellipse cx="0" cy="0.4" rx="2.86" ry="2.28" fill="#b5506f"/>
</g>
<g transform="translate(129.91 799.91) rotate(395.73)">
<rect x="-5.1" y="-3.8" width="10.2" height="7.6" rx="1.2" fill="#d98ba3" stroke="#d98ba3" stroke-width="1.3" stroke-dasharray="0.9,0.8"/>
<ellipse cx="0" cy="0.4" rx="2.86" ry="2.28" fill="#b5506f"/>
</g>
<g transform="translate(138.29 807.72) rotate(415.73)">
<rect x="-5.1" y="-3.8" width="10.2" height="7.6" rx="1.2" fill="#d98ba3" stroke="#d98ba3" stroke-width="1.3" stroke-dasharray="0.9,0.8"/>
<ellipse cx="0" cy="0.4" rx="2.86" ry="2.28" fill="#b5506f"/>
</g>
<g transform="translate(143.23 817.66) rotate(435.73)">
<rect x="-5.1" y="-3.8" width="10.2" height="7.6" rx="1.2" fill="#d98ba3" stroke="#d98ba3" stroke-width="1.3" stroke-dasharray="0.9,0.8"/>
<ellipse cx="0" cy="0.4" rx="2.86" ry="2.28" fill="#b5506f"/>
</g>
<circle cx="94.6" cy="812.2" r="7.2" fill="#d6c3e8"/>
<ellipse cx="92.8" cy="812.2" rx="2.74" ry="3.96" fill="#ab86c6"/>
<ellipse cx="96.76" cy="812.56" rx="2.59" ry="3.74" fill="#ab86c6"/>
<circle cx="114.7" cy="806.3" r="7.2" fill="#d6c3e8"/>
<ellipse cx="112.9" cy="806.3" rx="2.74" ry="3.96" fill="#ab86c6"/>
<ellipse cx="116.86" cy="806.66" rx="2.59" ry="3.74" fill="#ab86c6"/>
<circle cx="132" cy="814.8" r="6" fill="#d6c3e8"/>
<ellipse cx="130.5" cy="814.8" rx="2.28" ry="3.3" fill="#ab86c6"/>
<ellipse cx="133.8" cy="815.1" rx="2.16" ry="3.12" fill="#ab86c6"/>
<circle cx="86" cy="826.6" r="6.5" fill="#d6c3e8"/>
<ellipse cx="84.38" cy="826.6" rx="2.47" ry="3.58" fill="#ab86c6"/>
<ellipse cx="87.95" cy="826.93" rx="2.34" ry="3.38" fill="#ab86c6"/>
<circle cx="107" cy="825.3" r="6.5" fill="#d6c3e8"/>
<ellipse cx="105.38" cy="825.3" rx="2.47" ry="3.58" fill="#ab86c6"/>
<ellipse cx="108.95" cy="825.62" rx="2.34" ry="3.38" fill="#ab86c6"/>
<circle cx="122.2" cy="825.3" r="6.3" fill="#d6c3e8"/>
<ellipse cx="120.62" cy="825.3" rx="2.39" ry="3.47" fill="#ab86c6"/>
<ellipse cx="124.09" cy="825.62" rx="2.27" ry="3.28" fill="#ab86c6"/>
<circle cx="128" cy="837.2" r="5.3" fill="#d6c3e8"/>
<ellipse cx="126.67" cy="837.2" rx="2.01" ry="2.92" fill="#ab86c6"/>
<ellipse cx="129.59" cy="837.47" rx="1.91" ry="2.76" fill="#ab86c6"/>
<circle cx="99.8" cy="843" r="7" fill="#d6c3e8"/>
<ellipse cx="98.05" cy="843" rx="2.66" ry="3.85" fill="#ab86c6"/>
<ellipse cx="101.9" cy="843.35" rx="2.52" ry="3.64" fill="#ab86c6"/>
<circle cx="116.9" cy="841.8" r="5.5" fill="#d6c3e8"/>
<ellipse cx="115.53" cy="841.8" rx="2.09" ry="3.03" fill="#ab86c6"/>
<ellipse cx="118.55" cy="842.07" rx="1.98" ry="2.86" fill="#ab86c6"/>
<circle cx="101.5" cy="803" r="3.8" fill="#f4a340"/>
<circle cx="101.5" cy="803" r="2.4" fill="#ec8f25"/>
<circle cx="126.8" cy="807" r="3.8" fill="#f4a340"/>
<circle cx="126.8" cy="807" r="2.4" fill="#ec8f25"/>
<circle cx="84.7" cy="815.5" r="3.8" fill="#f4a340"/>
<circle cx="84.7" cy="815.5" r="2.4" fill="#ec8f25"/>
<circle cx="106.8" cy="814.8" r="3.8" fill="#f4a340"/>
<circle cx="106.8" cy="814.8" r="2.4" fill="#ec8f25"/>
<circle cx="114.7" cy="817.4" r="3.8" fill="#f4a340"/>
<circle cx="114.7" cy="817.4" r="2.4" fill="#ec8f25"/>
<circle cx="122.8" cy="815.2" r="3.8" fill="#f4a340"/>
<circle cx="122.8" cy="815.2" r="2.4" fill="#ec8f25"/>
<circle cx="96.9" cy="823.4" r="3.8" fill="#f4a340"/>
<circle cx="96.9" cy="823.4" r="2.4" fill="#ec8f25"/>
<circle cx="136" cy="823.4" r="3.8" fill="#f4a340"/>
<circle cx="136" cy="823.4" r="2.4" fill="#ec8f25"/>
<circle cx="96.5" cy="831.9" r="3.8" fill="#f4a340"/>
<circle cx="96.5" cy="831.9" r="2.4" fill="#ec8f25"/>
<circle cx="116" cy="833.2" r="3.8" fill="#f4a340"/>
<circle cx="116" cy="833.2" r="2.4" fill="#ec8f25"/>
<circle cx="133.6" cy="830.6" r="3.8" fill="#f4a340"/>
<circle cx="133.6" cy="830.6" r="2.4" fill="#ec8f25"/>
<circle cx="90" cy="837.8" r="3.8" fill="#f4a340"/>
<circle cx="90" cy="837.8" r="2.4" fill="#ec8f25"/>
<circle cx="108.8" cy="836.5" r="3.8" fill="#f4a340"/>
<circle cx="108.8" cy="836.5" r="2.4" fill="#ec8f25"/>
<circle cx="110.1" cy="848.3" r="3.8" fill="#f4a340"/>
<circle cx="110.1" cy="848.3" r="2.4" fill="#ec8f25"/>
</g>
<ellipse cx="215.8" cy="820.6" rx="9.9" ry="10.4" fill="#a0d1dd"/>
<circle cx="215.1" cy="819.1" r="6.1" fill="#74aebf"/>
<text x="207.7" y="843.4" font-size="9.2" fill="#111" textLength="21.6" lengthAdjust="spacingAndGlyphs">B cell</text>
<defs><linearGradient id="ga" x1="0" x2="1"><stop offset="0" stop-color="#222" stop-opacity="0.1"/><stop offset="0.6" stop-color="#222"/></linearGradient></defs>
<rect x="230.7" y="819.4" width="15" height="1.2" fill="url(#ga)"/>
<polygon points="249.2,820 244.7,822.25 244.7,817.75" fill="#222"/>
<ellipse cx="290.9" cy="820.1" rx="35.6" ry="34.6" fill="#ccb5e1" stroke="#a887c8" stroke-width="0.8"/>
<path d="M263.5 808 C262 797 272 791 283 791.5 C292 792 297 797 294 804 C291 810 290 815 286 822 C282 830 272 830 266 822 C263 817 263.5 812 263.5 808 Z" fill="#a67db8" stroke="#8e63a5" stroke-width="0.7"/>
<path d="M294 804 C296 799 302 797.5 306 800 C313 805 316 814 315 824 C314 834 306 840 299 838.5 C292 837 288 832 289.5 826 C290.5 820 291 812 294 804 Z" fill="#a67db8" stroke="#8e63a5" stroke-width="0.7"/>
<ellipse cx="280.9" cy="803.4" rx="6.0" ry="5.6" fill="#7e5192"/>
<circle cx="301.9" cy="812.6" r="6" fill="#7e5192"/>
<line x1="317.3" y1="802.6" x2="323.8" y2="798.3" stroke="#9b4fb0" stroke-width="2.4"/>
<path d="M323.5 796.5 L328.5 794.5 L327.5 797 L330 797.5 L326 800.5 Z" fill="#4a7fe0"/>
<path d="M322.5 798.5 L326 794 M324 799.5 L329.5 798" stroke="#b04fc0" stroke-width="1"/>
<g stroke="#c8404a" stroke-width="0.8" fill="none"><path d="M314.3 840.4 L318.6 844.6 M315.3 839.3 L319.6 843.5 M316.3 838.3 L320.4 842.4"/><path d="M318.8 844.4 L319.8 847.5 M319.5 843.5 L322.6 843.8" stroke-width="1.2"/></g>
<defs><linearGradient id="gb" x1="0" x2="1"><stop offset="0" stop-color="#999"/><stop offset="0.5" stop-color="#111"/></linearGradient></defs>
<path d="M281.6 785.2 A19.0 19.0 0 1 1 313.2 782.8" fill="none" stroke="url(#gb)" stroke-width="1"/>
<path d="M303.5 757.2 A19.0 19.0 0 0 1 312.6 783.4" fill="none" stroke="#111" stroke-width="1.8"/>
<polygon points="309.6,786.6 310.45,780.85 314.71,783.83" fill="#111"/>
<text x="289.2" y="749.8" font-size="8.8" fill="#111" textLength="15.2" lengthAdjust="spacingAndGlyphs">IL13</text>
<text x="322.9" y="757.1" font-size="9.4" fill="#111" textLength="63" lengthAdjust="spacingAndGlyphs">Trophic factors</text>
<text x="343.8" y="774.7" font-size="8.8" fill="#111" textLength="14.6" lengthAdjust="spacingAndGlyphs">IL13</text>
<path d="M375.5 797.5 C369 784 352 772 333 792.5" fill="none" stroke="#222" stroke-width="0.9"/>
<polygon points="330.1,795 331.87,789.7 335.4,793.23" fill="#111"/>
<text x="343.8" y="795" font-size="8.8" fill="#111" textLength="14.6" lengthAdjust="spacingAndGlyphs">IL10</text>
<text x="343.8" y="804.1" font-size="8.8" fill="#111" textLength="14" lengthAdjust="spacingAndGlyphs">IL21</text>
<text x="343.8" y="813.1" font-size="8.8" fill="#111" textLength="23.2" lengthAdjust="spacingAndGlyphs">CD40L</text>
<polygon points="377.4,787.3 379.7,789.6 377.4,791.9 375.1,789.6" fill="#3b87e6"/>
<polygon points="386.4,792.4 388.7,794.7 386.4,797 384.1,794.7" fill="#3b87e6"/>
<polygon points="379.2,796.5 381.5,798.8 379.2,801.1 376.9,798.8" fill="#3b87e6"/>
<circle cx="412" cy="801.5" r="15.6" fill="#ccb6e2" stroke="#b59dd4" stroke-width="0.7"/>
<ellipse cx="406.3" cy="797.1" rx="6.8" ry="8.4" transform="rotate(30 406.3 797.1)" fill="#a680ba"/>
<ellipse cx="417.3" cy="801.3" rx="6.2" ry="9.3" transform="rotate(-18 417.3 801.3)" fill="#a680ba"/>
<circle cx="407.5" cy="794" r="2.3" fill="#7e5192"/>
<circle cx="416.9" cy="798.4" r="2.4" fill="#7e5192"/>
<circle cx="389.7" cy="831.7" r="14" fill="#f4c7ca" stroke="#f0b8bc" stroke-width="1.4" stroke-dasharray="1.2,1"/>
<circle cx="391.9" cy="833" r="6.1" fill="#dd9c9e"/>
<circle cx="418.6" cy="838.5" r="9.5" fill="#f7b874" stroke="#f0a555" stroke-width="0.6"/>
<circle cx="417.3" cy="839.1" r="6.3" fill="#ee9e56"/>
<circle cx="346.8" cy="867.3" r="8" fill="#a7d7b1"/>
<circle cx="347.3" cy="866.8" r="5" fill="#6cb686"/>
<line x1="325.1" y1="850.2" x2="336.4" y2="857.4" stroke="#333" stroke-width="0.9"/>
<line x1="335.27" y1="859.17" x2="337.53" y2="855.63" stroke="#333" stroke-width="1.08"/>
<line x1="368.8" y1="849.2" x2="357.2" y2="857.1" stroke="#333" stroke-width="0.9"/>
<line x1="356.02" y1="855.36" x2="358.38" y2="858.84" stroke="#333" stroke-width="1.08"/>
<text x="313.1" y="866.6" font-size="8.8" fill="#111" textLength="20.2" lengthAdjust="spacingAndGlyphs">PD-L1</text>
<text x="363.7" y="863" font-size="8.8" fill="#111" textLength="20.3" lengthAdjust="spacingAndGlyphs">PD-L1</text>
<text x="363.7" y="872.5" font-size="8.8" fill="#111" textLength="15" lengthAdjust="spacingAndGlyphs">IL10</text>
<text x="363.7" y="882" font-size="8.8" fill="#111" textLength="27.9" lengthAdjust="spacingAndGlyphs">MMP12</text>
<text x="320.4" y="897.5" font-size="9.4" fill="#111" textLength="65.5" lengthAdjust="spacingAndGlyphs">Immune escape</text>
<text x="400.7" y="863.7" font-size="9.5" fill="#111" textLength="75.4" lengthAdjust="spacingAndGlyphs">Microenvironment</text>
<text x="232.6" y="866.4" font-size="9.4" fill="#111" textLength="57.8" lengthAdjust="spacingAndGlyphs">Malignant cell</text>
<text x="453.2" y="731.8" font-size="12.2" font-weight="bold" fill="#000">k</text>
<ellipse cx="523.5" cy="832.0" rx="41.5" ry="40.6" fill="#ccb5e1" stroke="#a887c8" stroke-width="0.8"/>
<ellipse cx="527.3" cy="840.5" rx="26.1" ry="16.4" fill="#e7e3ef" stroke="#b3a3d6" stroke-width="0.7" stroke-dasharray="2,1.2"/>
<rect x="521.2" y="781" width="2.6" height="22" fill="#2f86c0"/>
<rect x="523.8" y="781" width="2.5" height="19" fill="#6f9fe0"/>
<line x1="523.6" y1="801" x2="523.6" y2="806.4" stroke="#888" stroke-width="0.8"/>
<path d="M516.4 776.5 Q516.6 781.5 521.5 782 L526 782 Q530.8 781.5 530.9 776.5 Q529 774.5 527.2 776.2 A3.6 3.6 0 0 1 520.1 776.2 Q518.3 774.5 516.4 776.5 Z" fill="#2f86c0"/>
<path d="M523.7 782 L526 782 Q530.8 781.5 530.9 776.5 Q529 774.5 527.2 776.2 A3.6 3.6 0 0 1 523.7 779.5 Z" fill="#5e92dc"/>
<line x1="515.7" y1="781.6" x2="520.5" y2="786.4" stroke="#c83c3c" stroke-width="1.6"/>
<line x1="515.7" y1="786.4" x2="520.5" y2="781.6" stroke="#c83c3c" stroke-width="1.6"/>
<line x1="526.4" y1="781.6" x2="531.2" y2="786.4" stroke="#c83c3c" stroke-width="1.6"/>
<line x1="526.4" y1="786.4" x2="531.2" y2="781.6" stroke="#c83c3c" stroke-width="1.6"/>
<line x1="514.6" y1="801.3" x2="519" y2="805.7" stroke="#c83c3c" stroke-width="1.5"/>
<line x1="514.6" y1="805.7" x2="519" y2="801.3" stroke="#c83c3c" stroke-width="1.5"/>
<rect x="515.4" y="806.4" width="17.6" height="14.2" rx="3.5" fill="#eee9f6" stroke="#5546a8" stroke-width="0.8"/>
<line x1="515.4" y1="813.5" x2="533" y2="813.5" stroke="#5546a8" stroke-width="1"/>
<text x="524.2" y="811.5" font-size="4.3" text-anchor="middle" fill="#333">STAT6</text>
<text x="524.2" y="818.9" font-size="4.3" text-anchor="middle" fill="#333">STAT6</text>
<circle cx="514.6" cy="813.5" r="3.1" fill="#f4c21c" stroke="#c99a0c" stroke-width="0.6"/>
<text x="514.6" y="814.9" font-size="3.6" text-anchor="middle" fill="#7a5a00">P</text>
<circle cx="534.1" cy="813.5" r="3.1" fill="#f4c21c" stroke="#c99a0c" stroke-width="0.6"/>
<text x="534.1" y="814.9" font-size="3.6" text-anchor="middle" fill="#7a5a00">P</text>
<line x1="523.6" y1="820.6" x2="523.6" y2="826.8" stroke="#666" stroke-width="0.6"/>
<rect x="515.2" y="828.3" width="17.6" height="14.2" rx="3.5" fill="#eee9f6" stroke="#5546a8" stroke-width="0.8"/>
<line x1="515.2" y1="835.4" x2="532.8" y2="835.4" stroke="#5546a8" stroke-width="1"/>
<text x="524" y="833.4" font-size="4.3" text-anchor="middle" fill="#333">STAT6</text>
<text x="524" y="840.8" font-size="4.3" text-anchor="middle" fill="#333">STAT6</text>
<circle cx="514.4" cy="835.4" r="3.1" fill="#f4c21c" stroke="#c99a0c" stroke-width="0.6"/>
<text x="514.4" y="836.8" font-size="3.6" text-anchor="middle" fill="#7a5a00">P</text>
<circle cx="533.9" cy="835.4" r="3.1" fill="#f4c21c" stroke="#c99a0c" stroke-width="0.6"/>
<text x="533.9" y="836.8" font-size="3.6" text-anchor="middle" fill="#7a5a00">P</text>
<line x1="552" y1="809.2" x2="540.1" y2="812.1" stroke="#333" stroke-width="0.8"/>
<line x1="539.67" y1="810.35" x2="540.53" y2="813.85" stroke="#333" stroke-width="0.96"/>
<path d="M516.8 845.8 Q517.8 843.6 518.8 845.8 Q519.8 848.0 520.8 845.8 Q521.8 843.6 522.8 845.8 Q523.8 848.0 524.8 845.8 Q525.8 843.6 526.8 845.8 Q527.8 848.0 528.8 845.8 Q529.8 843.6 530.8 845.8 Q531.8 848.0 532.8 845.8 Q533.8 843.6 534.8 845.8 Q535.8 848.0 536.8 845.8 Q537.8 843.6 538.8 845.8 Q539.8 848.0 540.8 845.8 Q541.8 843.6 542.8 845.8 Q543.8 848.0 544.8 845.8" fill="none" stroke="#8a2a82" stroke-width="1"/>
<path d="M516.8 845.8 Q517.8 848.0 518.8 845.8 Q519.8 843.6 520.8 845.8 Q521.8 848.0 522.8 845.8 Q523.8 843.6 524.8 845.8 Q525.8 848.0 526.8 845.8 Q527.8 843.6 528.8 845.8 Q529.8 848.0 530.8 845.8 Q531.8 843.6 532.8 845.8 Q533.8 848.0 534.8 845.8 Q535.8 843.6 536.8 845.8 Q537.8 848.0 538.8 845.8 Q539.8 843.6 540.8 845.8 Q541.8 848.0 542.8 845.8 Q543.8 843.6 544.8 845.8" fill="none" stroke="#a0409a" stroke-width="0.8"/>
<polyline points="534.4,843.6 534.4,841 542.9,841" fill="none" stroke="#d070b0" stroke-width="0.8"/>
<circle cx="513" cy="748" r="2.5" fill="#3b2d9e"/>
<line x1="506.9" y1="746.3" x2="510.9" y2="750.3" stroke="#c84040" stroke-width="1.5"/>
<line x1="506.9" y1="750.3" x2="510.9" y2="746.3" stroke="#c84040" stroke-width="1.5"/>
<text x="507.6" y="742.4" font-size="9" fill="#111" textLength="17.7" lengthAdjust="spacingAndGlyphs">IL13</text>
<path d="M516 749.5 Q521.5 752 523 759" fill="none" stroke="#222" stroke-width="0.7"/>
<polygon points="523.7,761 521.47,758.2 524.6,757.54" fill="#222"/>
<circle cx="524" cy="764.6" r="2.7" fill="#3b2d9e"/>
<g transform="translate(538.6 748.3) rotate(45) scale(0.9)" stroke="#e0a84a" stroke-linecap="round" fill="none">
<path d="M0 4.2 L0 0 M0 0 L-3.2 -3.6 M0 0 L3.2 -3.6" stroke-width="2.1"/>
<path d="M-1.4 -3.6 L-3.9 -1.2 M1.4 -3.6 L3.9 -1.2" stroke-width="1.3"/>
</g>
<line x1="535" y1="753.4" x2="527.6" y2="761.4" stroke="#444" stroke-width="0.7"/>
<line x1="526.5" y1="760.38" x2="528.7" y2="762.42" stroke="#444" stroke-width="0.84"/>
<g transform="translate(542.1 771.3) rotate(120) scale(0.9)" stroke="#c94aa0" stroke-linecap="round" fill="none">
<path d="M0 4.2 L0 0 M0 0 L-3.2 -3.6 M0 0 L3.2 -3.6" stroke-width="2.1"/>
<path d="M-1.4 -3.6 L-3.9 -1.2 M1.4 -3.6 L3.9 -1.2" stroke-width="1.3"/>
</g>
<line x1="537" y1="768.2" x2="528" y2="765.7" stroke="#444" stroke-width="0.7"/>
<line x1="528.4" y1="764.25" x2="527.6" y2="767.15" stroke="#444" stroke-width="0.84"/>
<g transform="translate(506.6 763.6) rotate(-60) scale(0.9)" stroke="#e06474" stroke-linecap="round" fill="none">
<path d="M0 4.2 L0 0 M0 0 L-3.2 -3.6 M0 0 L3.2 -3.6" stroke-width="2.1"/>
<path d="M-1.4 -3.6 L-3.9 -1.2 M1.4 -3.6 L3.9 -1.2" stroke-width="1.3"/>
</g>
<path d="M511.5 765.7 Q517 768 518.8 772.5" fill="none" stroke="#444" stroke-width="0.7"/>
<line x1="517" y1="773.6" x2="520.6" y2="772" stroke="#444" stroke-width="0.8"/>
<text x="546.6" y="746.4" font-size="9.3" fill="#111" textLength="56.1" lengthAdjust="spacingAndGlyphs">Lebrikizumab</text>
<text x="455.5" y="764.4" font-size="9.3" fill="#111" textLength="44.4" lengthAdjust="spacingAndGlyphs">Dupilumab</text>
<text x="549" y="774.2" font-size="9.3" fill="#111" textLength="56" lengthAdjust="spacingAndGlyphs">Tralokinumab</text>
<text x="494.6" y="786.1" font-size="9" fill="#111" textLength="17.4" lengthAdjust="spacingAndGlyphs">IL4R</text>
<text x="535.5" y="786.1" font-size="9" fill="#111" textLength="34.4" lengthAdjust="spacingAndGlyphs">IL13RA1</text>
<text x="574.8" y="802.8" font-size="9" fill="#111" textLength="26.4" lengthAdjust="spacingAndGlyphs">STAT6</text>
<line x1="573.6" y1="831.7" x2="601.5" y2="831.7" stroke="#333" stroke-width="0.9"/>
<polygon points="605.2,831.7 601.2,833.7 601.2,829.7" fill="#222"/>
<g fill="#b298c9" stroke="#a084bb" stroke-width="0.6">
<ellipse cx="620.9" cy="826.1" rx="6.6" ry="10.4"/>
<ellipse cx="638.7" cy="827.5" rx="9.5" ry="8"/>
<ellipse cx="643.7" cy="813.8" rx="3.8" ry="3.8"/>
<ellipse cx="648.5" cy="819.5" rx="1.8" ry="1.8"/>
<ellipse cx="633" cy="819" rx="3" ry="2.8"/>
<ellipse cx="656.2" cy="822.8" rx="5.8" ry="5.8"/>
<ellipse cx="652" cy="833.7" rx="5.5" ry="5.2"/>
<ellipse cx="643" cy="834.9" rx="1.9" ry="1.9"/>
<ellipse cx="620.7" cy="844.1" rx="5.5" ry="5.2"/>
<ellipse cx="630.6" cy="838.5" rx="5.4" ry="4.4"/>
<ellipse cx="640.1" cy="850.3" rx="6.8" ry="6.3"/>
<ellipse cx="650.1" cy="845.5" rx="6" ry="5.6"/>
<ellipse cx="645" cy="848" rx="5" ry="5"/>
</g>
<ellipse cx="636.8" cy="825.6" rx="4" ry="3.5" fill="#9470ad"/>
<ellipse cx="631.5" cy="839.5" rx="1.8" ry="3.2" fill="#9470ad"/>
<line x1="502" y1="887.9" x2="505.8" y2="891.7" stroke="#c83c3c" stroke-width="1.3"/>
<line x1="502" y1="891.7" x2="505.8" y2="887.9" stroke="#c83c3c" stroke-width="1.3"/>
<text x="510.8" y="888" font-size="8.9" fill="#111" textLength="55.9" lengthAdjust="spacingAndGlyphs">CRISPR/Cas9</text>
<text x="510.8" y="896.1" font-size="8.9" fill="#111" textLength="38.3" lengthAdjust="spacingAndGlyphs">knockout</text>
</svg>
</body></html>
